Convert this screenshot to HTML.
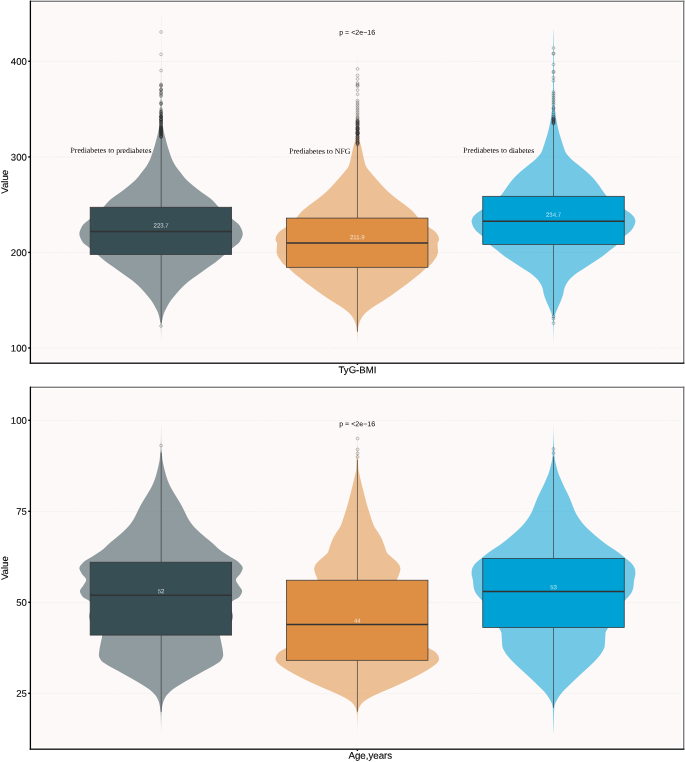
<!DOCTYPE html>
<html lang="en">
<head>
<meta charset="utf-8">
<title>Violin plots: TyG-BMI and Age by group</title>
<style>
html,body{margin:0;padding:0;background:#ffffff;}
body{width:685px;height:762px;overflow:hidden;}
svg{display:block;}
</style>
</head>
<body>
<svg width="685" height="762" viewBox="0 0 685 762">
<rect x="0" y="0" width="685" height="762" fill="#ffffff"/>
<g id="panel1">
<rect x="30.4" y="0.60" width="654.00" height="1.4" fill="#7f7f7f"/>
<rect x="683.00" y="0.60" width="1.4" height="362.60" fill="#7f7f7f"/>
<rect x="31.7" y="3.0" width="650.00" height="358.30" fill="#FDF9F8"/>
<line x1="31.7" x2="681.7" y1="61.3" y2="61.3" stroke="#d9d9d9" stroke-width="0.6" stroke-dasharray="0.9 1.15" opacity="0.85"/>
<line x1="31.7" x2="681.7" y1="156.9" y2="156.9" stroke="#d9d9d9" stroke-width="0.6" stroke-dasharray="0.9 1.15" opacity="0.85"/>
<line x1="31.7" x2="681.7" y1="252.4" y2="252.4" stroke="#d9d9d9" stroke-width="0.6" stroke-dasharray="0.9 1.15" opacity="0.85"/>
<line x1="31.7" x2="681.7" y1="348.0" y2="348.0" stroke="#d9d9d9" stroke-width="0.6" stroke-dasharray="0.9 1.15" opacity="0.85"/>
<path d="M161.03 16.00 L161.03 16.50 L161.03 17.00 L161.03 17.50 L161.03 18.00 L161.03 18.50 L161.03 19.00 L161.03 19.50 L161.03 20.00 L161.03 20.50 L161.03 21.00 L161.03 21.50 L161.03 22.00 L161.03 22.50 L161.03 23.00 L161.03 23.50 L161.03 24.00 L161.03 24.50 L161.03 25.00 L161.03 25.50 L161.03 26.00 L161.03 26.50 L161.03 27.00 L161.03 27.50 L161.03 28.00 L161.03 28.50 L161.03 29.00 L161.03 29.50 L161.03 30.00 L161.03 30.50 L161.03 31.00 L161.03 31.50 L161.03 32.00 L161.03 32.50 L161.03 33.00 L161.02 33.50 L161.02 34.00 L161.02 34.50 L161.02 35.00 L161.02 35.50 L161.02 36.00 L161.02 36.50 L161.02 37.00 L161.02 37.50 L161.02 38.00 L161.02 38.50 L161.02 39.00 L161.02 39.50 L161.02 40.00 L161.02 40.50 L161.02 41.00 L161.02 41.50 L161.02 42.00 L161.02 42.50 L161.02 43.00 L161.02 43.50 L161.02 44.00 L161.02 44.50 L161.02 45.00 L161.02 45.50 L161.02 46.00 L161.01 46.50 L161.01 47.00 L161.01 47.50 L161.01 48.00 L161.01 48.50 L161.01 49.00 L161.01 49.50 L161.01 50.00 L161.01 50.50 L161.01 51.00 L161.01 51.50 L161.01 52.00 L161.01 52.50 L161.01 53.00 L161.01 53.50 L161.01 54.00 L161.01 54.50 L161.01 55.00 L161.01 55.50 L161.00 56.00 L161.00 56.50 L161.00 57.00 L161.00 57.50 L161.00 58.00 L161.00 58.50 L161.00 59.00 L161.00 59.50 L161.00 60.00 L161.00 60.50 L161.00 61.00 L161.00 61.50 L161.00 62.00 L161.00 62.50 L161.00 63.00 L160.99 63.50 L160.99 64.00 L160.99 64.50 L160.99 65.00 L160.99 65.50 L160.99 66.00 L160.99 66.50 L160.99 67.00 L160.99 67.50 L160.98 68.00 L160.98 68.50 L160.98 69.00 L160.98 69.50 L160.98 70.00 L160.98 70.50 L160.98 71.00 L160.97 71.50 L160.97 72.00 L160.97 72.50 L160.97 73.00 L160.97 73.50 L160.97 74.00 L160.96 74.50 L160.96 75.00 L160.96 75.50 L160.96 76.00 L160.96 76.50 L160.95 77.00 L160.95 77.50 L160.95 78.00 L160.95 78.50 L160.95 79.00 L160.94 79.50 L160.94 80.00 L160.94 80.50 L160.94 81.00 L160.93 81.50 L160.93 82.00 L160.93 82.50 L160.92 83.00 L160.92 83.50 L160.92 84.00 L160.91 84.50 L160.91 85.00 L160.91 85.50 L160.90 86.00 L160.90 86.50 L160.89 87.00 L160.89 87.50 L160.88 88.00 L160.88 88.50 L160.87 89.00 L160.87 89.50 L160.86 90.00 L160.86 90.50 L160.85 91.00 L160.84 91.50 L160.84 92.00 L160.83 92.50 L160.82 93.00 L160.82 93.50 L160.81 94.00 L160.80 94.50 L160.79 95.00 L160.78 95.50 L160.78 96.00 L160.77 96.50 L160.76 97.00 L160.75 97.50 L160.74 98.00 L160.73 98.50 L160.72 99.00 L160.71 99.50 L160.70 100.00 L160.69 100.50 L160.68 101.00 L160.67 101.50 L160.65 102.00 L160.64 102.50 L160.62 103.00 L160.60 103.50 L160.59 104.00 L160.57 104.50 L160.55 105.00 L160.53 105.50 L160.50 106.00 L160.48 106.50 L160.46 107.00 L160.44 107.50 L160.41 108.00 L160.39 108.50 L160.36 109.00 L160.34 109.50 L160.31 110.00 L160.29 110.50 L160.26 111.00 L160.23 111.50 L160.21 112.00 L160.18 112.50 L160.15 113.00 L160.13 113.50 L160.10 114.00 L160.07 114.50 L160.04 115.00 L160.01 115.50 L159.98 116.00 L159.95 116.50 L159.92 117.00 L159.89 117.50 L159.86 118.00 L159.83 118.50 L159.79 119.00 L159.76 119.50 L159.72 120.00 L159.68 120.50 L159.65 121.00 L159.61 121.50 L159.57 122.00 L159.52 122.50 L159.48 123.00 L159.44 123.50 L159.39 124.00 L159.34 124.50 L159.29 125.00 L159.24 125.50 L159.19 126.00 L159.14 126.50 L159.08 127.00 L159.01 127.50 L158.94 128.00 L158.86 128.50 L158.78 129.00 L158.70 129.50 L158.61 130.00 L158.52 130.50 L158.42 131.00 L158.32 131.50 L158.22 132.00 L158.12 132.50 L158.02 133.00 L157.91 133.50 L157.80 134.00 L157.68 134.50 L157.55 135.00 L157.43 135.50 L157.29 136.00 L157.16 136.50 L157.02 137.00 L156.89 137.50 L156.75 138.00 L156.61 138.50 L156.48 139.00 L156.34 139.50 L156.21 140.00 L156.08 140.50 L155.95 141.00 L155.82 141.50 L155.68 142.00 L155.55 142.50 L155.42 143.00 L155.28 143.50 L155.14 144.00 L155.01 144.50 L154.87 145.00 L154.72 145.50 L154.58 146.00 L154.43 146.50 L154.28 147.00 L154.13 147.50 L153.98 148.00 L153.82 148.50 L153.66 149.00 L153.50 149.50 L153.34 150.00 L153.18 150.50 L153.02 151.00 L152.85 151.50 L152.69 152.00 L152.52 152.50 L152.35 153.00 L152.19 153.50 L152.03 154.00 L151.86 154.50 L151.70 155.00 L151.53 155.50 L151.36 156.00 L151.19 156.50 L151.01 157.00 L150.83 157.50 L150.64 158.00 L150.44 158.50 L150.24 159.00 L150.03 159.50 L149.80 160.00 L149.57 160.50 L149.33 161.00 L149.08 161.50 L148.83 162.00 L148.57 162.50 L148.29 163.00 L148.02 163.50 L147.73 164.00 L147.44 164.50 L147.14 165.00 L146.84 165.50 L146.52 166.00 L146.19 166.50 L145.85 167.00 L145.49 167.50 L145.12 168.00 L144.74 168.50 L144.35 169.00 L143.96 169.50 L143.56 170.00 L143.16 170.50 L142.76 171.00 L142.36 171.50 L141.97 172.00 L141.58 172.50 L141.20 173.00 L140.82 173.50 L140.44 174.00 L140.06 174.50 L139.69 175.00 L139.30 175.50 L138.92 176.00 L138.52 176.50 L138.12 177.00 L137.70 177.50 L137.27 178.00 L136.83 178.50 L136.37 179.00 L135.89 179.50 L135.39 180.00 L134.88 180.50 L134.35 181.00 L133.80 181.50 L133.25 182.00 L132.68 182.50 L132.11 183.00 L131.53 183.50 L130.94 184.00 L130.35 184.50 L129.76 185.00 L129.17 185.50 L128.57 186.00 L127.96 186.50 L127.34 187.00 L126.71 187.50 L126.07 188.00 L125.43 188.50 L124.78 189.00 L124.13 189.50 L123.47 190.00 L122.81 190.50 L122.15 191.00 L121.49 191.50 L120.82 192.00 L120.15 192.50 L119.46 193.00 L118.75 193.50 L118.03 194.00 L117.31 194.50 L116.58 195.00 L115.85 195.50 L115.13 196.00 L114.41 196.50 L113.71 197.00 L113.02 197.50 L112.35 198.00 L111.70 198.50 L111.08 199.00 L110.49 199.50 L109.94 200.00 L109.41 200.50 L108.91 201.00 L108.43 201.50 L107.96 202.00 L107.51 202.50 L107.06 203.00 L106.62 203.50 L106.19 204.00 L105.75 204.50 L105.30 205.00 L104.85 205.50 L104.38 206.00 L103.90 206.50 L103.40 207.00 L102.88 207.50 L102.35 208.00 L101.82 208.50 L101.28 209.00 L100.73 209.50 L100.17 210.00 L99.61 210.50 L99.04 211.00 L98.47 211.50 L97.90 212.00 L97.32 212.50 L96.74 213.00 L96.16 213.50 L95.57 214.00 L94.99 214.50 L94.40 215.00 L93.82 215.50 L93.24 216.00 L92.66 216.50 L92.09 217.00 L91.52 217.50 L90.95 218.00 L90.39 218.50 L89.83 219.00 L89.25 219.50 L88.64 220.00 L88.01 220.50 L87.38 221.00 L86.74 221.50 L86.11 222.00 L85.49 222.50 L84.89 223.00 L84.32 223.50 L83.79 224.00 L83.30 224.50 L82.87 225.00 L82.50 225.50 L82.19 226.00 L81.92 226.50 L81.66 227.00 L81.40 227.50 L81.15 228.00 L80.90 228.50 L80.67 229.00 L80.45 229.50 L80.25 230.00 L80.06 230.50 L79.89 231.00 L79.75 231.50 L79.62 232.00 L79.52 232.50 L79.45 233.00 L79.41 233.50 L79.40 234.00 L79.43 234.50 L79.49 235.00 L79.58 235.50 L79.69 236.00 L79.84 236.50 L80.01 237.00 L80.20 237.50 L80.41 238.00 L80.64 238.50 L80.89 239.00 L81.15 239.50 L81.42 240.00 L81.70 240.50 L81.98 241.00 L82.27 241.50 L82.58 242.00 L82.96 242.50 L83.41 243.00 L83.93 243.50 L84.49 244.00 L85.10 244.50 L85.74 245.00 L86.40 245.50 L87.08 246.00 L87.75 246.50 L88.42 247.00 L89.07 247.50 L89.70 248.00 L90.29 248.50 L90.87 249.00 L91.46 249.50 L92.04 250.00 L92.63 250.50 L93.21 251.00 L93.80 251.50 L94.38 252.00 L94.97 252.50 L95.56 253.00 L96.15 253.50 L96.73 254.00 L97.33 254.50 L97.91 255.00 L98.50 255.50 L99.08 256.00 L99.66 256.50 L100.24 257.00 L100.82 257.50 L101.40 258.00 L101.99 258.50 L102.58 259.00 L103.18 259.50 L103.78 260.00 L104.40 260.50 L105.02 261.00 L105.66 261.50 L106.31 262.00 L106.98 262.50 L107.66 263.00 L108.36 263.50 L109.07 264.00 L109.78 264.50 L110.50 265.00 L111.22 265.50 L111.95 266.00 L112.67 266.50 L113.39 267.00 L114.10 267.50 L114.81 268.00 L115.51 268.50 L116.21 269.00 L116.90 269.50 L117.60 270.00 L118.29 270.50 L118.98 271.00 L119.68 271.50 L120.37 272.00 L121.06 272.50 L121.75 273.00 L122.45 273.50 L123.14 274.00 L123.83 274.50 L124.53 275.00 L125.23 275.50 L125.95 276.00 L126.66 276.50 L127.38 277.00 L128.10 277.50 L128.82 278.00 L129.53 278.50 L130.23 279.00 L130.92 279.50 L131.60 280.00 L132.26 280.50 L132.90 281.00 L133.51 281.50 L134.12 282.00 L134.72 282.50 L135.30 283.00 L135.88 283.50 L136.44 284.00 L137.00 284.50 L137.54 285.00 L138.08 285.50 L138.61 286.00 L139.13 286.50 L139.64 287.00 L140.14 287.50 L140.64 288.00 L141.12 288.50 L141.59 289.00 L142.06 289.50 L142.51 290.00 L142.96 290.50 L143.41 291.00 L143.84 291.50 L144.28 292.00 L144.71 292.50 L145.13 293.00 L145.55 293.50 L145.98 294.00 L146.40 294.50 L146.82 295.00 L147.24 295.50 L147.67 296.00 L148.09 296.50 L148.51 297.00 L148.92 297.50 L149.33 298.00 L149.73 298.50 L150.13 299.00 L150.51 299.50 L150.88 300.00 L151.24 300.50 L151.59 301.00 L151.93 301.50 L152.25 302.00 L152.57 302.50 L152.89 303.00 L153.19 303.50 L153.49 304.00 L153.78 304.50 L154.07 305.00 L154.35 305.50 L154.63 306.00 L154.90 306.50 L155.16 307.00 L155.42 307.50 L155.68 308.00 L155.94 308.50 L156.20 309.00 L156.46 309.50 L156.71 310.00 L156.96 310.50 L157.20 311.00 L157.44 311.50 L157.66 312.00 L157.87 312.50 L158.07 313.00 L158.26 313.50 L158.43 314.00 L158.58 314.50 L158.73 315.00 L158.87 315.50 L159.00 316.00 L159.12 316.50 L159.24 317.00 L159.36 317.50 L159.47 318.00 L159.58 318.50 L159.68 319.00 L159.79 319.50 L159.90 320.00 L160.01 320.50 L160.12 321.00 L160.25 321.50 L160.38 322.00 L160.50 322.50 L160.59 323.00 L160.65 323.50 L160.69 324.00 L160.72 324.50 L160.75 325.00 L160.78 325.50 L160.81 326.00 L160.83 326.50 L160.85 327.00 L160.87 327.50 L160.89 328.00 L160.90 328.50 L160.91 329.00 L160.92 329.50 L160.93 330.00 L160.94 330.50 L160.95 331.00 L160.95 331.50 L160.96 332.00 L160.97 332.50 L160.97 333.00 L160.98 333.50 L160.98 334.00 L160.99 334.50 L160.99 335.00 L161.00 335.50 L161.00 336.00 L161.01 336.50 L161.01 337.00 L161.01 337.50 L161.02 338.00 L161.02 338.50 L161.02 339.00 L161.02 339.50 L161.02 340.00 L161.08 340.00 L161.08 339.50 L161.08 339.00 L161.08 338.50 L161.08 338.00 L161.09 337.50 L161.09 337.00 L161.09 336.50 L161.10 336.00 L161.10 335.50 L161.11 335.00 L161.11 334.50 L161.12 334.00 L161.12 333.50 L161.13 333.00 L161.13 332.50 L161.14 332.00 L161.15 331.50 L161.15 331.00 L161.16 330.50 L161.17 330.00 L161.18 329.50 L161.19 329.00 L161.20 328.50 L161.21 328.00 L161.23 327.50 L161.25 327.00 L161.27 326.50 L161.29 326.00 L161.32 325.50 L161.35 325.00 L161.38 324.50 L161.41 324.00 L161.45 323.50 L161.51 323.00 L161.60 322.50 L161.72 322.00 L161.85 321.50 L161.98 321.00 L162.09 320.50 L162.20 320.00 L162.31 319.50 L162.42 319.00 L162.52 318.50 L162.63 318.00 L162.74 317.50 L162.86 317.00 L162.98 316.50 L163.10 316.00 L163.23 315.50 L163.37 315.00 L163.52 314.50 L163.67 314.00 L163.84 313.50 L164.03 313.00 L164.23 312.50 L164.44 312.00 L164.66 311.50 L164.90 311.00 L165.14 310.50 L165.39 310.00 L165.64 309.50 L165.90 309.00 L166.16 308.50 L166.42 308.00 L166.68 307.50 L166.94 307.00 L167.20 306.50 L167.47 306.00 L167.75 305.50 L168.03 305.00 L168.32 304.50 L168.61 304.00 L168.91 303.50 L169.21 303.00 L169.53 302.50 L169.85 302.00 L170.17 301.50 L170.51 301.00 L170.86 300.50 L171.22 300.00 L171.59 299.50 L171.97 299.00 L172.37 298.50 L172.77 298.00 L173.18 297.50 L173.59 297.00 L174.01 296.50 L174.43 296.00 L174.86 295.50 L175.28 295.00 L175.70 294.50 L176.12 294.00 L176.55 293.50 L176.97 293.00 L177.39 292.50 L177.82 292.00 L178.26 291.50 L178.69 291.00 L179.14 290.50 L179.59 290.00 L180.04 289.50 L180.51 289.00 L180.98 288.50 L181.46 288.00 L181.96 287.50 L182.46 287.00 L182.97 286.50 L183.49 286.00 L184.02 285.50 L184.56 285.00 L185.10 284.50 L185.66 284.00 L186.22 283.50 L186.80 283.00 L187.38 282.50 L187.98 282.00 L188.59 281.50 L189.20 281.00 L189.84 280.50 L190.50 280.00 L191.18 279.50 L191.87 279.00 L192.57 278.50 L193.28 278.00 L194.00 277.50 L194.72 277.00 L195.44 276.50 L196.15 276.00 L196.87 275.50 L197.57 275.00 L198.27 274.50 L198.96 274.00 L199.65 273.50 L200.35 273.00 L201.04 272.50 L201.73 272.00 L202.42 271.50 L203.12 271.00 L203.81 270.50 L204.50 270.00 L205.20 269.50 L205.89 269.00 L206.59 268.50 L207.29 268.00 L208.00 267.50 L208.71 267.00 L209.43 266.50 L210.15 266.00 L210.88 265.50 L211.60 265.00 L212.32 264.50 L213.03 264.00 L213.74 263.50 L214.44 263.00 L215.12 262.50 L215.79 262.00 L216.44 261.50 L217.08 261.00 L217.70 260.50 L218.32 260.00 L218.92 259.50 L219.52 259.00 L220.11 258.50 L220.70 258.00 L221.28 257.50 L221.86 257.00 L222.44 256.50 L223.02 256.00 L223.60 255.50 L224.19 255.00 L224.77 254.50 L225.37 254.00 L225.95 253.50 L226.54 253.00 L227.13 252.50 L227.72 252.00 L228.30 251.50 L228.89 251.00 L229.47 250.50 L230.06 250.00 L230.64 249.50 L231.23 249.00 L231.81 248.50 L232.40 248.00 L233.03 247.50 L233.68 247.00 L234.35 246.50 L235.02 246.00 L235.70 245.50 L236.36 245.00 L237.00 244.50 L237.61 244.00 L238.17 243.50 L238.69 243.00 L239.14 242.50 L239.52 242.00 L239.83 241.50 L240.12 241.00 L240.40 240.50 L240.68 240.00 L240.95 239.50 L241.21 239.00 L241.46 238.50 L241.69 238.00 L241.90 237.50 L242.09 237.00 L242.26 236.50 L242.41 236.00 L242.52 235.50 L242.61 235.00 L242.67 234.50 L242.70 234.00 L242.69 233.50 L242.65 233.00 L242.58 232.50 L242.48 232.00 L242.35 231.50 L242.21 231.00 L242.04 230.50 L241.85 230.00 L241.65 229.50 L241.43 229.00 L241.20 228.50 L240.95 228.00 L240.70 227.50 L240.44 227.00 L240.18 226.50 L239.91 226.00 L239.60 225.50 L239.23 225.00 L238.80 224.50 L238.31 224.00 L237.78 223.50 L237.21 223.00 L236.61 222.50 L235.99 222.00 L235.36 221.50 L234.72 221.00 L234.09 220.50 L233.46 220.00 L232.85 219.50 L232.27 219.00 L231.71 218.50 L231.15 218.00 L230.58 217.50 L230.01 217.00 L229.44 216.50 L228.86 216.00 L228.28 215.50 L227.70 215.00 L227.11 214.50 L226.53 214.00 L225.94 213.50 L225.36 213.00 L224.78 212.50 L224.20 212.00 L223.63 211.50 L223.06 211.00 L222.49 210.50 L221.93 210.00 L221.37 209.50 L220.82 209.00 L220.28 208.50 L219.75 208.00 L219.22 207.50 L218.70 207.00 L218.20 206.50 L217.72 206.00 L217.25 205.50 L216.80 205.00 L216.35 204.50 L215.91 204.00 L215.48 203.50 L215.04 203.00 L214.59 202.50 L214.14 202.00 L213.67 201.50 L213.19 201.00 L212.69 200.50 L212.16 200.00 L211.61 199.50 L211.02 199.00 L210.40 198.50 L209.75 198.00 L209.08 197.50 L208.39 197.00 L207.69 196.50 L206.97 196.00 L206.25 195.50 L205.52 195.00 L204.79 194.50 L204.07 194.00 L203.35 193.50 L202.64 193.00 L201.95 192.50 L201.28 192.00 L200.61 191.50 L199.95 191.00 L199.29 190.50 L198.63 190.00 L197.97 189.50 L197.32 189.00 L196.67 188.50 L196.03 188.00 L195.39 187.50 L194.76 187.00 L194.14 186.50 L193.53 186.00 L192.93 185.50 L192.34 185.00 L191.75 184.50 L191.16 184.00 L190.57 183.50 L189.99 183.00 L189.42 182.50 L188.85 182.00 L188.30 181.50 L187.75 181.00 L187.22 180.50 L186.71 180.00 L186.21 179.50 L185.73 179.00 L185.27 178.50 L184.83 178.00 L184.40 177.50 L183.98 177.00 L183.58 176.50 L183.18 176.00 L182.80 175.50 L182.41 175.00 L182.04 174.50 L181.66 174.00 L181.28 173.50 L180.90 173.00 L180.52 172.50 L180.13 172.00 L179.74 171.50 L179.34 171.00 L178.94 170.50 L178.54 170.00 L178.14 169.50 L177.75 169.00 L177.36 168.50 L176.98 168.00 L176.61 167.50 L176.25 167.00 L175.91 166.50 L175.58 166.00 L175.26 165.50 L174.96 165.00 L174.66 164.50 L174.37 164.00 L174.08 163.50 L173.81 163.00 L173.53 162.50 L173.27 162.00 L173.02 161.50 L172.77 161.00 L172.53 160.50 L172.30 160.00 L172.07 159.50 L171.86 159.00 L171.66 158.50 L171.46 158.00 L171.27 157.50 L171.09 157.00 L170.91 156.50 L170.74 156.00 L170.57 155.50 L170.40 155.00 L170.24 154.50 L170.07 154.00 L169.91 153.50 L169.75 153.00 L169.58 152.50 L169.41 152.00 L169.25 151.50 L169.08 151.00 L168.92 150.50 L168.76 150.00 L168.60 149.50 L168.44 149.00 L168.28 148.50 L168.12 148.00 L167.97 147.50 L167.82 147.00 L167.67 146.50 L167.52 146.00 L167.38 145.50 L167.23 145.00 L167.09 144.50 L166.96 144.00 L166.82 143.50 L166.68 143.00 L166.55 142.50 L166.42 142.00 L166.28 141.50 L166.15 141.00 L166.02 140.50 L165.89 140.00 L165.76 139.50 L165.62 139.00 L165.49 138.50 L165.35 138.00 L165.21 137.50 L165.08 137.00 L164.94 136.50 L164.81 136.00 L164.67 135.50 L164.55 135.00 L164.42 134.50 L164.30 134.00 L164.19 133.50 L164.08 133.00 L163.98 132.50 L163.88 132.00 L163.78 131.50 L163.68 131.00 L163.58 130.50 L163.49 130.00 L163.40 129.50 L163.32 129.00 L163.24 128.50 L163.16 128.00 L163.09 127.50 L163.02 127.00 L162.96 126.50 L162.91 126.00 L162.86 125.50 L162.81 125.00 L162.76 124.50 L162.71 124.00 L162.66 123.50 L162.62 123.00 L162.58 122.50 L162.53 122.00 L162.49 121.50 L162.45 121.00 L162.42 120.50 L162.38 120.00 L162.34 119.50 L162.31 119.00 L162.27 118.50 L162.24 118.00 L162.21 117.50 L162.18 117.00 L162.15 116.50 L162.12 116.00 L162.09 115.50 L162.06 115.00 L162.03 114.50 L162.00 114.00 L161.97 113.50 L161.95 113.00 L161.92 112.50 L161.89 112.00 L161.87 111.50 L161.84 111.00 L161.81 110.50 L161.79 110.00 L161.76 109.50 L161.74 109.00 L161.71 108.50 L161.69 108.00 L161.66 107.50 L161.64 107.00 L161.62 106.50 L161.60 106.00 L161.57 105.50 L161.55 105.00 L161.53 104.50 L161.51 104.00 L161.50 103.50 L161.48 103.00 L161.46 102.50 L161.45 102.00 L161.43 101.50 L161.42 101.00 L161.41 100.50 L161.40 100.00 L161.39 99.50 L161.38 99.00 L161.37 98.50 L161.36 98.00 L161.35 97.50 L161.34 97.00 L161.33 96.50 L161.32 96.00 L161.32 95.50 L161.31 95.00 L161.30 94.50 L161.29 94.00 L161.28 93.50 L161.28 93.00 L161.27 92.50 L161.26 92.00 L161.26 91.50 L161.25 91.00 L161.24 90.50 L161.24 90.00 L161.23 89.50 L161.23 89.00 L161.22 88.50 L161.22 88.00 L161.21 87.50 L161.21 87.00 L161.20 86.50 L161.20 86.00 L161.19 85.50 L161.19 85.00 L161.19 84.50 L161.18 84.00 L161.18 83.50 L161.18 83.00 L161.17 82.50 L161.17 82.00 L161.17 81.50 L161.16 81.00 L161.16 80.50 L161.16 80.00 L161.16 79.50 L161.15 79.00 L161.15 78.50 L161.15 78.00 L161.15 77.50 L161.15 77.00 L161.14 76.50 L161.14 76.00 L161.14 75.50 L161.14 75.00 L161.14 74.50 L161.13 74.00 L161.13 73.50 L161.13 73.00 L161.13 72.50 L161.13 72.00 L161.13 71.50 L161.12 71.00 L161.12 70.50 L161.12 70.00 L161.12 69.50 L161.12 69.00 L161.12 68.50 L161.12 68.00 L161.11 67.50 L161.11 67.00 L161.11 66.50 L161.11 66.00 L161.11 65.50 L161.11 65.00 L161.11 64.50 L161.11 64.00 L161.11 63.50 L161.10 63.00 L161.10 62.50 L161.10 62.00 L161.10 61.50 L161.10 61.00 L161.10 60.50 L161.10 60.00 L161.10 59.50 L161.10 59.00 L161.10 58.50 L161.10 58.00 L161.10 57.50 L161.10 57.00 L161.10 56.50 L161.10 56.00 L161.09 55.50 L161.09 55.00 L161.09 54.50 L161.09 54.00 L161.09 53.50 L161.09 53.00 L161.09 52.50 L161.09 52.00 L161.09 51.50 L161.09 51.00 L161.09 50.50 L161.09 50.00 L161.09 49.50 L161.09 49.00 L161.09 48.50 L161.09 48.00 L161.09 47.50 L161.09 47.00 L161.09 46.50 L161.08 46.00 L161.08 45.50 L161.08 45.00 L161.08 44.50 L161.08 44.00 L161.08 43.50 L161.08 43.00 L161.08 42.50 L161.08 42.00 L161.08 41.50 L161.08 41.00 L161.08 40.50 L161.08 40.00 L161.08 39.50 L161.08 39.00 L161.08 38.50 L161.08 38.00 L161.08 37.50 L161.08 37.00 L161.08 36.50 L161.08 36.00 L161.08 35.50 L161.08 35.00 L161.08 34.50 L161.08 34.00 L161.08 33.50 L161.07 33.00 L161.07 32.50 L161.07 32.00 L161.07 31.50 L161.07 31.00 L161.07 30.50 L161.07 30.00 L161.07 29.50 L161.07 29.00 L161.07 28.50 L161.07 28.00 L161.07 27.50 L161.07 27.00 L161.07 26.50 L161.07 26.00 L161.07 25.50 L161.07 25.00 L161.07 24.50 L161.07 24.00 L161.07 23.50 L161.07 23.00 L161.07 22.50 L161.07 22.00 L161.07 21.50 L161.07 21.00 L161.07 20.50 L161.07 20.00 L161.07 19.50 L161.07 19.00 L161.07 18.50 L161.07 18.00 L161.07 17.50 L161.07 17.00 L161.07 16.50 L161.07 16.00Z" fill="#374E55" fill-opacity="0.55"/>
<path d="M357.28 54.00 L357.28 54.50 L357.28 55.00 L357.28 55.50 L357.28 56.00 L357.28 56.50 L357.28 57.00 L357.28 57.50 L357.28 58.00 L357.28 58.50 L357.28 59.00 L357.28 59.50 L357.28 60.00 L357.28 60.50 L357.28 61.00 L357.28 61.50 L357.28 62.00 L357.28 62.50 L357.28 63.00 L357.28 63.50 L357.28 64.00 L357.28 64.50 L357.28 65.00 L357.27 65.50 L357.27 66.00 L357.27 66.50 L357.27 67.00 L357.27 67.50 L357.27 68.00 L357.27 68.50 L357.27 69.00 L357.27 69.50 L357.27 70.00 L357.27 70.50 L357.27 71.00 L357.27 71.50 L357.27 72.00 L357.27 72.50 L357.27 73.00 L357.27 73.50 L357.26 74.00 L357.26 74.50 L357.26 75.00 L357.26 75.50 L357.26 76.00 L357.26 76.50 L357.26 77.00 L357.26 77.50 L357.26 78.00 L357.26 78.50 L357.26 79.00 L357.26 79.50 L357.25 80.00 L357.25 80.50 L357.25 81.00 L357.25 81.50 L357.25 82.00 L357.25 82.50 L357.25 83.00 L357.25 83.50 L357.25 84.00 L357.24 84.50 L357.24 85.00 L357.24 85.50 L357.24 86.00 L357.24 86.50 L357.24 87.00 L357.24 87.50 L357.24 88.00 L357.23 88.50 L357.23 89.00 L357.23 89.50 L357.23 90.00 L357.23 90.50 L357.23 91.00 L357.23 91.50 L357.23 92.00 L357.22 92.50 L357.22 93.00 L357.22 93.50 L357.22 94.00 L357.22 94.50 L357.22 95.00 L357.21 95.50 L357.21 96.00 L357.21 96.50 L357.21 97.00 L357.21 97.50 L357.21 98.00 L357.21 98.50 L357.20 99.00 L357.20 99.50 L357.20 100.00 L357.20 100.50 L357.20 101.00 L357.19 101.50 L357.19 102.00 L357.19 102.50 L357.19 103.00 L357.18 103.50 L357.18 104.00 L357.17 104.50 L357.17 105.00 L357.17 105.50 L357.16 106.00 L357.16 106.50 L357.15 107.00 L357.15 107.50 L357.14 108.00 L357.13 108.50 L357.13 109.00 L357.12 109.50 L357.12 110.00 L357.11 110.50 L357.10 111.00 L357.09 111.50 L357.09 112.00 L357.08 112.50 L357.07 113.00 L357.06 113.50 L357.05 114.00 L357.04 114.50 L357.04 115.00 L357.03 115.50 L357.02 116.00 L357.01 116.50 L357.00 117.00 L356.99 117.50 L356.98 118.00 L356.96 118.50 L356.95 119.00 L356.94 119.50 L356.93 120.00 L356.92 120.50 L356.91 121.00 L356.89 121.50 L356.88 122.00 L356.87 122.50 L356.86 123.00 L356.84 123.50 L356.83 124.00 L356.82 124.50 L356.80 125.00 L356.79 125.50 L356.77 126.00 L356.75 126.50 L356.72 127.00 L356.70 127.50 L356.67 128.00 L356.64 128.50 L356.61 129.00 L356.58 129.50 L356.54 130.00 L356.51 130.50 L356.47 131.00 L356.43 131.50 L356.39 132.00 L356.35 132.50 L356.30 133.00 L356.26 133.50 L356.20 134.00 L356.14 134.50 L356.08 135.00 L356.01 135.50 L355.94 136.00 L355.87 136.50 L355.79 137.00 L355.70 137.50 L355.62 138.00 L355.53 138.50 L355.44 139.00 L355.34 139.50 L355.24 140.00 L355.13 140.50 L355.01 141.00 L354.88 141.50 L354.74 142.00 L354.60 142.50 L354.45 143.00 L354.30 143.50 L354.15 144.00 L354.01 144.50 L353.86 145.00 L353.72 145.50 L353.59 146.00 L353.46 146.50 L353.34 147.00 L353.22 147.50 L353.10 148.00 L352.98 148.50 L352.86 149.00 L352.75 149.50 L352.64 150.00 L352.52 150.50 L352.41 151.00 L352.30 151.50 L352.19 152.00 L352.08 152.50 L351.97 153.00 L351.86 153.50 L351.76 154.00 L351.66 154.50 L351.55 155.00 L351.45 155.50 L351.35 156.00 L351.25 156.50 L351.15 157.00 L351.05 157.50 L350.94 158.00 L350.83 158.50 L350.71 159.00 L350.59 159.50 L350.47 160.00 L350.35 160.50 L350.23 161.00 L350.11 161.50 L349.99 162.00 L349.86 162.50 L349.73 163.00 L349.59 163.50 L349.44 164.00 L349.28 164.50 L349.10 165.00 L348.92 165.50 L348.72 166.00 L348.49 166.50 L348.22 167.00 L347.92 167.50 L347.58 168.00 L347.22 168.50 L346.83 169.00 L346.43 169.50 L346.01 170.00 L345.59 170.50 L345.16 171.00 L344.74 171.50 L344.32 172.00 L343.91 172.50 L343.51 173.00 L343.10 173.50 L342.69 174.00 L342.27 174.50 L341.84 175.00 L341.41 175.50 L340.97 176.00 L340.54 176.50 L340.10 177.00 L339.65 177.50 L339.21 178.00 L338.77 178.50 L338.33 179.00 L337.90 179.50 L337.46 180.00 L337.02 180.50 L336.59 181.00 L336.15 181.50 L335.71 182.00 L335.27 182.50 L334.83 183.00 L334.38 183.50 L333.93 184.00 L333.47 184.50 L333.01 185.00 L332.55 185.50 L332.08 186.00 L331.60 186.50 L331.13 187.00 L330.65 187.50 L330.17 188.00 L329.69 188.50 L329.19 189.00 L328.70 189.50 L328.19 190.00 L327.68 190.50 L327.17 191.00 L326.64 191.50 L326.10 192.00 L325.56 192.50 L325.00 193.00 L324.43 193.50 L323.84 194.00 L323.25 194.50 L322.65 195.00 L322.04 195.50 L321.43 196.00 L320.81 196.50 L320.18 197.00 L319.55 197.50 L318.91 198.00 L318.28 198.50 L317.64 199.00 L316.99 199.50 L316.32 200.00 L315.65 200.50 L314.96 201.00 L314.27 201.50 L313.58 202.00 L312.89 202.50 L312.20 203.00 L311.52 203.50 L310.84 204.00 L310.18 204.50 L309.53 205.00 L308.89 205.50 L308.26 206.00 L307.63 206.50 L306.99 207.00 L306.37 207.50 L305.74 208.00 L305.13 208.50 L304.53 209.00 L303.93 209.50 L303.36 210.00 L302.80 210.50 L302.26 211.00 L301.74 211.50 L301.24 212.00 L300.77 212.50 L300.33 213.00 L299.90 213.50 L299.49 214.00 L299.09 214.50 L298.70 215.00 L298.30 215.50 L297.90 216.00 L297.49 216.50 L297.07 217.00 L296.62 217.50 L296.15 218.00 L295.67 218.50 L295.17 219.00 L294.67 219.50 L294.16 220.00 L293.64 220.50 L293.12 221.00 L292.58 221.50 L292.03 222.00 L291.48 222.50 L290.92 223.00 L290.34 223.50 L289.76 224.00 L289.17 224.50 L288.57 225.00 L287.97 225.50 L287.35 226.00 L286.72 226.50 L286.08 227.00 L285.36 227.50 L284.59 228.00 L283.80 228.50 L283.00 229.00 L282.22 229.50 L281.47 230.00 L280.79 230.50 L280.19 231.00 L279.70 231.50 L279.23 232.00 L278.78 232.50 L278.34 233.00 L277.93 233.50 L277.55 234.00 L277.20 234.50 L276.88 235.00 L276.61 235.50 L276.38 236.00 L276.20 236.50 L276.04 237.00 L275.89 237.50 L275.75 238.00 L275.64 238.50 L275.55 239.00 L275.51 239.50 L275.51 240.00 L275.67 240.50 L275.95 241.00 L276.28 241.50 L276.61 242.00 L276.86 242.50 L276.99 243.00 L276.99 243.50 L276.99 244.00 L276.98 244.50 L276.96 245.00 L276.95 245.50 L276.93 246.00 L276.91 246.50 L276.89 247.00 L276.87 247.50 L276.83 248.00 L276.78 248.50 L276.72 249.00 L276.68 249.50 L276.63 250.00 L276.60 250.50 L276.59 251.00 L276.61 251.50 L276.66 252.00 L276.73 252.50 L276.82 253.00 L276.93 253.50 L277.06 254.00 L277.19 254.50 L277.32 255.00 L277.49 255.50 L277.71 256.00 L277.97 256.50 L278.26 257.00 L278.58 257.50 L278.92 258.00 L279.28 258.50 L279.64 259.00 L280.00 259.50 L280.35 260.00 L280.69 260.50 L281.03 261.00 L281.37 261.50 L281.73 262.00 L282.10 262.50 L282.50 263.00 L282.92 263.50 L283.38 264.00 L283.90 264.50 L284.51 265.00 L285.18 265.50 L285.88 266.00 L286.57 266.50 L287.22 267.00 L287.82 267.50 L288.40 268.00 L288.96 268.50 L289.50 269.00 L290.04 269.50 L290.57 270.00 L291.09 270.50 L291.62 271.00 L292.15 271.50 L292.69 272.00 L293.24 272.50 L293.80 273.00 L294.39 273.50 L294.98 274.00 L295.59 274.50 L296.21 275.00 L296.84 275.50 L297.47 276.00 L298.11 276.50 L298.75 277.00 L299.39 277.50 L300.04 278.00 L300.67 278.50 L301.31 279.00 L301.94 279.50 L302.55 280.00 L303.16 280.50 L303.76 281.00 L304.38 281.50 L305.01 282.00 L305.65 282.50 L306.31 283.00 L306.97 283.50 L307.64 284.00 L308.31 284.50 L308.99 285.00 L309.67 285.50 L310.35 286.00 L311.04 286.50 L311.73 287.00 L312.41 287.50 L313.10 288.00 L313.78 288.50 L314.46 289.00 L315.14 289.50 L315.82 290.00 L316.50 290.50 L317.18 291.00 L317.87 291.50 L318.55 292.00 L319.24 292.50 L319.94 293.00 L320.64 293.50 L321.34 294.00 L322.05 294.50 L322.77 295.00 L323.49 295.50 L324.22 296.00 L324.96 296.50 L325.70 297.00 L326.44 297.50 L327.19 298.00 L327.94 298.50 L328.69 299.00 L329.45 299.50 L330.21 300.00 L330.98 300.50 L331.74 301.00 L332.51 301.50 L333.30 302.00 L334.11 302.50 L334.93 303.00 L335.75 303.50 L336.59 304.00 L337.42 304.50 L338.25 305.00 L339.07 305.50 L339.87 306.00 L340.65 306.50 L341.41 307.00 L342.14 307.50 L342.83 308.00 L343.51 308.50 L344.19 309.00 L344.86 309.50 L345.52 310.00 L346.17 310.50 L346.80 311.00 L347.42 311.50 L348.01 312.00 L348.58 312.50 L349.12 313.00 L349.63 313.50 L350.10 314.00 L350.53 314.50 L350.93 315.00 L351.32 315.50 L351.69 316.00 L352.05 316.50 L352.40 317.00 L352.73 317.50 L353.04 318.00 L353.34 318.50 L353.62 319.00 L353.88 319.50 L354.13 320.00 L354.36 320.50 L354.57 321.00 L354.76 321.50 L354.95 322.00 L355.13 322.50 L355.30 323.00 L355.47 323.50 L355.63 324.00 L355.78 324.50 L355.92 325.00 L356.05 325.50 L356.17 326.00 L356.28 326.50 L356.38 327.00 L356.47 327.50 L356.55 328.00 L356.62 328.50 L356.69 329.00 L356.75 329.50 L356.81 330.00 L356.86 330.50 L356.91 331.00 L356.94 331.50 L356.98 332.00 L357.01 332.50 L357.03 333.00 L357.06 333.50 L357.08 334.00 L357.10 334.50 L357.12 335.00 L357.14 335.50 L357.16 336.00 L357.17 336.50 L357.18 337.00 L357.19 337.50 L357.20 338.00 L357.21 338.50 L357.22 339.00 L357.22 339.50 L357.23 340.00 L357.24 340.50 L357.24 341.00 L357.25 341.50 L357.25 342.00 L357.26 342.50 L357.26 343.00 L357.27 343.50 L357.27 344.00 L357.27 344.50 L357.27 345.00 L357.33 345.00 L357.33 344.50 L357.33 344.00 L357.33 343.50 L357.34 343.00 L357.34 342.50 L357.35 342.00 L357.35 341.50 L357.36 341.00 L357.36 340.50 L357.37 340.00 L357.38 339.50 L357.38 339.00 L357.39 338.50 L357.40 338.00 L357.41 337.50 L357.42 337.00 L357.43 336.50 L357.44 336.00 L357.46 335.50 L357.48 335.00 L357.50 334.50 L357.52 334.00 L357.54 333.50 L357.57 333.00 L357.59 332.50 L357.62 332.00 L357.66 331.50 L357.69 331.00 L357.74 330.50 L357.79 330.00 L357.85 329.50 L357.91 329.00 L357.98 328.50 L358.05 328.00 L358.13 327.50 L358.22 327.00 L358.32 326.50 L358.43 326.00 L358.55 325.50 L358.68 325.00 L358.82 324.50 L358.97 324.00 L359.13 323.50 L359.30 323.00 L359.47 322.50 L359.65 322.00 L359.84 321.50 L360.03 321.00 L360.24 320.50 L360.47 320.00 L360.72 319.50 L360.98 319.00 L361.26 318.50 L361.56 318.00 L361.87 317.50 L362.20 317.00 L362.55 316.50 L362.91 316.00 L363.28 315.50 L363.67 315.00 L364.07 314.50 L364.50 314.00 L364.97 313.50 L365.48 313.00 L366.02 312.50 L366.59 312.00 L367.18 311.50 L367.80 311.00 L368.43 310.50 L369.08 310.00 L369.74 309.50 L370.41 309.00 L371.09 308.50 L371.77 308.00 L372.46 307.50 L373.19 307.00 L373.95 306.50 L374.73 306.00 L375.53 305.50 L376.35 305.00 L377.18 304.50 L378.01 304.00 L378.85 303.50 L379.67 303.00 L380.49 302.50 L381.30 302.00 L382.09 301.50 L382.86 301.00 L383.62 300.50 L384.39 300.00 L385.15 299.50 L385.91 299.00 L386.66 298.50 L387.41 298.00 L388.16 297.50 L388.90 297.00 L389.64 296.50 L390.38 296.00 L391.11 295.50 L391.83 295.00 L392.55 294.50 L393.26 294.00 L393.96 293.50 L394.66 293.00 L395.36 292.50 L396.05 292.00 L396.73 291.50 L397.42 291.00 L398.10 290.50 L398.78 290.00 L399.46 289.50 L400.14 289.00 L400.82 288.50 L401.50 288.00 L402.19 287.50 L402.87 287.00 L403.56 286.50 L404.25 286.00 L404.93 285.50 L405.61 285.00 L406.29 284.50 L406.96 284.00 L407.63 283.50 L408.29 283.00 L408.95 282.50 L409.59 282.00 L410.22 281.50 L410.84 281.00 L411.44 280.50 L412.05 280.00 L412.66 279.50 L413.29 279.00 L413.93 278.50 L414.56 278.00 L415.21 277.50 L415.85 277.00 L416.49 276.50 L417.13 276.00 L417.76 275.50 L418.39 275.00 L419.01 274.50 L419.62 274.00 L420.21 273.50 L420.80 273.00 L421.36 272.50 L421.91 272.00 L422.45 271.50 L422.98 271.00 L423.51 270.50 L424.03 270.00 L424.56 269.50 L425.10 269.00 L425.64 268.50 L426.20 268.00 L426.78 267.50 L427.38 267.00 L428.03 266.50 L428.72 266.00 L429.42 265.50 L430.09 265.00 L430.70 264.50 L431.22 264.00 L431.68 263.50 L432.10 263.00 L432.50 262.50 L432.87 262.00 L433.23 261.50 L433.57 261.00 L433.91 260.50 L434.25 260.00 L434.60 259.50 L434.96 259.00 L435.32 258.50 L435.68 258.00 L436.02 257.50 L436.34 257.00 L436.63 256.50 L436.89 256.00 L437.11 255.50 L437.28 255.00 L437.41 254.50 L437.54 254.00 L437.67 253.50 L437.78 253.00 L437.87 252.50 L437.94 252.00 L437.99 251.50 L438.01 251.00 L438.00 250.50 L437.97 250.00 L437.92 249.50 L437.88 249.00 L437.82 248.50 L437.77 248.00 L437.73 247.50 L437.71 247.00 L437.69 246.50 L437.67 246.00 L437.65 245.50 L437.64 245.00 L437.62 244.50 L437.61 244.00 L437.61 243.50 L437.61 243.00 L437.74 242.50 L437.99 242.00 L438.32 241.50 L438.65 241.00 L438.93 240.50 L439.09 240.00 L439.09 239.50 L439.05 239.00 L438.96 238.50 L438.85 238.00 L438.71 237.50 L438.56 237.00 L438.40 236.50 L438.22 236.00 L437.99 235.50 L437.72 235.00 L437.40 234.50 L437.05 234.00 L436.67 233.50 L436.26 233.00 L435.82 232.50 L435.37 232.00 L434.90 231.50 L434.41 231.00 L433.81 230.50 L433.13 230.00 L432.38 229.50 L431.60 229.00 L430.80 228.50 L430.01 228.00 L429.24 227.50 L428.52 227.00 L427.88 226.50 L427.25 226.00 L426.63 225.50 L426.03 225.00 L425.43 224.50 L424.84 224.00 L424.26 223.50 L423.68 223.00 L423.12 222.50 L422.57 222.00 L422.02 221.50 L421.48 221.00 L420.96 220.50 L420.44 220.00 L419.93 219.50 L419.43 219.00 L418.93 218.50 L418.45 218.00 L417.98 217.50 L417.53 217.00 L417.11 216.50 L416.70 216.00 L416.30 215.50 L415.90 215.00 L415.51 214.50 L415.11 214.00 L414.70 213.50 L414.27 213.00 L413.83 212.50 L413.36 212.00 L412.86 211.50 L412.34 211.00 L411.80 210.50 L411.24 210.00 L410.67 209.50 L410.07 209.00 L409.47 208.50 L408.86 208.00 L408.23 207.50 L407.61 207.00 L406.97 206.50 L406.34 206.00 L405.71 205.50 L405.07 205.00 L404.42 204.50 L403.76 204.00 L403.08 203.50 L402.40 203.00 L401.71 202.50 L401.02 202.00 L400.33 201.50 L399.64 201.00 L398.95 200.50 L398.28 200.00 L397.61 199.50 L396.96 199.00 L396.32 198.50 L395.69 198.00 L395.05 197.50 L394.42 197.00 L393.79 196.50 L393.17 196.00 L392.56 195.50 L391.95 195.00 L391.35 194.50 L390.76 194.00 L390.17 193.50 L389.60 193.00 L389.04 192.50 L388.50 192.00 L387.96 191.50 L387.43 191.00 L386.92 190.50 L386.41 190.00 L385.90 189.50 L385.41 189.00 L384.91 188.50 L384.43 188.00 L383.95 187.50 L383.47 187.00 L383.00 186.50 L382.52 186.00 L382.05 185.50 L381.59 185.00 L381.13 184.50 L380.67 184.00 L380.22 183.50 L379.77 183.00 L379.33 182.50 L378.89 182.00 L378.45 181.50 L378.01 181.00 L377.58 180.50 L377.14 180.00 L376.70 179.50 L376.27 179.00 L375.83 178.50 L375.39 178.00 L374.95 177.50 L374.50 177.00 L374.06 176.50 L373.63 176.00 L373.19 175.50 L372.76 175.00 L372.33 174.50 L371.91 174.00 L371.50 173.50 L371.09 173.00 L370.69 172.50 L370.28 172.00 L369.86 171.50 L369.44 171.00 L369.01 170.50 L368.59 170.00 L368.17 169.50 L367.77 169.00 L367.38 168.50 L367.02 168.00 L366.68 167.50 L366.38 167.00 L366.11 166.50 L365.88 166.00 L365.68 165.50 L365.50 165.00 L365.32 164.50 L365.16 164.00 L365.01 163.50 L364.87 163.00 L364.74 162.50 L364.61 162.00 L364.49 161.50 L364.37 161.00 L364.25 160.50 L364.13 160.00 L364.01 159.50 L363.89 159.00 L363.77 158.50 L363.66 158.00 L363.55 157.50 L363.45 157.00 L363.35 156.50 L363.25 156.00 L363.15 155.50 L363.05 155.00 L362.94 154.50 L362.84 154.00 L362.74 153.50 L362.63 153.00 L362.52 152.50 L362.41 152.00 L362.30 151.50 L362.19 151.00 L362.08 150.50 L361.96 150.00 L361.85 149.50 L361.74 149.00 L361.62 148.50 L361.50 148.00 L361.38 147.50 L361.26 147.00 L361.14 146.50 L361.01 146.00 L360.88 145.50 L360.74 145.00 L360.59 144.50 L360.45 144.00 L360.30 143.50 L360.15 143.00 L360.00 142.50 L359.86 142.00 L359.72 141.50 L359.59 141.00 L359.47 140.50 L359.36 140.00 L359.26 139.50 L359.16 139.00 L359.07 138.50 L358.98 138.00 L358.90 137.50 L358.81 137.00 L358.73 136.50 L358.66 136.00 L358.59 135.50 L358.52 135.00 L358.46 134.50 L358.40 134.00 L358.34 133.50 L358.30 133.00 L358.25 132.50 L358.21 132.00 L358.17 131.50 L358.13 131.00 L358.09 130.50 L358.06 130.00 L358.02 129.50 L357.99 129.00 L357.96 128.50 L357.93 128.00 L357.90 127.50 L357.88 127.00 L357.85 126.50 L357.83 126.00 L357.81 125.50 L357.80 125.00 L357.78 124.50 L357.77 124.00 L357.76 123.50 L357.74 123.00 L357.73 122.50 L357.72 122.00 L357.71 121.50 L357.69 121.00 L357.68 120.50 L357.67 120.00 L357.66 119.50 L357.65 119.00 L357.64 118.50 L357.62 118.00 L357.61 117.50 L357.60 117.00 L357.59 116.50 L357.58 116.00 L357.57 115.50 L357.56 115.00 L357.56 114.50 L357.55 114.00 L357.54 113.50 L357.53 113.00 L357.52 112.50 L357.51 112.00 L357.51 111.50 L357.50 111.00 L357.49 110.50 L357.48 110.00 L357.48 109.50 L357.47 109.00 L357.47 108.50 L357.46 108.00 L357.45 107.50 L357.45 107.00 L357.44 106.50 L357.44 106.00 L357.43 105.50 L357.43 105.00 L357.43 104.50 L357.42 104.00 L357.42 103.50 L357.41 103.00 L357.41 102.50 L357.41 102.00 L357.41 101.50 L357.40 101.00 L357.40 100.50 L357.40 100.00 L357.40 99.50 L357.40 99.00 L357.39 98.50 L357.39 98.00 L357.39 97.50 L357.39 97.00 L357.39 96.50 L357.39 96.00 L357.39 95.50 L357.38 95.00 L357.38 94.50 L357.38 94.00 L357.38 93.50 L357.38 93.00 L357.38 92.50 L357.37 92.00 L357.37 91.50 L357.37 91.00 L357.37 90.50 L357.37 90.00 L357.37 89.50 L357.37 89.00 L357.37 88.50 L357.36 88.00 L357.36 87.50 L357.36 87.00 L357.36 86.50 L357.36 86.00 L357.36 85.50 L357.36 85.00 L357.36 84.50 L357.35 84.00 L357.35 83.50 L357.35 83.00 L357.35 82.50 L357.35 82.00 L357.35 81.50 L357.35 81.00 L357.35 80.50 L357.35 80.00 L357.34 79.50 L357.34 79.00 L357.34 78.50 L357.34 78.00 L357.34 77.50 L357.34 77.00 L357.34 76.50 L357.34 76.00 L357.34 75.50 L357.34 75.00 L357.34 74.50 L357.34 74.00 L357.33 73.50 L357.33 73.00 L357.33 72.50 L357.33 72.00 L357.33 71.50 L357.33 71.00 L357.33 70.50 L357.33 70.00 L357.33 69.50 L357.33 69.00 L357.33 68.50 L357.33 68.00 L357.33 67.50 L357.33 67.00 L357.33 66.50 L357.33 66.00 L357.33 65.50 L357.32 65.00 L357.32 64.50 L357.32 64.00 L357.32 63.50 L357.32 63.00 L357.32 62.50 L357.32 62.00 L357.32 61.50 L357.32 61.00 L357.32 60.50 L357.32 60.00 L357.32 59.50 L357.32 59.00 L357.32 58.50 L357.32 58.00 L357.32 57.50 L357.32 57.00 L357.32 56.50 L357.32 56.00 L357.32 55.50 L357.32 55.00 L357.32 54.50 L357.32 54.00Z" fill="#DF8F44" fill-opacity="0.55"/>
<path d="M553.40 30.00 L553.39 30.50 L553.38 31.00 L553.37 31.50 L553.36 32.00 L553.36 32.50 L553.35 33.00 L553.34 33.50 L553.33 34.00 L553.32 34.50 L553.32 35.00 L553.31 35.50 L553.30 36.00 L553.29 36.50 L553.29 37.00 L553.28 37.50 L553.27 38.00 L553.26 38.50 L553.26 39.00 L553.25 39.50 L553.25 40.00 L553.24 40.50 L553.23 41.00 L553.23 41.50 L553.22 42.00 L553.22 42.50 L553.22 43.00 L553.21 43.50 L553.21 44.00 L553.20 44.50 L553.20 45.00 L553.20 45.50 L553.19 46.00 L553.19 46.50 L553.19 47.00 L553.19 47.50 L553.18 48.00 L553.18 48.50 L553.18 49.00 L553.18 49.50 L553.18 50.00 L553.17 50.50 L553.17 51.00 L553.17 51.50 L553.17 52.00 L553.17 52.50 L553.17 53.00 L553.16 53.50 L553.16 54.00 L553.16 54.50 L553.16 55.00 L553.16 55.50 L553.16 56.00 L553.15 56.50 L553.15 57.00 L553.15 57.50 L553.15 58.00 L553.15 58.50 L553.14 59.00 L553.14 59.50 L553.14 60.00 L553.14 60.50 L553.14 61.00 L553.13 61.50 L553.13 62.00 L553.13 62.50 L553.13 63.00 L553.12 63.50 L553.12 64.00 L553.12 64.50 L553.12 65.00 L553.12 65.50 L553.11 66.00 L553.11 66.50 L553.11 67.00 L553.11 67.50 L553.10 68.00 L553.10 68.50 L553.10 69.00 L553.10 69.50 L553.10 70.00 L553.09 70.50 L553.09 71.00 L553.09 71.50 L553.09 72.00 L553.08 72.50 L553.08 73.00 L553.08 73.50 L553.08 74.00 L553.07 74.50 L553.07 75.00 L553.07 75.50 L553.06 76.00 L553.06 76.50 L553.06 77.00 L553.06 77.50 L553.05 78.00 L553.05 78.50 L553.05 79.00 L553.04 79.50 L553.04 80.00 L553.04 80.50 L553.03 81.00 L553.03 81.50 L553.03 82.00 L553.02 82.50 L553.02 83.00 L553.01 83.50 L553.01 84.00 L553.01 84.50 L553.00 85.00 L553.00 85.50 L552.99 86.00 L552.99 86.50 L552.98 87.00 L552.98 87.50 L552.97 88.00 L552.97 88.50 L552.96 89.00 L552.96 89.50 L552.95 90.00 L552.94 90.50 L552.94 91.00 L552.93 91.50 L552.92 92.00 L552.91 92.50 L552.90 93.00 L552.89 93.50 L552.88 94.00 L552.87 94.50 L552.86 95.00 L552.85 95.50 L552.84 96.00 L552.82 96.50 L552.81 97.00 L552.79 97.50 L552.78 98.00 L552.76 98.50 L552.74 99.00 L552.72 99.50 L552.71 100.00 L552.69 100.50 L552.67 101.00 L552.65 101.50 L552.63 102.00 L552.60 102.50 L552.58 103.00 L552.56 103.50 L552.54 104.00 L552.51 104.50 L552.49 105.00 L552.46 105.50 L552.43 106.00 L552.41 106.50 L552.38 107.00 L552.34 107.50 L552.30 108.00 L552.25 108.50 L552.20 109.00 L552.15 109.50 L552.09 110.00 L552.03 110.50 L551.97 111.00 L551.91 111.50 L551.84 112.00 L551.78 112.50 L551.71 113.00 L551.65 113.50 L551.59 114.00 L551.52 114.50 L551.45 115.00 L551.37 115.50 L551.30 116.00 L551.22 116.50 L551.15 117.00 L551.07 117.50 L550.99 118.00 L550.91 118.50 L550.82 119.00 L550.74 119.50 L550.65 120.00 L550.56 120.50 L550.47 121.00 L550.38 121.50 L550.29 122.00 L550.19 122.50 L550.09 123.00 L549.99 123.50 L549.89 124.00 L549.79 124.50 L549.68 125.00 L549.58 125.50 L549.47 126.00 L549.36 126.50 L549.25 127.00 L549.14 127.50 L549.02 128.00 L548.90 128.50 L548.78 129.00 L548.66 129.50 L548.54 130.00 L548.41 130.50 L548.28 131.00 L548.15 131.50 L548.02 132.00 L547.89 132.50 L547.75 133.00 L547.61 133.50 L547.47 134.00 L547.32 134.50 L547.18 135.00 L547.02 135.50 L546.87 136.00 L546.72 136.50 L546.56 137.00 L546.40 137.50 L546.25 138.00 L546.09 138.50 L545.93 139.00 L545.78 139.50 L545.62 140.00 L545.47 140.50 L545.32 141.00 L545.16 141.50 L545.01 142.00 L544.85 142.50 L544.70 143.00 L544.54 143.50 L544.38 144.00 L544.22 144.50 L544.05 145.00 L543.88 145.50 L543.71 146.00 L543.54 146.50 L543.38 147.00 L543.21 147.50 L543.05 148.00 L542.88 148.50 L542.71 149.00 L542.54 149.50 L542.36 150.00 L542.16 150.50 L541.96 151.00 L541.75 151.50 L541.51 152.00 L541.27 152.50 L540.99 153.00 L540.67 153.50 L540.31 154.00 L539.93 154.50 L539.52 155.00 L539.09 155.50 L538.65 156.00 L538.22 156.50 L537.77 157.00 L537.31 157.50 L536.83 158.00 L536.33 158.50 L535.82 159.00 L535.30 159.50 L534.76 160.00 L534.21 160.50 L533.64 161.00 L533.05 161.50 L532.44 162.00 L531.81 162.50 L531.17 163.00 L530.53 163.50 L529.88 164.00 L529.24 164.50 L528.60 165.00 L527.98 165.50 L527.36 166.00 L526.75 166.50 L526.14 167.00 L525.52 167.50 L524.91 168.00 L524.29 168.50 L523.68 169.00 L523.08 169.50 L522.48 170.00 L521.89 170.50 L521.31 171.00 L520.73 171.50 L520.17 172.00 L519.62 172.50 L519.08 173.00 L518.53 173.50 L518.00 174.00 L517.47 174.50 L516.94 175.00 L516.42 175.50 L515.92 176.00 L515.41 176.50 L514.92 177.00 L514.44 177.50 L513.97 178.00 L513.52 178.50 L513.07 179.00 L512.64 179.50 L512.22 180.00 L511.80 180.50 L511.40 181.00 L511.00 181.50 L510.61 182.00 L510.22 182.50 L509.84 183.00 L509.46 183.50 L509.09 184.00 L508.72 184.50 L508.35 185.00 L507.98 185.50 L507.62 186.00 L507.26 186.50 L506.92 187.00 L506.57 187.50 L506.23 188.00 L505.90 188.50 L505.56 189.00 L505.22 189.50 L504.88 190.00 L504.54 190.50 L504.18 191.00 L503.83 191.50 L503.46 192.00 L503.09 192.50 L502.73 193.00 L502.36 193.50 L501.99 194.00 L501.61 194.50 L501.21 195.00 L500.79 195.50 L500.34 196.00 L499.87 196.50 L499.37 197.00 L498.84 197.50 L498.28 198.00 L497.71 198.50 L497.11 199.00 L496.49 199.50 L495.85 200.00 L495.19 200.50 L494.52 201.00 L493.83 201.50 L493.13 202.00 L492.42 202.50 L491.71 203.00 L490.98 203.50 L490.25 204.00 L489.51 204.50 L488.77 205.00 L488.02 205.50 L487.28 206.00 L486.54 206.50 L485.80 207.00 L485.07 207.50 L484.34 208.00 L483.62 208.50 L482.91 209.00 L482.20 209.50 L481.47 210.00 L480.70 210.50 L479.92 211.00 L479.15 211.50 L478.39 212.00 L477.65 212.50 L476.97 213.00 L476.34 213.50 L475.79 214.00 L475.26 214.50 L474.75 215.00 L474.27 215.50 L473.81 216.00 L473.40 216.50 L473.04 217.00 L472.74 217.50 L472.51 218.00 L472.29 218.50 L472.08 219.00 L471.90 219.50 L471.75 220.00 L471.65 220.50 L471.60 221.00 L471.61 221.50 L471.67 222.00 L471.77 222.50 L471.89 223.00 L472.03 223.50 L472.18 224.00 L472.33 224.50 L472.50 225.00 L472.69 225.50 L472.92 226.00 L473.16 226.50 L473.43 227.00 L473.72 227.50 L474.03 228.00 L474.36 228.50 L474.70 229.00 L475.05 229.50 L475.42 230.00 L475.85 230.50 L476.32 231.00 L476.83 231.50 L477.37 232.00 L477.93 232.50 L478.50 233.00 L479.07 233.50 L479.67 234.00 L480.32 234.50 L480.99 235.00 L481.65 235.50 L482.26 236.00 L482.80 236.50 L483.30 237.00 L483.78 237.50 L484.23 238.00 L484.66 238.50 L485.07 239.00 L485.48 239.50 L485.88 240.00 L486.27 240.50 L486.67 241.00 L487.06 241.50 L487.47 242.00 L487.89 242.50 L488.33 243.00 L488.79 243.50 L489.27 244.00 L489.78 244.50 L490.32 245.00 L490.90 245.50 L491.49 246.00 L492.11 246.50 L492.74 247.00 L493.39 247.50 L494.05 248.00 L494.71 248.50 L495.37 249.00 L496.03 249.50 L496.68 250.00 L497.32 250.50 L497.94 251.00 L498.56 251.50 L499.16 252.00 L499.77 252.50 L500.37 253.00 L500.98 253.50 L501.59 254.00 L502.21 254.50 L502.85 255.00 L503.49 255.50 L504.15 256.00 L504.83 256.50 L505.54 257.00 L506.27 257.50 L507.01 258.00 L507.77 258.50 L508.53 259.00 L509.31 259.50 L510.08 260.00 L510.86 260.50 L511.63 261.00 L512.40 261.50 L513.16 262.00 L513.91 262.50 L514.68 263.00 L515.44 263.50 L516.20 264.00 L516.96 264.50 L517.73 265.00 L518.49 265.50 L519.25 266.00 L520.01 266.50 L520.77 267.00 L521.53 267.50 L522.29 268.00 L523.05 268.50 L523.83 269.00 L524.61 269.50 L525.41 270.00 L526.21 270.50 L527.01 271.00 L527.79 271.50 L528.57 272.00 L529.33 272.50 L530.06 273.00 L530.77 273.50 L531.45 274.00 L532.08 274.50 L532.68 275.00 L533.27 275.50 L533.85 276.00 L534.42 276.50 L534.97 277.00 L535.51 277.50 L536.03 278.00 L536.54 278.50 L537.02 279.00 L537.48 279.50 L537.91 280.00 L538.32 280.50 L538.70 281.00 L539.06 281.50 L539.40 282.00 L539.73 282.50 L540.05 283.00 L540.36 283.50 L540.66 284.00 L540.95 284.50 L541.22 285.00 L541.47 285.50 L541.71 286.00 L541.93 286.50 L542.13 287.00 L542.31 287.50 L542.48 288.00 L542.62 288.50 L542.75 289.00 L542.87 289.50 L542.98 290.00 L543.08 290.50 L543.18 291.00 L543.28 291.50 L543.37 292.00 L543.47 292.50 L543.57 293.00 L543.68 293.50 L543.81 294.00 L543.94 294.50 L544.08 295.00 L544.23 295.50 L544.39 296.00 L544.55 296.50 L544.72 297.00 L544.90 297.50 L545.07 298.00 L545.26 298.50 L545.44 299.00 L545.63 299.50 L545.82 300.00 L546.02 300.50 L546.21 301.00 L546.41 301.50 L546.61 302.00 L546.83 302.50 L547.05 303.00 L547.27 303.50 L547.50 304.00 L547.72 304.50 L547.95 305.00 L548.18 305.50 L548.41 306.00 L548.63 306.50 L548.85 307.00 L549.06 307.50 L549.27 308.00 L549.49 308.50 L549.70 309.00 L549.92 309.50 L550.13 310.00 L550.35 310.50 L550.56 311.00 L550.76 311.50 L550.96 312.00 L551.15 312.50 L551.34 313.00 L551.51 313.50 L551.67 314.00 L551.83 314.50 L551.98 315.00 L552.13 315.50 L552.28 316.00 L552.41 316.50 L552.53 317.00 L552.63 317.50 L552.70 318.00 L552.76 318.50 L552.81 319.00 L552.86 319.50 L552.91 320.00 L552.95 320.50 L552.99 321.00 L553.03 321.50 L553.06 322.00 L553.09 322.50 L553.12 323.00 L553.14 323.50 L553.16 324.00 L553.18 324.50 L553.20 325.00 L553.22 325.50 L553.23 326.00 L553.24 326.50 L553.26 327.00 L553.27 327.50 L553.28 328.00 L553.29 328.50 L553.30 329.00 L553.31 329.50 L553.32 330.00 L553.33 330.50 L553.34 331.00 L553.34 331.50 L553.35 332.00 L553.36 332.50 L553.37 333.00 L553.37 333.50 L553.38 334.00 L553.39 334.50 L553.39 335.00 L553.40 335.50 L553.41 336.00 L553.41 336.50 L553.42 337.00 L553.43 337.50 L553.43 338.00 L553.44 338.50 L553.44 339.00 L553.45 339.50 L553.45 340.00 L553.46 340.50 L553.46 341.00 L553.47 341.50 L553.47 342.00 L553.53 342.00 L553.53 341.50 L553.54 341.00 L553.54 340.50 L553.55 340.00 L553.55 339.50 L553.56 339.00 L553.56 338.50 L553.57 338.00 L553.57 337.50 L553.58 337.00 L553.59 336.50 L553.59 336.00 L553.60 335.50 L553.61 335.00 L553.61 334.50 L553.62 334.00 L553.63 333.50 L553.63 333.00 L553.64 332.50 L553.65 332.00 L553.66 331.50 L553.66 331.00 L553.67 330.50 L553.68 330.00 L553.69 329.50 L553.70 329.00 L553.71 328.50 L553.72 328.00 L553.73 327.50 L553.74 327.00 L553.76 326.50 L553.77 326.00 L553.78 325.50 L553.80 325.00 L553.82 324.50 L553.84 324.00 L553.86 323.50 L553.88 323.00 L553.91 322.50 L553.94 322.00 L553.97 321.50 L554.01 321.00 L554.05 320.50 L554.09 320.00 L554.14 319.50 L554.19 319.00 L554.24 318.50 L554.30 318.00 L554.37 317.50 L554.47 317.00 L554.59 316.50 L554.72 316.00 L554.87 315.50 L555.02 315.00 L555.17 314.50 L555.33 314.00 L555.49 313.50 L555.66 313.00 L555.85 312.50 L556.04 312.00 L556.24 311.50 L556.44 311.00 L556.65 310.50 L556.87 310.00 L557.08 309.50 L557.30 309.00 L557.51 308.50 L557.73 308.00 L557.94 307.50 L558.15 307.00 L558.37 306.50 L558.59 306.00 L558.82 305.50 L559.05 305.00 L559.28 304.50 L559.50 304.00 L559.73 303.50 L559.95 303.00 L560.17 302.50 L560.39 302.00 L560.59 301.50 L560.79 301.00 L560.98 300.50 L561.18 300.00 L561.37 299.50 L561.56 299.00 L561.74 298.50 L561.93 298.00 L562.10 297.50 L562.28 297.00 L562.45 296.50 L562.61 296.00 L562.77 295.50 L562.92 295.00 L563.06 294.50 L563.19 294.00 L563.32 293.50 L563.43 293.00 L563.53 292.50 L563.63 292.00 L563.72 291.50 L563.82 291.00 L563.92 290.50 L564.02 290.00 L564.13 289.50 L564.25 289.00 L564.38 288.50 L564.52 288.00 L564.69 287.50 L564.87 287.00 L565.07 286.50 L565.29 286.00 L565.53 285.50 L565.78 285.00 L566.05 284.50 L566.34 284.00 L566.64 283.50 L566.95 283.00 L567.27 282.50 L567.60 282.00 L567.94 281.50 L568.30 281.00 L568.68 280.50 L569.09 280.00 L569.52 279.50 L569.98 279.00 L570.46 278.50 L570.97 278.00 L571.49 277.50 L572.03 277.00 L572.58 276.50 L573.15 276.00 L573.73 275.50 L574.32 275.00 L574.92 274.50 L575.55 274.00 L576.23 273.50 L576.94 273.00 L577.67 272.50 L578.43 272.00 L579.21 271.50 L579.99 271.00 L580.79 270.50 L581.59 270.00 L582.39 269.50 L583.17 269.00 L583.95 268.50 L584.71 268.00 L585.47 267.50 L586.23 267.00 L586.99 266.50 L587.75 266.00 L588.51 265.50 L589.27 265.00 L590.04 264.50 L590.80 264.00 L591.56 263.50 L592.32 263.00 L593.09 262.50 L593.84 262.00 L594.60 261.50 L595.37 261.00 L596.14 260.50 L596.92 260.00 L597.69 259.50 L598.47 259.00 L599.23 258.50 L599.99 258.00 L600.73 257.50 L601.46 257.00 L602.17 256.50 L602.85 256.00 L603.51 255.50 L604.15 255.00 L604.79 254.50 L605.41 254.00 L606.02 253.50 L606.63 253.00 L607.23 252.50 L607.84 252.00 L608.44 251.50 L609.06 251.00 L609.68 250.50 L610.32 250.00 L610.97 249.50 L611.63 249.00 L612.29 248.50 L612.95 248.00 L613.61 247.50 L614.26 247.00 L614.89 246.50 L615.51 246.00 L616.10 245.50 L616.68 245.00 L617.22 244.50 L617.73 244.00 L618.21 243.50 L618.67 243.00 L619.11 242.50 L619.53 242.00 L619.94 241.50 L620.33 241.00 L620.73 240.50 L621.12 240.00 L621.52 239.50 L621.93 239.00 L622.34 238.50 L622.77 238.00 L623.22 237.50 L623.70 237.00 L624.20 236.50 L624.74 236.00 L625.35 235.50 L626.01 235.00 L626.68 234.50 L627.33 234.00 L627.93 233.50 L628.50 233.00 L629.07 232.50 L629.63 232.00 L630.17 231.50 L630.68 231.00 L631.15 230.50 L631.58 230.00 L631.95 229.50 L632.30 229.00 L632.64 228.50 L632.97 228.00 L633.28 227.50 L633.57 227.00 L633.84 226.50 L634.08 226.00 L634.31 225.50 L634.50 225.00 L634.67 224.50 L634.82 224.00 L634.97 223.50 L635.11 223.00 L635.23 222.50 L635.33 222.00 L635.39 221.50 L635.40 221.00 L635.35 220.50 L635.25 220.00 L635.10 219.50 L634.92 219.00 L634.71 218.50 L634.49 218.00 L634.26 217.50 L633.96 217.00 L633.60 216.50 L633.19 216.00 L632.73 215.50 L632.25 215.00 L631.74 214.50 L631.21 214.00 L630.66 213.50 L630.03 213.00 L629.35 212.50 L628.61 212.00 L627.85 211.50 L627.08 211.00 L626.30 210.50 L625.53 210.00 L624.80 209.50 L624.09 209.00 L623.38 208.50 L622.66 208.00 L621.93 207.50 L621.20 207.00 L620.46 206.50 L619.72 206.00 L618.98 205.50 L618.23 205.00 L617.49 204.50 L616.75 204.00 L616.02 203.50 L615.29 203.00 L614.58 202.50 L613.87 202.00 L613.17 201.50 L612.48 201.00 L611.81 200.50 L611.15 200.00 L610.51 199.50 L609.89 199.00 L609.29 198.50 L608.72 198.00 L608.16 197.50 L607.63 197.00 L607.13 196.50 L606.66 196.00 L606.21 195.50 L605.79 195.00 L605.39 194.50 L605.01 194.00 L604.64 193.50 L604.27 193.00 L603.91 192.50 L603.54 192.00 L603.17 191.50 L602.82 191.00 L602.46 190.50 L602.12 190.00 L601.78 189.50 L601.44 189.00 L601.10 188.50 L600.77 188.00 L600.43 187.50 L600.08 187.00 L599.74 186.50 L599.38 186.00 L599.02 185.50 L598.65 185.00 L598.28 184.50 L597.91 184.00 L597.54 183.50 L597.16 183.00 L596.78 182.50 L596.39 182.00 L596.00 181.50 L595.60 181.00 L595.20 180.50 L594.78 180.00 L594.36 179.50 L593.93 179.00 L593.48 178.50 L593.03 178.00 L592.56 177.50 L592.08 177.00 L591.59 176.50 L591.08 176.00 L590.58 175.50 L590.06 175.00 L589.53 174.50 L589.00 174.00 L588.47 173.50 L587.92 173.00 L587.38 172.50 L586.83 172.00 L586.27 171.50 L585.69 171.00 L585.11 170.50 L584.52 170.00 L583.92 169.50 L583.32 169.00 L582.71 168.50 L582.09 168.00 L581.48 167.50 L580.86 167.00 L580.25 166.50 L579.64 166.00 L579.02 165.50 L578.40 165.00 L577.76 164.50 L577.12 164.00 L576.47 163.50 L575.83 163.00 L575.19 162.50 L574.56 162.00 L573.95 161.50 L573.36 161.00 L572.79 160.50 L572.24 160.00 L571.70 159.50 L571.18 159.00 L570.67 158.50 L570.17 158.00 L569.69 157.50 L569.23 157.00 L568.78 156.50 L568.35 156.00 L567.91 155.50 L567.48 155.00 L567.07 154.50 L566.69 154.00 L566.33 153.50 L566.01 153.00 L565.73 152.50 L565.49 152.00 L565.25 151.50 L565.04 151.00 L564.84 150.50 L564.64 150.00 L564.46 149.50 L564.29 149.00 L564.12 148.50 L563.95 148.00 L563.79 147.50 L563.62 147.00 L563.46 146.50 L563.29 146.00 L563.12 145.50 L562.95 145.00 L562.78 144.50 L562.62 144.00 L562.46 143.50 L562.30 143.00 L562.15 142.50 L561.99 142.00 L561.84 141.50 L561.68 141.00 L561.53 140.50 L561.38 140.00 L561.22 139.50 L561.07 139.00 L560.91 138.50 L560.75 138.00 L560.60 137.50 L560.44 137.00 L560.28 136.50 L560.13 136.00 L559.98 135.50 L559.82 135.00 L559.68 134.50 L559.53 134.00 L559.39 133.50 L559.25 133.00 L559.11 132.50 L558.98 132.00 L558.85 131.50 L558.72 131.00 L558.59 130.50 L558.46 130.00 L558.34 129.50 L558.22 129.00 L558.10 128.50 L557.98 128.00 L557.86 127.50 L557.75 127.00 L557.64 126.50 L557.53 126.00 L557.42 125.50 L557.32 125.00 L557.21 124.50 L557.11 124.00 L557.01 123.50 L556.91 123.00 L556.81 122.50 L556.71 122.00 L556.62 121.50 L556.53 121.00 L556.44 120.50 L556.35 120.00 L556.26 119.50 L556.18 119.00 L556.09 118.50 L556.01 118.00 L555.93 117.50 L555.85 117.00 L555.78 116.50 L555.70 116.00 L555.63 115.50 L555.55 115.00 L555.48 114.50 L555.41 114.00 L555.35 113.50 L555.29 113.00 L555.22 112.50 L555.16 112.00 L555.09 111.50 L555.03 111.00 L554.97 110.50 L554.91 110.00 L554.85 109.50 L554.80 109.00 L554.75 108.50 L554.70 108.00 L554.66 107.50 L554.62 107.00 L554.59 106.50 L554.57 106.00 L554.54 105.50 L554.51 105.00 L554.49 104.50 L554.46 104.00 L554.44 103.50 L554.42 103.00 L554.40 102.50 L554.37 102.00 L554.35 101.50 L554.33 101.00 L554.31 100.50 L554.29 100.00 L554.28 99.50 L554.26 99.00 L554.24 98.50 L554.22 98.00 L554.21 97.50 L554.19 97.00 L554.18 96.50 L554.16 96.00 L554.15 95.50 L554.14 95.00 L554.13 94.50 L554.12 94.00 L554.11 93.50 L554.10 93.00 L554.09 92.50 L554.08 92.00 L554.07 91.50 L554.06 91.00 L554.06 90.50 L554.05 90.00 L554.04 89.50 L554.04 89.00 L554.03 88.50 L554.03 88.00 L554.02 87.50 L554.02 87.00 L554.01 86.50 L554.01 86.00 L554.00 85.50 L554.00 85.00 L553.99 84.50 L553.99 84.00 L553.99 83.50 L553.98 83.00 L553.98 82.50 L553.97 82.00 L553.97 81.50 L553.97 81.00 L553.96 80.50 L553.96 80.00 L553.96 79.50 L553.95 79.00 L553.95 78.50 L553.95 78.00 L553.94 77.50 L553.94 77.00 L553.94 76.50 L553.94 76.00 L553.93 75.50 L553.93 75.00 L553.93 74.50 L553.92 74.00 L553.92 73.50 L553.92 73.00 L553.92 72.50 L553.91 72.00 L553.91 71.50 L553.91 71.00 L553.91 70.50 L553.90 70.00 L553.90 69.50 L553.90 69.00 L553.90 68.50 L553.90 68.00 L553.89 67.50 L553.89 67.00 L553.89 66.50 L553.89 66.00 L553.88 65.50 L553.88 65.00 L553.88 64.50 L553.88 64.00 L553.88 63.50 L553.87 63.00 L553.87 62.50 L553.87 62.00 L553.87 61.50 L553.86 61.00 L553.86 60.50 L553.86 60.00 L553.86 59.50 L553.86 59.00 L553.85 58.50 L553.85 58.00 L553.85 57.50 L553.85 57.00 L553.85 56.50 L553.84 56.00 L553.84 55.50 L553.84 55.00 L553.84 54.50 L553.84 54.00 L553.84 53.50 L553.83 53.00 L553.83 52.50 L553.83 52.00 L553.83 51.50 L553.83 51.00 L553.83 50.50 L553.82 50.00 L553.82 49.50 L553.82 49.00 L553.82 48.50 L553.82 48.00 L553.81 47.50 L553.81 47.00 L553.81 46.50 L553.81 46.00 L553.80 45.50 L553.80 45.00 L553.80 44.50 L553.79 44.00 L553.79 43.50 L553.78 43.00 L553.78 42.50 L553.78 42.00 L553.77 41.50 L553.77 41.00 L553.76 40.50 L553.75 40.00 L553.75 39.50 L553.74 39.00 L553.74 38.50 L553.73 38.00 L553.72 37.50 L553.71 37.00 L553.71 36.50 L553.70 36.00 L553.69 35.50 L553.68 35.00 L553.68 34.50 L553.67 34.00 L553.66 33.50 L553.65 33.00 L553.64 32.50 L553.64 32.00 L553.63 31.50 L553.62 31.00 L553.61 30.50 L553.60 30.00Z" fill="#00A1D5" fill-opacity="0.55"/>
<line x1="161.2" x2="161.2" y1="137.6" y2="207.25" stroke="#333333" stroke-width="0.65"/>
<line x1="161.2" x2="161.2" y1="254.5" y2="323.4" stroke="#333333" stroke-width="0.65"/>
<circle cx="161.05" cy="32.00" r="1.4" fill="none" stroke="#333333" stroke-opacity="0.72" stroke-width="0.42"/>
<circle cx="161.05" cy="54.40" r="1.4" fill="none" stroke="#333333" stroke-opacity="0.72" stroke-width="0.42"/>
<circle cx="161.05" cy="70.50" r="1.4" fill="none" stroke="#333333" stroke-opacity="0.72" stroke-width="0.42"/>
<circle cx="161.05" cy="84.30" r="1.4" fill="none" stroke="#333333" stroke-opacity="0.72" stroke-width="0.42"/>
<circle cx="161.05" cy="85.00" r="1.4" fill="none" stroke="#333333" stroke-opacity="0.72" stroke-width="0.42"/>
<circle cx="161.05" cy="85.50" r="1.4" fill="none" stroke="#333333" stroke-opacity="0.72" stroke-width="0.42"/>
<circle cx="161.05" cy="86.10" r="1.4" fill="none" stroke="#333333" stroke-opacity="0.72" stroke-width="0.42"/>
<circle cx="161.05" cy="89.31" r="1.4" fill="none" stroke="#333333" stroke-opacity="0.72" stroke-width="0.42"/>
<circle cx="161.05" cy="90.75" r="1.4" fill="none" stroke="#333333" stroke-opacity="0.72" stroke-width="0.42"/>
<circle cx="161.05" cy="96.11" r="1.4" fill="none" stroke="#333333" stroke-opacity="0.72" stroke-width="0.42"/>
<circle cx="161.05" cy="94.03" r="1.4" fill="none" stroke="#333333" stroke-opacity="0.72" stroke-width="0.42"/>
<circle cx="161.05" cy="89.39" r="1.4" fill="none" stroke="#333333" stroke-opacity="0.72" stroke-width="0.42"/>
<circle cx="161.05" cy="92.61" r="1.4" fill="none" stroke="#333333" stroke-opacity="0.72" stroke-width="0.42"/>
<circle cx="161.05" cy="93.05" r="1.4" fill="none" stroke="#333333" stroke-opacity="0.72" stroke-width="0.42"/>
<circle cx="161.05" cy="90.02" r="1.4" fill="none" stroke="#333333" stroke-opacity="0.72" stroke-width="0.42"/>
<circle cx="161.05" cy="95.48" r="1.4" fill="none" stroke="#333333" stroke-opacity="0.72" stroke-width="0.42"/>
<circle cx="161.05" cy="102.07" r="1.4" fill="none" stroke="#333333" stroke-opacity="0.72" stroke-width="0.42"/>
<circle cx="161.05" cy="103.46" r="1.4" fill="none" stroke="#333333" stroke-opacity="0.72" stroke-width="0.42"/>
<circle cx="161.05" cy="104.08" r="1.4" fill="none" stroke="#333333" stroke-opacity="0.72" stroke-width="0.42"/>
<circle cx="161.05" cy="103.65" r="1.4" fill="none" stroke="#333333" stroke-opacity="0.72" stroke-width="0.42"/>
<circle cx="161.05" cy="127.61" r="1.4" fill="none" stroke="#333333" stroke-opacity="0.72" stroke-width="0.42"/>
<circle cx="161.05" cy="131.35" r="1.4" fill="none" stroke="#333333" stroke-opacity="0.72" stroke-width="0.42"/>
<circle cx="161.05" cy="136.50" r="1.4" fill="none" stroke="#333333" stroke-opacity="0.72" stroke-width="0.42"/>
<circle cx="161.05" cy="119.42" r="1.4" fill="none" stroke="#333333" stroke-opacity="0.72" stroke-width="0.42"/>
<circle cx="161.05" cy="129.16" r="1.4" fill="none" stroke="#333333" stroke-opacity="0.72" stroke-width="0.42"/>
<circle cx="161.05" cy="130.33" r="1.4" fill="none" stroke="#333333" stroke-opacity="0.72" stroke-width="0.42"/>
<circle cx="161.05" cy="119.67" r="1.4" fill="none" stroke="#333333" stroke-opacity="0.72" stroke-width="0.42"/>
<circle cx="161.05" cy="109.16" r="1.4" fill="none" stroke="#333333" stroke-opacity="0.72" stroke-width="0.42"/>
<circle cx="161.05" cy="136.89" r="1.4" fill="none" stroke="#333333" stroke-opacity="0.72" stroke-width="0.42"/>
<circle cx="161.05" cy="119.83" r="1.4" fill="none" stroke="#333333" stroke-opacity="0.72" stroke-width="0.42"/>
<circle cx="161.05" cy="120.28" r="1.4" fill="none" stroke="#333333" stroke-opacity="0.72" stroke-width="0.42"/>
<circle cx="161.05" cy="135.00" r="1.4" fill="none" stroke="#333333" stroke-opacity="0.72" stroke-width="0.42"/>
<circle cx="161.05" cy="127.56" r="1.4" fill="none" stroke="#333333" stroke-opacity="0.72" stroke-width="0.42"/>
<circle cx="161.05" cy="124.61" r="1.4" fill="none" stroke="#333333" stroke-opacity="0.72" stroke-width="0.42"/>
<circle cx="161.05" cy="132.20" r="1.4" fill="none" stroke="#333333" stroke-opacity="0.72" stroke-width="0.42"/>
<circle cx="161.05" cy="110.74" r="1.4" fill="none" stroke="#333333" stroke-opacity="0.72" stroke-width="0.42"/>
<circle cx="161.05" cy="130.60" r="1.4" fill="none" stroke="#333333" stroke-opacity="0.72" stroke-width="0.42"/>
<circle cx="161.05" cy="121.98" r="1.4" fill="none" stroke="#333333" stroke-opacity="0.72" stroke-width="0.42"/>
<circle cx="161.05" cy="113.18" r="1.4" fill="none" stroke="#333333" stroke-opacity="0.72" stroke-width="0.42"/>
<circle cx="161.05" cy="129.45" r="1.4" fill="none" stroke="#333333" stroke-opacity="0.72" stroke-width="0.42"/>
<circle cx="161.05" cy="135.93" r="1.4" fill="none" stroke="#333333" stroke-opacity="0.72" stroke-width="0.42"/>
<circle cx="161.05" cy="117.09" r="1.4" fill="none" stroke="#333333" stroke-opacity="0.72" stroke-width="0.42"/>
<circle cx="161.05" cy="128.70" r="1.4" fill="none" stroke="#333333" stroke-opacity="0.72" stroke-width="0.42"/>
<circle cx="161.05" cy="119.82" r="1.4" fill="none" stroke="#333333" stroke-opacity="0.72" stroke-width="0.42"/>
<circle cx="161.05" cy="131.44" r="1.4" fill="none" stroke="#333333" stroke-opacity="0.72" stroke-width="0.42"/>
<circle cx="161.05" cy="130.97" r="1.4" fill="none" stroke="#333333" stroke-opacity="0.72" stroke-width="0.42"/>
<circle cx="161.05" cy="117.45" r="1.4" fill="none" stroke="#333333" stroke-opacity="0.72" stroke-width="0.42"/>
<circle cx="161.05" cy="133.55" r="1.4" fill="none" stroke="#333333" stroke-opacity="0.72" stroke-width="0.42"/>
<circle cx="161.05" cy="129.38" r="1.4" fill="none" stroke="#333333" stroke-opacity="0.72" stroke-width="0.42"/>
<circle cx="161.05" cy="130.00" r="1.4" fill="none" stroke="#333333" stroke-opacity="0.72" stroke-width="0.42"/>
<circle cx="161.05" cy="133.32" r="1.4" fill="none" stroke="#333333" stroke-opacity="0.72" stroke-width="0.42"/>
<circle cx="161.05" cy="123.47" r="1.4" fill="none" stroke="#333333" stroke-opacity="0.72" stroke-width="0.42"/>
<circle cx="161.05" cy="131.85" r="1.4" fill="none" stroke="#333333" stroke-opacity="0.72" stroke-width="0.42"/>
<circle cx="161.05" cy="134.69" r="1.4" fill="none" stroke="#333333" stroke-opacity="0.72" stroke-width="0.42"/>
<circle cx="161.05" cy="113.60" r="1.4" fill="none" stroke="#333333" stroke-opacity="0.72" stroke-width="0.42"/>
<circle cx="161.05" cy="134.02" r="1.4" fill="none" stroke="#333333" stroke-opacity="0.72" stroke-width="0.42"/>
<circle cx="161.05" cy="122.53" r="1.4" fill="none" stroke="#333333" stroke-opacity="0.72" stroke-width="0.42"/>
<circle cx="161.05" cy="124.83" r="1.4" fill="none" stroke="#333333" stroke-opacity="0.72" stroke-width="0.42"/>
<circle cx="161.05" cy="115.13" r="1.4" fill="none" stroke="#333333" stroke-opacity="0.72" stroke-width="0.42"/>
<circle cx="161.05" cy="130.39" r="1.4" fill="none" stroke="#333333" stroke-opacity="0.72" stroke-width="0.42"/>
<circle cx="161.05" cy="119.64" r="1.4" fill="none" stroke="#333333" stroke-opacity="0.72" stroke-width="0.42"/>
<circle cx="161.05" cy="134.52" r="1.4" fill="none" stroke="#333333" stroke-opacity="0.72" stroke-width="0.42"/>
<circle cx="161.05" cy="119.16" r="1.4" fill="none" stroke="#333333" stroke-opacity="0.72" stroke-width="0.42"/>
<circle cx="161.05" cy="126.97" r="1.4" fill="none" stroke="#333333" stroke-opacity="0.72" stroke-width="0.42"/>
<circle cx="161.05" cy="122.68" r="1.4" fill="none" stroke="#333333" stroke-opacity="0.72" stroke-width="0.42"/>
<circle cx="161.05" cy="128.26" r="1.4" fill="none" stroke="#333333" stroke-opacity="0.72" stroke-width="0.42"/>
<circle cx="161.05" cy="116.76" r="1.4" fill="none" stroke="#333333" stroke-opacity="0.72" stroke-width="0.42"/>
<circle cx="161.05" cy="116.24" r="1.4" fill="none" stroke="#333333" stroke-opacity="0.72" stroke-width="0.42"/>
<circle cx="161.05" cy="131.57" r="1.4" fill="none" stroke="#333333" stroke-opacity="0.72" stroke-width="0.42"/>
<circle cx="161.05" cy="131.69" r="1.4" fill="none" stroke="#333333" stroke-opacity="0.72" stroke-width="0.42"/>
<circle cx="161.05" cy="127.10" r="1.4" fill="none" stroke="#333333" stroke-opacity="0.72" stroke-width="0.42"/>
<circle cx="161.05" cy="135.69" r="1.4" fill="none" stroke="#333333" stroke-opacity="0.72" stroke-width="0.42"/>
<circle cx="161.05" cy="117.05" r="1.4" fill="none" stroke="#333333" stroke-opacity="0.72" stroke-width="0.42"/>
<circle cx="161.05" cy="134.05" r="1.4" fill="none" stroke="#333333" stroke-opacity="0.72" stroke-width="0.42"/>
<circle cx="161.05" cy="115.87" r="1.4" fill="none" stroke="#333333" stroke-opacity="0.72" stroke-width="0.42"/>
<circle cx="161.05" cy="136.68" r="1.4" fill="none" stroke="#333333" stroke-opacity="0.72" stroke-width="0.42"/>
<circle cx="161.05" cy="128.54" r="1.4" fill="none" stroke="#333333" stroke-opacity="0.72" stroke-width="0.42"/>
<circle cx="161.05" cy="128.11" r="1.4" fill="none" stroke="#333333" stroke-opacity="0.72" stroke-width="0.42"/>
<circle cx="161.05" cy="136.83" r="1.4" fill="none" stroke="#333333" stroke-opacity="0.72" stroke-width="0.42"/>
<circle cx="161.05" cy="132.53" r="1.4" fill="none" stroke="#333333" stroke-opacity="0.72" stroke-width="0.42"/>
<circle cx="161.05" cy="132.60" r="1.4" fill="none" stroke="#333333" stroke-opacity="0.72" stroke-width="0.42"/>
<circle cx="161.05" cy="111.76" r="1.4" fill="none" stroke="#333333" stroke-opacity="0.72" stroke-width="0.42"/>
<circle cx="161.05" cy="121.85" r="1.4" fill="none" stroke="#333333" stroke-opacity="0.72" stroke-width="0.42"/>
<circle cx="161.05" cy="112.96" r="1.4" fill="none" stroke="#333333" stroke-opacity="0.72" stroke-width="0.42"/>
<circle cx="161.05" cy="116.66" r="1.4" fill="none" stroke="#333333" stroke-opacity="0.72" stroke-width="0.42"/>
<circle cx="161.05" cy="117.30" r="1.4" fill="none" stroke="#333333" stroke-opacity="0.72" stroke-width="0.42"/>
<circle cx="161.05" cy="134.23" r="1.4" fill="none" stroke="#333333" stroke-opacity="0.72" stroke-width="0.42"/>
<circle cx="161.05" cy="114.46" r="1.4" fill="none" stroke="#333333" stroke-opacity="0.72" stroke-width="0.42"/>
<circle cx="161.05" cy="119.78" r="1.4" fill="none" stroke="#333333" stroke-opacity="0.72" stroke-width="0.42"/>
<circle cx="161.05" cy="125.18" r="1.4" fill="none" stroke="#333333" stroke-opacity="0.72" stroke-width="0.42"/>
<circle cx="161.05" cy="134.01" r="1.4" fill="none" stroke="#333333" stroke-opacity="0.72" stroke-width="0.42"/>
<circle cx="161.05" cy="136.70" r="1.4" fill="none" stroke="#333333" stroke-opacity="0.72" stroke-width="0.42"/>
<circle cx="161.05" cy="130.62" r="1.4" fill="none" stroke="#333333" stroke-opacity="0.72" stroke-width="0.42"/>
<circle cx="161.05" cy="117.29" r="1.4" fill="none" stroke="#333333" stroke-opacity="0.72" stroke-width="0.42"/>
<circle cx="161.05" cy="126.54" r="1.4" fill="none" stroke="#333333" stroke-opacity="0.72" stroke-width="0.42"/>
<circle cx="161.05" cy="130.57" r="1.4" fill="none" stroke="#333333" stroke-opacity="0.72" stroke-width="0.42"/>
<circle cx="161.05" cy="111.67" r="1.4" fill="none" stroke="#333333" stroke-opacity="0.72" stroke-width="0.42"/>
<circle cx="161.05" cy="129.93" r="1.4" fill="none" stroke="#333333" stroke-opacity="0.72" stroke-width="0.42"/>
<circle cx="161.05" cy="121.82" r="1.4" fill="none" stroke="#333333" stroke-opacity="0.72" stroke-width="0.42"/>
<circle cx="161.05" cy="127.68" r="1.4" fill="none" stroke="#333333" stroke-opacity="0.72" stroke-width="0.42"/>
<circle cx="161.05" cy="326.00" r="1.4" fill="none" stroke="#333333" stroke-opacity="0.72" stroke-width="0.42"/>
<rect x="90.15" y="207.25" width="141.50" height="47.25" fill="#374E55" stroke="#333333" stroke-width="0.72"/>
<line x1="90.15" x2="231.65" y1="231.5" y2="231.5" stroke="#333333" stroke-width="1.5"/>
<text transform="translate(161.05 227.55) rotate(0.1)" font-size="6.0" text-anchor="middle" fill="#ffffff" fill-opacity="0.75" font-family="'Liberation Sans', Arial, sans-serif">223.7</text>
<line x1="357.45" x2="357.45" y1="145.0" y2="218.1" stroke="#333333" stroke-width="0.65"/>
<line x1="357.45" x2="357.45" y1="267.3" y2="331.7" stroke="#333333" stroke-width="0.65"/>
<circle cx="357.55" cy="68.90" r="1.4" fill="none" stroke="#333333" stroke-opacity="0.72" stroke-width="0.42"/>
<circle cx="357.55" cy="75.40" r="1.4" fill="none" stroke="#333333" stroke-opacity="0.72" stroke-width="0.42"/>
<circle cx="357.55" cy="78.90" r="1.4" fill="none" stroke="#333333" stroke-opacity="0.72" stroke-width="0.42"/>
<circle cx="357.55" cy="83.00" r="1.4" fill="none" stroke="#333333" stroke-opacity="0.72" stroke-width="0.42"/>
<circle cx="357.55" cy="84.60" r="1.4" fill="none" stroke="#333333" stroke-opacity="0.72" stroke-width="0.42"/>
<circle cx="357.55" cy="85.20" r="1.4" fill="none" stroke="#333333" stroke-opacity="0.72" stroke-width="0.42"/>
<circle cx="357.55" cy="86.20" r="1.4" fill="none" stroke="#333333" stroke-opacity="0.72" stroke-width="0.42"/>
<circle cx="357.55" cy="90.10" r="1.4" fill="none" stroke="#333333" stroke-opacity="0.72" stroke-width="0.42"/>
<circle cx="357.55" cy="94.30" r="1.4" fill="none" stroke="#333333" stroke-opacity="0.72" stroke-width="0.42"/>
<circle cx="357.55" cy="100.60" r="1.4" fill="none" stroke="#333333" stroke-opacity="0.72" stroke-width="0.42"/>
<circle cx="357.55" cy="102.29" r="1.4" fill="none" stroke="#333333" stroke-opacity="0.72" stroke-width="0.42"/>
<circle cx="357.55" cy="103.98" r="1.4" fill="none" stroke="#333333" stroke-opacity="0.72" stroke-width="0.42"/>
<circle cx="357.55" cy="105.67" r="1.4" fill="none" stroke="#333333" stroke-opacity="0.72" stroke-width="0.42"/>
<circle cx="357.55" cy="107.36" r="1.4" fill="none" stroke="#333333" stroke-opacity="0.72" stroke-width="0.42"/>
<circle cx="357.55" cy="109.05" r="1.4" fill="none" stroke="#333333" stroke-opacity="0.72" stroke-width="0.42"/>
<circle cx="357.55" cy="110.74" r="1.4" fill="none" stroke="#333333" stroke-opacity="0.72" stroke-width="0.42"/>
<circle cx="357.55" cy="112.43" r="1.4" fill="none" stroke="#333333" stroke-opacity="0.72" stroke-width="0.42"/>
<circle cx="357.55" cy="114.12" r="1.4" fill="none" stroke="#333333" stroke-opacity="0.72" stroke-width="0.42"/>
<circle cx="357.55" cy="115.81" r="1.4" fill="none" stroke="#333333" stroke-opacity="0.72" stroke-width="0.42"/>
<circle cx="357.55" cy="117.50" r="1.4" fill="none" stroke="#333333" stroke-opacity="0.72" stroke-width="0.42"/>
<circle cx="357.55" cy="136.60" r="1.4" fill="none" stroke="#333333" stroke-opacity="0.72" stroke-width="0.42"/>
<circle cx="357.55" cy="136.59" r="1.4" fill="none" stroke="#333333" stroke-opacity="0.72" stroke-width="0.42"/>
<circle cx="357.55" cy="132.76" r="1.4" fill="none" stroke="#333333" stroke-opacity="0.72" stroke-width="0.42"/>
<circle cx="357.55" cy="133.59" r="1.4" fill="none" stroke="#333333" stroke-opacity="0.72" stroke-width="0.42"/>
<circle cx="357.55" cy="123.81" r="1.4" fill="none" stroke="#333333" stroke-opacity="0.72" stroke-width="0.42"/>
<circle cx="357.55" cy="132.02" r="1.4" fill="none" stroke="#333333" stroke-opacity="0.72" stroke-width="0.42"/>
<circle cx="357.55" cy="121.67" r="1.4" fill="none" stroke="#333333" stroke-opacity="0.72" stroke-width="0.42"/>
<circle cx="357.55" cy="131.63" r="1.4" fill="none" stroke="#333333" stroke-opacity="0.72" stroke-width="0.42"/>
<circle cx="357.55" cy="133.11" r="1.4" fill="none" stroke="#333333" stroke-opacity="0.72" stroke-width="0.42"/>
<circle cx="357.55" cy="139.29" r="1.4" fill="none" stroke="#333333" stroke-opacity="0.72" stroke-width="0.42"/>
<circle cx="357.55" cy="129.28" r="1.4" fill="none" stroke="#333333" stroke-opacity="0.72" stroke-width="0.42"/>
<circle cx="357.55" cy="118.27" r="1.4" fill="none" stroke="#333333" stroke-opacity="0.72" stroke-width="0.42"/>
<circle cx="357.55" cy="132.88" r="1.4" fill="none" stroke="#333333" stroke-opacity="0.72" stroke-width="0.42"/>
<circle cx="357.55" cy="124.02" r="1.4" fill="none" stroke="#333333" stroke-opacity="0.72" stroke-width="0.42"/>
<circle cx="357.55" cy="138.45" r="1.4" fill="none" stroke="#333333" stroke-opacity="0.72" stroke-width="0.42"/>
<circle cx="357.55" cy="129.15" r="1.4" fill="none" stroke="#333333" stroke-opacity="0.72" stroke-width="0.42"/>
<circle cx="357.55" cy="128.92" r="1.4" fill="none" stroke="#333333" stroke-opacity="0.72" stroke-width="0.42"/>
<circle cx="357.55" cy="142.73" r="1.4" fill="none" stroke="#333333" stroke-opacity="0.72" stroke-width="0.42"/>
<circle cx="357.55" cy="129.26" r="1.4" fill="none" stroke="#333333" stroke-opacity="0.72" stroke-width="0.42"/>
<circle cx="357.55" cy="128.06" r="1.4" fill="none" stroke="#333333" stroke-opacity="0.72" stroke-width="0.42"/>
<circle cx="357.55" cy="128.03" r="1.4" fill="none" stroke="#333333" stroke-opacity="0.72" stroke-width="0.42"/>
<circle cx="357.55" cy="131.63" r="1.4" fill="none" stroke="#333333" stroke-opacity="0.72" stroke-width="0.42"/>
<circle cx="357.55" cy="120.68" r="1.4" fill="none" stroke="#333333" stroke-opacity="0.72" stroke-width="0.42"/>
<circle cx="357.55" cy="133.38" r="1.4" fill="none" stroke="#333333" stroke-opacity="0.72" stroke-width="0.42"/>
<circle cx="357.55" cy="143.03" r="1.4" fill="none" stroke="#333333" stroke-opacity="0.72" stroke-width="0.42"/>
<circle cx="357.55" cy="133.81" r="1.4" fill="none" stroke="#333333" stroke-opacity="0.72" stroke-width="0.42"/>
<circle cx="357.55" cy="138.52" r="1.4" fill="none" stroke="#333333" stroke-opacity="0.72" stroke-width="0.42"/>
<circle cx="357.55" cy="143.68" r="1.4" fill="none" stroke="#333333" stroke-opacity="0.72" stroke-width="0.42"/>
<circle cx="357.55" cy="141.02" r="1.4" fill="none" stroke="#333333" stroke-opacity="0.72" stroke-width="0.42"/>
<circle cx="357.55" cy="138.52" r="1.4" fill="none" stroke="#333333" stroke-opacity="0.72" stroke-width="0.42"/>
<circle cx="357.55" cy="140.29" r="1.4" fill="none" stroke="#333333" stroke-opacity="0.72" stroke-width="0.42"/>
<circle cx="357.55" cy="140.46" r="1.4" fill="none" stroke="#333333" stroke-opacity="0.72" stroke-width="0.42"/>
<circle cx="357.55" cy="125.40" r="1.4" fill="none" stroke="#333333" stroke-opacity="0.72" stroke-width="0.42"/>
<circle cx="357.55" cy="131.66" r="1.4" fill="none" stroke="#333333" stroke-opacity="0.72" stroke-width="0.42"/>
<circle cx="357.55" cy="127.89" r="1.4" fill="none" stroke="#333333" stroke-opacity="0.72" stroke-width="0.42"/>
<circle cx="357.55" cy="125.63" r="1.4" fill="none" stroke="#333333" stroke-opacity="0.72" stroke-width="0.42"/>
<circle cx="357.55" cy="134.04" r="1.4" fill="none" stroke="#333333" stroke-opacity="0.72" stroke-width="0.42"/>
<circle cx="357.55" cy="127.20" r="1.4" fill="none" stroke="#333333" stroke-opacity="0.72" stroke-width="0.42"/>
<circle cx="357.55" cy="135.27" r="1.4" fill="none" stroke="#333333" stroke-opacity="0.72" stroke-width="0.42"/>
<circle cx="357.55" cy="134.32" r="1.4" fill="none" stroke="#333333" stroke-opacity="0.72" stroke-width="0.42"/>
<circle cx="357.55" cy="121.03" r="1.4" fill="none" stroke="#333333" stroke-opacity="0.72" stroke-width="0.42"/>
<circle cx="357.55" cy="130.60" r="1.4" fill="none" stroke="#333333" stroke-opacity="0.72" stroke-width="0.42"/>
<circle cx="357.55" cy="129.18" r="1.4" fill="none" stroke="#333333" stroke-opacity="0.72" stroke-width="0.42"/>
<circle cx="357.55" cy="137.56" r="1.4" fill="none" stroke="#333333" stroke-opacity="0.72" stroke-width="0.42"/>
<circle cx="357.55" cy="120.52" r="1.4" fill="none" stroke="#333333" stroke-opacity="0.72" stroke-width="0.42"/>
<circle cx="357.55" cy="122.96" r="1.4" fill="none" stroke="#333333" stroke-opacity="0.72" stroke-width="0.42"/>
<circle cx="357.55" cy="132.48" r="1.4" fill="none" stroke="#333333" stroke-opacity="0.72" stroke-width="0.42"/>
<circle cx="357.55" cy="129.58" r="1.4" fill="none" stroke="#333333" stroke-opacity="0.72" stroke-width="0.42"/>
<circle cx="357.55" cy="136.49" r="1.4" fill="none" stroke="#333333" stroke-opacity="0.72" stroke-width="0.42"/>
<circle cx="357.55" cy="127.62" r="1.4" fill="none" stroke="#333333" stroke-opacity="0.72" stroke-width="0.42"/>
<circle cx="357.55" cy="123.79" r="1.4" fill="none" stroke="#333333" stroke-opacity="0.72" stroke-width="0.42"/>
<circle cx="357.55" cy="143.29" r="1.4" fill="none" stroke="#333333" stroke-opacity="0.72" stroke-width="0.42"/>
<circle cx="357.55" cy="125.13" r="1.4" fill="none" stroke="#333333" stroke-opacity="0.72" stroke-width="0.42"/>
<circle cx="357.55" cy="122.31" r="1.4" fill="none" stroke="#333333" stroke-opacity="0.72" stroke-width="0.42"/>
<circle cx="357.55" cy="126.14" r="1.4" fill="none" stroke="#333333" stroke-opacity="0.72" stroke-width="0.42"/>
<circle cx="357.55" cy="127.81" r="1.4" fill="none" stroke="#333333" stroke-opacity="0.72" stroke-width="0.42"/>
<circle cx="357.55" cy="124.59" r="1.4" fill="none" stroke="#333333" stroke-opacity="0.72" stroke-width="0.42"/>
<circle cx="357.55" cy="133.11" r="1.4" fill="none" stroke="#333333" stroke-opacity="0.72" stroke-width="0.42"/>
<circle cx="357.55" cy="143.42" r="1.4" fill="none" stroke="#333333" stroke-opacity="0.72" stroke-width="0.42"/>
<circle cx="357.55" cy="121.68" r="1.4" fill="none" stroke="#333333" stroke-opacity="0.72" stroke-width="0.42"/>
<circle cx="357.55" cy="129.87" r="1.4" fill="none" stroke="#333333" stroke-opacity="0.72" stroke-width="0.42"/>
<circle cx="357.55" cy="136.56" r="1.4" fill="none" stroke="#333333" stroke-opacity="0.72" stroke-width="0.42"/>
<circle cx="357.55" cy="142.10" r="1.4" fill="none" stroke="#333333" stroke-opacity="0.72" stroke-width="0.42"/>
<circle cx="357.55" cy="145.00" r="1.4" fill="none" stroke="#333333" stroke-opacity="0.72" stroke-width="0.42"/>
<circle cx="357.55" cy="122.21" r="1.4" fill="none" stroke="#333333" stroke-opacity="0.72" stroke-width="0.42"/>
<circle cx="357.55" cy="133.13" r="1.4" fill="none" stroke="#333333" stroke-opacity="0.72" stroke-width="0.42"/>
<circle cx="357.55" cy="142.01" r="1.4" fill="none" stroke="#333333" stroke-opacity="0.72" stroke-width="0.42"/>
<circle cx="357.55" cy="119.40" r="1.4" fill="none" stroke="#333333" stroke-opacity="0.72" stroke-width="0.42"/>
<circle cx="357.55" cy="134.48" r="1.4" fill="none" stroke="#333333" stroke-opacity="0.72" stroke-width="0.42"/>
<circle cx="357.55" cy="123.11" r="1.4" fill="none" stroke="#333333" stroke-opacity="0.72" stroke-width="0.42"/>
<rect x="286.45" y="218.1" width="141.50" height="49.20" fill="#DF8F44" stroke="#333333" stroke-width="0.72"/>
<line x1="286.45" x2="427.95" y1="243.1" y2="243.1" stroke="#333333" stroke-width="1.5"/>
<text transform="translate(357.3 239.35) rotate(0.1)" font-size="6.0" text-anchor="middle" fill="#ffffff" fill-opacity="0.75" font-family="'Liberation Sans', Arial, sans-serif">211.9</text>
<line x1="553.5" x2="553.5" y1="124.2" y2="196.3" stroke="#333333" stroke-width="0.65"/>
<line x1="553.5" x2="553.5" y1="244.4" y2="314.9" stroke="#333333" stroke-width="0.65"/>
<circle cx="553.5" cy="48.00" r="1.4" fill="none" stroke="#333333" stroke-opacity="0.72" stroke-width="0.42"/>
<circle cx="553.5" cy="53.30" r="1.4" fill="none" stroke="#333333" stroke-opacity="0.72" stroke-width="0.42"/>
<circle cx="553.5" cy="53.90" r="1.4" fill="none" stroke="#333333" stroke-opacity="0.72" stroke-width="0.42"/>
<circle cx="553.5" cy="64.40" r="1.4" fill="none" stroke="#333333" stroke-opacity="0.72" stroke-width="0.42"/>
<circle cx="553.5" cy="71.60" r="1.4" fill="none" stroke="#333333" stroke-opacity="0.72" stroke-width="0.42"/>
<circle cx="553.5" cy="72.20" r="1.4" fill="none" stroke="#333333" stroke-opacity="0.72" stroke-width="0.42"/>
<circle cx="553.5" cy="77.60" r="1.4" fill="none" stroke="#333333" stroke-opacity="0.72" stroke-width="0.42"/>
<circle cx="553.5" cy="80.70" r="1.4" fill="none" stroke="#333333" stroke-opacity="0.72" stroke-width="0.42"/>
<circle cx="553.5" cy="92.00" r="1.4" fill="none" stroke="#333333" stroke-opacity="0.72" stroke-width="0.42"/>
<circle cx="553.5" cy="93.70" r="1.4" fill="none" stroke="#333333" stroke-opacity="0.72" stroke-width="0.42"/>
<circle cx="553.5" cy="95.50" r="1.4" fill="none" stroke="#333333" stroke-opacity="0.72" stroke-width="0.42"/>
<circle cx="553.5" cy="97.20" r="1.4" fill="none" stroke="#333333" stroke-opacity="0.72" stroke-width="0.42"/>
<circle cx="553.5" cy="99.00" r="1.4" fill="none" stroke="#333333" stroke-opacity="0.72" stroke-width="0.42"/>
<circle cx="553.5" cy="100.80" r="1.4" fill="none" stroke="#333333" stroke-opacity="0.72" stroke-width="0.42"/>
<circle cx="553.5" cy="102.60" r="1.4" fill="none" stroke="#333333" stroke-opacity="0.72" stroke-width="0.42"/>
<circle cx="553.5" cy="104.40" r="1.4" fill="none" stroke="#333333" stroke-opacity="0.72" stroke-width="0.42"/>
<circle cx="553.5" cy="107.70" r="1.4" fill="none" stroke="#333333" stroke-opacity="0.72" stroke-width="0.42"/>
<circle cx="553.5" cy="108.10" r="1.4" fill="none" stroke="#333333" stroke-opacity="0.72" stroke-width="0.42"/>
<circle cx="553.5" cy="109.70" r="1.4" fill="none" stroke="#333333" stroke-opacity="0.72" stroke-width="0.42"/>
<circle cx="553.5" cy="112.50" r="1.4" fill="none" stroke="#333333" stroke-opacity="0.72" stroke-width="0.42"/>
<circle cx="553.5" cy="114.50" r="1.4" fill="none" stroke="#333333" stroke-opacity="0.72" stroke-width="0.42"/>
<circle cx="553.5" cy="122.57" r="1.4" fill="none" stroke="#333333" stroke-opacity="0.72" stroke-width="0.42"/>
<circle cx="553.5" cy="123.91" r="1.4" fill="none" stroke="#333333" stroke-opacity="0.72" stroke-width="0.42"/>
<circle cx="553.5" cy="120.75" r="1.4" fill="none" stroke="#333333" stroke-opacity="0.72" stroke-width="0.42"/>
<circle cx="553.5" cy="116.57" r="1.4" fill="none" stroke="#333333" stroke-opacity="0.72" stroke-width="0.42"/>
<circle cx="553.5" cy="117.01" r="1.4" fill="none" stroke="#333333" stroke-opacity="0.72" stroke-width="0.42"/>
<circle cx="553.5" cy="119.78" r="1.4" fill="none" stroke="#333333" stroke-opacity="0.72" stroke-width="0.42"/>
<circle cx="553.5" cy="123.19" r="1.4" fill="none" stroke="#333333" stroke-opacity="0.72" stroke-width="0.42"/>
<circle cx="553.5" cy="118.37" r="1.4" fill="none" stroke="#333333" stroke-opacity="0.72" stroke-width="0.42"/>
<circle cx="553.5" cy="121.79" r="1.4" fill="none" stroke="#333333" stroke-opacity="0.72" stroke-width="0.42"/>
<circle cx="553.5" cy="119.70" r="1.4" fill="none" stroke="#333333" stroke-opacity="0.72" stroke-width="0.42"/>
<circle cx="553.5" cy="118.59" r="1.4" fill="none" stroke="#333333" stroke-opacity="0.72" stroke-width="0.42"/>
<circle cx="553.5" cy="122.06" r="1.4" fill="none" stroke="#333333" stroke-opacity="0.72" stroke-width="0.42"/>
<circle cx="553.5" cy="118.94" r="1.4" fill="none" stroke="#333333" stroke-opacity="0.72" stroke-width="0.42"/>
<circle cx="553.5" cy="119.44" r="1.4" fill="none" stroke="#333333" stroke-opacity="0.72" stroke-width="0.42"/>
<circle cx="553.5" cy="122.55" r="1.4" fill="none" stroke="#333333" stroke-opacity="0.72" stroke-width="0.42"/>
<circle cx="553.5" cy="120.41" r="1.4" fill="none" stroke="#333333" stroke-opacity="0.72" stroke-width="0.42"/>
<circle cx="553.5" cy="122.69" r="1.4" fill="none" stroke="#333333" stroke-opacity="0.72" stroke-width="0.42"/>
<circle cx="553.5" cy="120.58" r="1.4" fill="none" stroke="#333333" stroke-opacity="0.72" stroke-width="0.42"/>
<circle cx="553.5" cy="316.50" r="1.4" fill="none" stroke="#333333" stroke-opacity="0.72" stroke-width="0.42"/>
<circle cx="553.5" cy="318.70" r="1.4" fill="none" stroke="#333333" stroke-opacity="0.72" stroke-width="0.42"/>
<circle cx="553.5" cy="323.10" r="1.4" fill="none" stroke="#333333" stroke-opacity="0.72" stroke-width="0.42"/>
<rect x="482.75" y="196.3" width="141.50" height="48.10" fill="#00A1D5" stroke="#333333" stroke-width="0.72"/>
<line x1="482.75" x2="624.25" y1="221.2" y2="221.2" stroke="#333333" stroke-width="1.5"/>
<text transform="translate(553.5 216.85) rotate(0.1)" font-size="6.0" text-anchor="middle" fill="#ffffff" fill-opacity="0.75" font-family="'Liberation Sans', Arial, sans-serif">234.7</text>
<text transform="translate(357.2 34.8) rotate(0.1)" font-size="7.08" text-anchor="middle" fill="#000000" font-family="'Liberation Sans', Arial, sans-serif">p = &lt;2e−16</text>
<rect x="29.75" y="0.60" width="1.3" height="363.30" fill="#000000"/>
<rect x="29.75" y="362.50" width="654.65" height="1.4" fill="#1a1a1a"/>
<rect x="28.25" y="60.60" width="1.8" height="1.4" fill="#000000"/>
<text transform="translate(26.8 64.85) rotate(0.1)" font-size="9.55" text-anchor="end" fill="#000000" stroke="#000000" stroke-width="0.1" font-family="'Liberation Sans', Arial, sans-serif">400</text>
<rect x="28.25" y="156.20" width="1.8" height="1.4" fill="#000000"/>
<text transform="translate(26.8 160.45) rotate(0.1)" font-size="9.55" text-anchor="end" fill="#000000" stroke="#000000" stroke-width="0.1" font-family="'Liberation Sans', Arial, sans-serif">300</text>
<rect x="28.25" y="251.70" width="1.8" height="1.4" fill="#000000"/>
<text transform="translate(26.8 255.95) rotate(0.1)" font-size="9.55" text-anchor="end" fill="#000000" stroke="#000000" stroke-width="0.1" font-family="'Liberation Sans', Arial, sans-serif">200</text>
<rect x="28.25" y="347.30" width="1.8" height="1.4" fill="#000000"/>
<text transform="translate(26.8 351.55) rotate(0.1)" font-size="9.55" text-anchor="end" fill="#000000" stroke="#000000" stroke-width="0.1" font-family="'Liberation Sans', Arial, sans-serif">100</text>
<rect x="356.7" y="363.80" width="1.4" height="1.1" fill="#000000"/>
<text transform="translate(338.5 373.1) rotate(0.1)" font-size="9.6" text-anchor="start" fill="#000000" stroke="#000000" stroke-width="0.12" font-family="'Liberation Sans', Arial, sans-serif">TyG-BMI</text>
<text transform="translate(7.9 181.8) rotate(-89.9)" font-size="9.6" text-anchor="middle" fill="#000000" stroke="#000000" stroke-width="0.12" font-family="'Liberation Sans', Arial, sans-serif">Value</text>
</g>
<g id="panel2">
<rect x="30.4" y="386.60" width="654.00" height="1.4" fill="#7f7f7f"/>
<rect x="683.00" y="386.60" width="1.4" height="362.60" fill="#7f7f7f"/>
<rect x="31.7" y="389.2" width="650.00" height="357.50" fill="#FDF9F8"/>
<line x1="31.7" x2="681.7" y1="420.3" y2="420.3" stroke="#d9d9d9" stroke-width="0.6" stroke-dasharray="0.9 1.15" opacity="0.85"/>
<line x1="31.7" x2="681.7" y1="511.3" y2="511.3" stroke="#d9d9d9" stroke-width="0.6" stroke-dasharray="0.9 1.15" opacity="0.85"/>
<line x1="31.7" x2="681.7" y1="602.3" y2="602.3" stroke="#d9d9d9" stroke-width="0.6" stroke-dasharray="0.9 1.15" opacity="0.85"/>
<line x1="31.7" x2="681.7" y1="693.3" y2="693.3" stroke="#d9d9d9" stroke-width="0.6" stroke-dasharray="0.9 1.15" opacity="0.85"/>
<path d="M161.02 425.00 L161.02 425.50 L161.02 426.00 L161.02 426.50 L161.02 427.00 L161.02 427.50 L161.02 428.00 L161.01 428.50 L161.01 429.00 L161.01 429.50 L161.01 430.00 L161.01 430.50 L161.00 431.00 L161.00 431.50 L161.00 432.00 L161.00 432.50 L160.99 433.00 L160.99 433.50 L160.99 434.00 L160.98 434.50 L160.98 435.00 L160.97 435.50 L160.97 436.00 L160.96 436.50 L160.96 437.00 L160.95 437.50 L160.95 438.00 L160.94 438.50 L160.94 439.00 L160.93 439.50 L160.93 440.00 L160.92 440.50 L160.91 441.00 L160.91 441.50 L160.90 442.00 L160.89 442.50 L160.88 443.00 L160.88 443.50 L160.87 444.00 L160.86 444.50 L160.85 445.00 L160.84 445.50 L160.82 446.00 L160.80 446.50 L160.78 447.00 L160.75 447.50 L160.71 448.00 L160.68 448.50 L160.64 449.00 L160.60 449.50 L160.56 450.00 L160.52 450.50 L160.48 451.00 L160.43 451.50 L160.39 452.00 L160.35 452.50 L160.31 453.00 L160.27 453.50 L160.23 454.00 L160.19 454.50 L160.15 455.00 L160.11 455.50 L160.06 456.00 L160.01 456.50 L159.96 457.00 L159.91 457.50 L159.86 458.00 L159.80 458.50 L159.74 459.00 L159.68 459.50 L159.62 460.00 L159.54 460.50 L159.46 461.00 L159.37 461.50 L159.28 462.00 L159.18 462.50 L159.08 463.00 L158.98 463.50 L158.87 464.00 L158.76 464.50 L158.65 465.00 L158.54 465.50 L158.43 466.00 L158.32 466.50 L158.21 467.00 L158.09 467.50 L157.98 468.00 L157.86 468.50 L157.74 469.00 L157.62 469.50 L157.50 470.00 L157.37 470.50 L157.24 471.00 L157.11 471.50 L156.98 472.00 L156.85 472.50 L156.71 473.00 L156.58 473.50 L156.44 474.00 L156.30 474.50 L156.16 475.00 L156.02 475.50 L155.87 476.00 L155.72 476.50 L155.57 477.00 L155.41 477.50 L155.25 478.00 L155.09 478.50 L154.92 479.00 L154.74 479.50 L154.56 480.00 L154.38 480.50 L154.18 481.00 L153.99 481.50 L153.78 482.00 L153.57 482.50 L153.36 483.00 L153.14 483.50 L152.92 484.00 L152.69 484.50 L152.46 485.00 L152.23 485.50 L151.99 486.00 L151.74 486.50 L151.49 487.00 L151.23 487.50 L150.96 488.00 L150.68 488.50 L150.40 489.00 L150.12 489.50 L149.83 490.00 L149.54 490.50 L149.24 491.00 L148.95 491.50 L148.66 492.00 L148.36 492.50 L148.07 493.00 L147.77 493.50 L147.47 494.00 L147.16 494.50 L146.85 495.00 L146.54 495.50 L146.23 496.00 L145.92 496.50 L145.61 497.00 L145.30 497.50 L144.99 498.00 L144.69 498.50 L144.38 499.00 L144.08 499.50 L143.78 500.00 L143.48 500.50 L143.17 501.00 L142.87 501.50 L142.57 502.00 L142.27 502.50 L141.97 503.00 L141.68 503.50 L141.39 504.00 L141.10 504.50 L140.82 505.00 L140.55 505.50 L140.28 506.00 L140.02 506.50 L139.76 507.00 L139.50 507.50 L139.26 508.00 L139.01 508.50 L138.77 509.00 L138.52 509.50 L138.28 510.00 L138.04 510.50 L137.80 511.00 L137.55 511.50 L137.30 512.00 L137.05 512.50 L136.81 513.00 L136.56 513.50 L136.32 514.00 L136.08 514.50 L135.84 515.00 L135.60 515.50 L135.36 516.00 L135.11 516.50 L134.85 517.00 L134.59 517.50 L134.32 518.00 L134.04 518.50 L133.75 519.00 L133.45 519.50 L133.14 520.00 L132.83 520.50 L132.51 521.00 L132.17 521.50 L131.83 522.00 L131.49 522.50 L131.13 523.00 L130.76 523.50 L130.39 524.00 L130.00 524.50 L129.61 525.00 L129.21 525.50 L128.79 526.00 L128.35 526.50 L127.90 527.00 L127.43 527.50 L126.95 528.00 L126.46 528.50 L125.95 529.00 L125.44 529.50 L124.93 530.00 L124.40 530.50 L123.88 531.00 L123.35 531.50 L122.82 532.00 L122.28 532.50 L121.72 533.00 L121.16 533.50 L120.59 534.00 L120.01 534.50 L119.42 535.00 L118.84 535.50 L118.25 536.00 L117.66 536.50 L117.06 537.00 L116.46 537.50 L115.86 538.00 L115.25 538.50 L114.63 539.00 L114.01 539.50 L113.39 540.00 L112.78 540.50 L112.17 541.00 L111.56 541.50 L110.96 542.00 L110.37 542.50 L109.79 543.00 L109.22 543.50 L108.67 544.00 L108.14 544.50 L107.62 545.00 L107.10 545.50 L106.59 546.00 L106.08 546.50 L105.56 547.00 L105.03 547.50 L104.49 548.00 L103.93 548.50 L103.36 549.00 L102.75 549.50 L102.12 550.00 L101.46 550.50 L100.76 551.00 L100.05 551.50 L99.31 552.00 L98.56 552.50 L97.79 553.00 L97.02 553.50 L96.23 554.00 L95.45 554.50 L94.66 555.00 L93.88 555.50 L93.10 556.00 L92.34 556.50 L91.53 557.00 L90.69 557.50 L89.82 558.00 L88.95 558.50 L88.08 559.00 L87.22 559.50 L86.40 560.00 L85.62 560.50 L84.90 561.00 L84.25 561.50 L83.68 562.00 L83.20 562.50 L82.71 563.00 L82.22 563.50 L81.74 564.00 L81.29 564.50 L80.86 565.00 L80.47 565.50 L80.13 566.00 L79.84 566.50 L79.62 567.00 L79.47 567.50 L79.40 568.00 L79.42 568.50 L79.51 569.00 L79.64 569.50 L79.82 570.00 L80.04 570.50 L80.28 571.00 L80.55 571.50 L80.82 572.00 L81.10 572.50 L81.38 573.00 L81.65 573.50 L81.96 574.00 L82.33 574.50 L82.76 575.00 L83.22 575.50 L83.69 576.00 L84.16 576.50 L84.62 577.00 L85.05 577.50 L85.43 578.00 L85.75 578.50 L85.99 579.00 L86.14 579.50 L86.17 580.00 L86.11 580.50 L85.97 581.00 L85.77 581.50 L85.52 582.00 L85.22 582.50 L84.90 583.00 L84.56 583.50 L84.23 584.00 L83.90 584.50 L83.60 585.00 L83.31 585.50 L82.98 586.00 L82.62 586.50 L82.24 587.00 L81.84 587.50 L81.45 588.00 L81.08 588.50 L80.75 589.00 L80.46 589.50 L80.23 590.00 L80.07 590.50 L80.00 591.00 L80.02 591.50 L80.09 592.00 L80.22 592.50 L80.39 593.00 L80.60 593.50 L80.86 594.00 L81.14 594.50 L81.45 595.00 L81.79 595.50 L82.14 596.00 L82.51 596.50 L82.89 597.00 L83.40 597.50 L84.13 598.00 L85.01 598.50 L85.99 599.00 L86.99 599.50 L87.96 600.00 L88.82 600.50 L89.52 601.00 L89.99 601.50 L90.28 602.00 L90.54 602.50 L90.78 603.00 L91.01 603.50 L91.22 604.00 L91.40 604.50 L91.55 605.00 L91.68 605.50 L91.77 606.00 L91.83 606.50 L91.85 607.00 L91.81 607.50 L91.71 608.00 L91.55 608.50 L91.35 609.00 L91.12 609.50 L90.88 610.00 L90.64 610.50 L90.42 611.00 L90.22 611.50 L90.06 612.00 L89.91 612.50 L89.76 613.00 L89.61 613.50 L89.47 614.00 L89.35 614.50 L89.25 615.00 L89.18 615.50 L89.16 616.00 L89.17 616.50 L89.21 617.00 L89.27 617.50 L89.35 618.00 L89.45 618.50 L89.57 619.00 L89.70 619.50 L89.84 620.00 L89.99 620.50 L90.18 621.00 L90.50 621.50 L90.95 622.00 L91.50 622.50 L92.13 623.00 L92.81 623.50 L93.54 624.00 L94.27 624.50 L94.99 625.00 L95.68 625.50 L96.32 626.00 L96.87 626.50 L97.33 627.00 L97.73 627.50 L98.13 628.00 L98.54 628.50 L98.95 629.00 L99.36 629.50 L99.75 630.00 L100.12 630.50 L100.48 631.00 L100.82 631.50 L101.12 632.00 L101.39 632.50 L101.63 633.00 L101.82 633.50 L101.97 634.00 L102.06 634.50 L102.10 635.00 L102.10 635.50 L102.07 636.00 L102.02 636.50 L101.96 637.00 L101.88 637.50 L101.79 638.00 L101.69 638.50 L101.58 639.00 L101.47 639.50 L101.36 640.00 L101.24 640.50 L101.13 641.00 L101.03 641.50 L100.93 642.00 L100.83 642.50 L100.74 643.00 L100.63 643.50 L100.53 644.00 L100.42 644.50 L100.31 645.00 L100.20 645.50 L100.10 646.00 L100.00 646.50 L99.90 647.00 L99.81 647.50 L99.72 648.00 L99.64 648.50 L99.57 649.00 L99.50 649.50 L99.43 650.00 L99.35 650.50 L99.28 651.00 L99.21 651.50 L99.15 652.00 L99.09 652.50 L99.04 653.00 L98.99 653.50 L98.96 654.00 L98.93 654.50 L98.92 655.00 L98.93 655.50 L98.99 656.00 L99.10 656.50 L99.26 657.00 L99.46 657.50 L99.69 658.00 L99.96 658.50 L100.25 659.00 L100.55 659.50 L100.88 660.00 L101.21 660.50 L101.61 661.00 L102.14 661.50 L102.76 662.00 L103.46 662.50 L104.21 663.00 L104.99 663.50 L105.77 664.00 L106.54 664.50 L107.32 665.00 L108.14 665.50 L109.00 666.00 L109.88 666.50 L110.78 667.00 L111.71 667.50 L112.64 668.00 L113.58 668.50 L114.53 669.00 L115.47 669.50 L116.41 670.00 L117.33 670.50 L118.23 671.00 L119.13 671.50 L120.02 672.00 L120.92 672.50 L121.82 673.00 L122.71 673.50 L123.61 674.00 L124.50 674.50 L125.39 675.00 L126.28 675.50 L127.17 676.00 L128.05 676.50 L128.93 677.00 L129.81 677.50 L130.68 678.00 L131.56 678.50 L132.44 679.00 L133.32 679.50 L134.20 680.00 L135.08 680.50 L135.95 681.00 L136.81 681.50 L137.67 682.00 L138.52 682.50 L139.35 683.00 L140.17 683.50 L140.98 684.00 L141.77 684.50 L142.58 685.00 L143.39 685.50 L144.19 686.00 L145.00 686.50 L145.79 687.00 L146.56 687.50 L147.32 688.00 L148.05 688.50 L148.76 689.00 L149.43 689.50 L150.07 690.00 L150.67 690.50 L151.23 691.00 L151.77 691.50 L152.31 692.00 L152.83 692.50 L153.33 693.00 L153.82 693.50 L154.29 694.00 L154.74 694.50 L155.17 695.00 L155.57 695.50 L155.94 696.00 L156.29 696.50 L156.60 697.00 L156.88 697.50 L157.14 698.00 L157.40 698.50 L157.64 699.00 L157.87 699.50 L158.09 700.00 L158.30 700.50 L158.49 701.00 L158.68 701.50 L158.85 702.00 L159.01 702.50 L159.15 703.00 L159.28 703.50 L159.40 704.00 L159.52 704.50 L159.63 705.00 L159.73 705.50 L159.83 706.00 L159.93 706.50 L160.01 707.00 L160.10 707.50 L160.18 708.00 L160.25 708.50 L160.31 709.00 L160.37 709.50 L160.42 710.00 L160.46 710.50 L160.50 711.00 L160.54 711.50 L160.57 712.00 L160.61 712.50 L160.64 713.00 L160.67 713.50 L160.70 714.00 L160.72 714.50 L160.75 715.00 L160.77 715.50 L160.79 716.00 L160.81 716.50 L160.83 717.00 L160.84 717.50 L160.85 718.00 L160.86 718.50 L160.87 719.00 L160.88 719.50 L160.89 720.00 L160.90 720.50 L160.91 721.00 L160.92 721.50 L160.93 722.00 L160.94 722.50 L160.94 723.00 L160.95 723.50 L160.96 724.00 L160.97 724.50 L160.97 725.00 L160.98 725.50 L160.98 726.00 L160.99 726.50 L160.99 727.00 L161.00 727.50 L161.00 728.00 L161.01 728.50 L161.01 729.00 L161.01 729.50 L161.02 730.00 L161.02 730.50 L161.02 731.00 L161.02 731.50 L161.02 732.00 L161.08 732.00 L161.08 731.50 L161.08 731.00 L161.08 730.50 L161.08 730.00 L161.09 729.50 L161.09 729.00 L161.09 728.50 L161.10 728.00 L161.10 727.50 L161.11 727.00 L161.11 726.50 L161.12 726.00 L161.12 725.50 L161.13 725.00 L161.13 724.50 L161.14 724.00 L161.15 723.50 L161.16 723.00 L161.16 722.50 L161.17 722.00 L161.18 721.50 L161.19 721.00 L161.20 720.50 L161.21 720.00 L161.22 719.50 L161.23 719.00 L161.24 718.50 L161.25 718.00 L161.26 717.50 L161.27 717.00 L161.29 716.50 L161.31 716.00 L161.33 715.50 L161.35 715.00 L161.38 714.50 L161.40 714.00 L161.43 713.50 L161.46 713.00 L161.49 712.50 L161.53 712.00 L161.56 711.50 L161.60 711.00 L161.64 710.50 L161.68 710.00 L161.73 709.50 L161.79 709.00 L161.85 708.50 L161.92 708.00 L162.00 707.50 L162.09 707.00 L162.17 706.50 L162.27 706.00 L162.37 705.50 L162.47 705.00 L162.58 704.50 L162.70 704.00 L162.82 703.50 L162.95 703.00 L163.09 702.50 L163.25 702.00 L163.42 701.50 L163.61 701.00 L163.80 700.50 L164.01 700.00 L164.23 699.50 L164.46 699.00 L164.70 698.50 L164.96 698.00 L165.22 697.50 L165.50 697.00 L165.81 696.50 L166.16 696.00 L166.53 695.50 L166.93 695.00 L167.36 694.50 L167.81 694.00 L168.28 693.50 L168.77 693.00 L169.27 692.50 L169.79 692.00 L170.33 691.50 L170.87 691.00 L171.43 690.50 L172.03 690.00 L172.67 689.50 L173.34 689.00 L174.05 688.50 L174.78 688.00 L175.54 687.50 L176.31 687.00 L177.10 686.50 L177.91 686.00 L178.71 685.50 L179.52 685.00 L180.33 684.50 L181.12 684.00 L181.93 683.50 L182.75 683.00 L183.58 682.50 L184.43 682.00 L185.29 681.50 L186.15 681.00 L187.02 680.50 L187.90 680.00 L188.78 679.50 L189.66 679.00 L190.54 678.50 L191.42 678.00 L192.29 677.50 L193.17 677.00 L194.05 676.50 L194.93 676.00 L195.82 675.50 L196.71 675.00 L197.60 674.50 L198.49 674.00 L199.39 673.50 L200.28 673.00 L201.18 672.50 L202.08 672.00 L202.97 671.50 L203.87 671.00 L204.77 670.50 L205.69 670.00 L206.63 669.50 L207.57 669.00 L208.52 668.50 L209.46 668.00 L210.39 667.50 L211.32 667.00 L212.22 666.50 L213.10 666.00 L213.96 665.50 L214.78 665.00 L215.56 664.50 L216.33 664.00 L217.11 663.50 L217.89 663.00 L218.64 662.50 L219.34 662.00 L219.96 661.50 L220.49 661.00 L220.89 660.50 L221.22 660.00 L221.55 659.50 L221.85 659.00 L222.14 658.50 L222.41 658.00 L222.64 657.50 L222.84 657.00 L223.00 656.50 L223.11 656.00 L223.17 655.50 L223.18 655.00 L223.17 654.50 L223.14 654.00 L223.11 653.50 L223.06 653.00 L223.01 652.50 L222.95 652.00 L222.89 651.50 L222.82 651.00 L222.75 650.50 L222.67 650.00 L222.60 649.50 L222.53 649.00 L222.46 648.50 L222.38 648.00 L222.29 647.50 L222.20 647.00 L222.10 646.50 L222.00 646.00 L221.90 645.50 L221.79 645.00 L221.68 644.50 L221.57 644.00 L221.47 643.50 L221.36 643.00 L221.27 642.50 L221.17 642.00 L221.07 641.50 L220.97 641.00 L220.86 640.50 L220.74 640.00 L220.63 639.50 L220.52 639.00 L220.41 638.50 L220.31 638.00 L220.22 637.50 L220.14 637.00 L220.08 636.50 L220.03 636.00 L220.00 635.50 L220.00 635.00 L220.04 634.50 L220.13 634.00 L220.28 633.50 L220.47 633.00 L220.71 632.50 L220.98 632.00 L221.28 631.50 L221.62 631.00 L221.98 630.50 L222.35 630.00 L222.74 629.50 L223.15 629.00 L223.56 628.50 L223.97 628.00 L224.37 627.50 L224.77 627.00 L225.23 626.50 L225.78 626.00 L226.42 625.50 L227.11 625.00 L227.83 624.50 L228.56 624.00 L229.29 623.50 L229.97 623.00 L230.60 622.50 L231.15 622.00 L231.60 621.50 L231.92 621.00 L232.11 620.50 L232.26 620.00 L232.40 619.50 L232.53 619.00 L232.65 618.50 L232.75 618.00 L232.83 617.50 L232.89 617.00 L232.93 616.50 L232.94 616.00 L232.92 615.50 L232.85 615.00 L232.75 614.50 L232.63 614.00 L232.49 613.50 L232.34 613.00 L232.19 612.50 L232.04 612.00 L231.88 611.50 L231.68 611.00 L231.46 610.50 L231.22 610.00 L230.98 609.50 L230.75 609.00 L230.55 608.50 L230.39 608.00 L230.29 607.50 L230.25 607.00 L230.27 606.50 L230.33 606.00 L230.42 605.50 L230.55 605.00 L230.70 604.50 L230.88 604.00 L231.09 603.50 L231.32 603.00 L231.56 602.50 L231.82 602.00 L232.11 601.50 L232.58 601.00 L233.28 600.50 L234.14 600.00 L235.11 599.50 L236.11 599.00 L237.09 598.50 L237.97 598.00 L238.70 597.50 L239.21 597.00 L239.59 596.50 L239.96 596.00 L240.31 595.50 L240.65 595.00 L240.96 594.50 L241.24 594.00 L241.50 593.50 L241.71 593.00 L241.88 592.50 L242.01 592.00 L242.08 591.50 L242.10 591.00 L242.03 590.50 L241.87 590.00 L241.64 589.50 L241.35 589.00 L241.02 588.50 L240.65 588.00 L240.26 587.50 L239.86 587.00 L239.48 586.50 L239.12 586.00 L238.79 585.50 L238.50 585.00 L238.20 584.50 L237.87 584.00 L237.54 583.50 L237.20 583.00 L236.88 582.50 L236.58 582.00 L236.33 581.50 L236.13 581.00 L235.99 580.50 L235.93 580.00 L235.96 579.50 L236.11 579.00 L236.35 578.50 L236.67 578.00 L237.05 577.50 L237.48 577.00 L237.94 576.50 L238.41 576.00 L238.88 575.50 L239.34 575.00 L239.77 574.50 L240.14 574.00 L240.45 573.50 L240.72 573.00 L241.00 572.50 L241.28 572.00 L241.55 571.50 L241.82 571.00 L242.06 570.50 L242.28 570.00 L242.46 569.50 L242.59 569.00 L242.68 568.50 L242.70 568.00 L242.63 567.50 L242.48 567.00 L242.26 566.50 L241.97 566.00 L241.63 565.50 L241.24 565.00 L240.81 564.50 L240.36 564.00 L239.88 563.50 L239.39 563.00 L238.90 562.50 L238.42 562.00 L237.85 561.50 L237.20 561.00 L236.48 560.50 L235.70 560.00 L234.88 559.50 L234.02 559.00 L233.15 558.50 L232.28 558.00 L231.41 557.50 L230.57 557.00 L229.76 556.50 L229.00 556.00 L228.22 555.50 L227.44 555.00 L226.65 554.50 L225.87 554.00 L225.08 553.50 L224.31 553.00 L223.54 552.50 L222.79 552.00 L222.05 551.50 L221.34 551.00 L220.64 550.50 L219.98 550.00 L219.35 549.50 L218.74 549.00 L218.17 548.50 L217.61 548.00 L217.07 547.50 L216.54 547.00 L216.02 546.50 L215.51 546.00 L215.00 545.50 L214.48 545.00 L213.96 544.50 L213.43 544.00 L212.88 543.50 L212.31 543.00 L211.73 542.50 L211.14 542.00 L210.54 541.50 L209.93 541.00 L209.32 540.50 L208.71 540.00 L208.09 539.50 L207.47 539.00 L206.85 538.50 L206.24 538.00 L205.64 537.50 L205.04 537.00 L204.44 536.50 L203.85 536.00 L203.26 535.50 L202.68 535.00 L202.09 534.50 L201.51 534.00 L200.94 533.50 L200.38 533.00 L199.82 532.50 L199.28 532.00 L198.75 531.50 L198.22 531.00 L197.70 530.50 L197.17 530.00 L196.66 529.50 L196.15 529.00 L195.64 528.50 L195.15 528.00 L194.67 527.50 L194.20 527.00 L193.75 526.50 L193.31 526.00 L192.89 525.50 L192.49 525.00 L192.10 524.50 L191.71 524.00 L191.34 523.50 L190.97 523.00 L190.61 522.50 L190.27 522.00 L189.93 521.50 L189.59 521.00 L189.27 520.50 L188.96 520.00 L188.65 519.50 L188.35 519.00 L188.06 518.50 L187.78 518.00 L187.51 517.50 L187.25 517.00 L186.99 516.50 L186.74 516.00 L186.50 515.50 L186.26 515.00 L186.02 514.50 L185.78 514.00 L185.54 513.50 L185.29 513.00 L185.05 512.50 L184.80 512.00 L184.55 511.50 L184.30 511.00 L184.06 510.50 L183.82 510.00 L183.58 509.50 L183.33 509.00 L183.09 508.50 L182.84 508.00 L182.60 507.50 L182.34 507.00 L182.08 506.50 L181.82 506.00 L181.55 505.50 L181.28 505.00 L181.00 504.50 L180.71 504.00 L180.42 503.50 L180.13 503.00 L179.83 502.50 L179.53 502.00 L179.23 501.50 L178.93 501.00 L178.62 500.50 L178.32 500.00 L178.02 499.50 L177.72 499.00 L177.41 498.50 L177.11 498.00 L176.80 497.50 L176.49 497.00 L176.18 496.50 L175.87 496.00 L175.56 495.50 L175.25 495.00 L174.94 494.50 L174.63 494.00 L174.33 493.50 L174.03 493.00 L173.74 492.50 L173.44 492.00 L173.15 491.50 L172.86 491.00 L172.56 490.50 L172.27 490.00 L171.98 489.50 L171.70 489.00 L171.42 488.50 L171.14 488.00 L170.87 487.50 L170.61 487.00 L170.36 486.50 L170.11 486.00 L169.87 485.50 L169.64 485.00 L169.41 484.50 L169.18 484.00 L168.96 483.50 L168.74 483.00 L168.53 482.50 L168.32 482.00 L168.11 481.50 L167.92 481.00 L167.72 480.50 L167.54 480.00 L167.36 479.50 L167.18 479.00 L167.01 478.50 L166.85 478.00 L166.69 477.50 L166.53 477.00 L166.38 476.50 L166.23 476.00 L166.08 475.50 L165.94 475.00 L165.80 474.50 L165.66 474.00 L165.52 473.50 L165.39 473.00 L165.25 472.50 L165.12 472.00 L164.99 471.50 L164.86 471.00 L164.73 470.50 L164.60 470.00 L164.48 469.50 L164.36 469.00 L164.24 468.50 L164.12 468.00 L164.01 467.50 L163.89 467.00 L163.78 466.50 L163.67 466.00 L163.56 465.50 L163.45 465.00 L163.34 464.50 L163.23 464.00 L163.12 463.50 L163.02 463.00 L162.92 462.50 L162.82 462.00 L162.73 461.50 L162.64 461.00 L162.56 460.50 L162.48 460.00 L162.42 459.50 L162.36 459.00 L162.30 458.50 L162.24 458.00 L162.19 457.50 L162.14 457.00 L162.09 456.50 L162.04 456.00 L161.99 455.50 L161.95 455.00 L161.91 454.50 L161.87 454.00 L161.83 453.50 L161.79 453.00 L161.75 452.50 L161.71 452.00 L161.67 451.50 L161.62 451.00 L161.58 450.50 L161.54 450.00 L161.50 449.50 L161.46 449.00 L161.42 448.50 L161.39 448.00 L161.35 447.50 L161.32 447.00 L161.30 446.50 L161.28 446.00 L161.26 445.50 L161.25 445.00 L161.24 444.50 L161.23 444.00 L161.22 443.50 L161.22 443.00 L161.21 442.50 L161.20 442.00 L161.19 441.50 L161.19 441.00 L161.18 440.50 L161.17 440.00 L161.17 439.50 L161.16 439.00 L161.16 438.50 L161.15 438.00 L161.15 437.50 L161.14 437.00 L161.14 436.50 L161.13 436.00 L161.13 435.50 L161.12 435.00 L161.12 434.50 L161.11 434.00 L161.11 433.50 L161.11 433.00 L161.10 432.50 L161.10 432.00 L161.10 431.50 L161.10 431.00 L161.09 430.50 L161.09 430.00 L161.09 429.50 L161.09 429.00 L161.09 428.50 L161.08 428.00 L161.08 427.50 L161.08 427.00 L161.08 426.50 L161.08 426.00 L161.08 425.50 L161.08 425.00Z" fill="#374E55" fill-opacity="0.55"/>
<path d="M357.27 428.00 L357.27 428.50 L357.27 429.00 L357.27 429.50 L357.27 430.00 L357.27 430.50 L357.27 431.00 L357.27 431.50 L357.26 432.00 L357.26 432.50 L357.26 433.00 L357.26 433.50 L357.26 434.00 L357.25 434.50 L357.25 435.00 L357.25 435.50 L357.25 436.00 L357.24 436.50 L357.24 437.00 L357.24 437.50 L357.23 438.00 L357.23 438.50 L357.22 439.00 L357.22 439.50 L357.22 440.00 L357.21 440.50 L357.21 441.00 L357.20 441.50 L357.20 442.00 L357.19 442.50 L357.19 443.00 L357.18 443.50 L357.18 444.00 L357.17 444.50 L357.17 445.00 L357.16 445.50 L357.15 446.00 L357.15 446.50 L357.14 447.00 L357.13 447.50 L357.13 448.00 L357.12 448.50 L357.11 449.00 L357.11 449.50 L357.10 450.00 L357.09 450.50 L357.08 451.00 L357.07 451.50 L357.05 452.00 L357.04 452.50 L357.02 453.00 L357.00 453.50 L356.98 454.00 L356.95 454.50 L356.93 455.00 L356.90 455.50 L356.88 456.00 L356.85 456.50 L356.83 457.00 L356.80 457.50 L356.78 458.00 L356.75 458.50 L356.73 459.00 L356.71 459.50 L356.68 460.00 L356.66 460.50 L356.64 461.00 L356.62 461.50 L356.60 462.00 L356.58 462.50 L356.56 463.00 L356.54 463.50 L356.52 464.00 L356.50 464.50 L356.48 465.00 L356.45 465.50 L356.43 466.00 L356.40 466.50 L356.37 467.00 L356.34 467.50 L356.31 468.00 L356.27 468.50 L356.24 469.00 L356.19 469.50 L356.14 470.00 L356.07 470.50 L355.98 471.00 L355.88 471.50 L355.78 472.00 L355.66 472.50 L355.54 473.00 L355.42 473.50 L355.29 474.00 L355.16 474.50 L355.04 475.00 L354.92 475.50 L354.81 476.00 L354.70 476.50 L354.59 477.00 L354.48 477.50 L354.36 478.00 L354.25 478.50 L354.14 479.00 L354.03 479.50 L353.91 480.00 L353.80 480.50 L353.68 481.00 L353.57 481.50 L353.45 482.00 L353.33 482.50 L353.21 483.00 L353.10 483.50 L352.98 484.00 L352.85 484.50 L352.73 485.00 L352.61 485.50 L352.49 486.00 L352.36 486.50 L352.24 487.00 L352.11 487.50 L351.99 488.00 L351.86 488.50 L351.74 489.00 L351.61 489.50 L351.49 490.00 L351.36 490.50 L351.23 491.00 L351.10 491.50 L350.97 492.00 L350.84 492.50 L350.72 493.00 L350.59 493.50 L350.46 494.00 L350.33 494.50 L350.20 495.00 L350.07 495.50 L349.94 496.00 L349.81 496.50 L349.69 497.00 L349.56 497.50 L349.44 498.00 L349.31 498.50 L349.18 499.00 L349.06 499.50 L348.93 500.00 L348.80 500.50 L348.67 501.00 L348.54 501.50 L348.40 502.00 L348.27 502.50 L348.13 503.00 L347.99 503.50 L347.85 504.00 L347.70 504.50 L347.56 505.00 L347.41 505.50 L347.27 506.00 L347.12 506.50 L346.97 507.00 L346.82 507.50 L346.67 508.00 L346.52 508.50 L346.37 509.00 L346.21 509.50 L346.06 510.00 L345.90 510.50 L345.74 511.00 L345.59 511.50 L345.43 512.00 L345.27 512.50 L345.11 513.00 L344.95 513.50 L344.79 514.00 L344.62 514.50 L344.46 515.00 L344.30 515.50 L344.14 516.00 L343.98 516.50 L343.82 517.00 L343.65 517.50 L343.49 518.00 L343.33 518.50 L343.17 519.00 L343.00 519.50 L342.83 520.00 L342.66 520.50 L342.49 521.00 L342.32 521.50 L342.14 522.00 L341.96 522.50 L341.78 523.00 L341.59 523.50 L341.41 524.00 L341.22 524.50 L341.02 525.00 L340.81 525.50 L340.58 526.00 L340.34 526.50 L340.08 527.00 L339.79 527.50 L339.48 528.00 L339.16 528.50 L338.82 529.00 L338.48 529.50 L338.13 530.00 L337.78 530.50 L337.43 531.00 L337.08 531.50 L336.75 532.00 L336.43 532.50 L336.13 533.00 L335.83 533.50 L335.53 534.00 L335.23 534.50 L334.93 535.00 L334.63 535.50 L334.34 536.00 L334.05 536.50 L333.77 537.00 L333.50 537.50 L333.24 538.00 L332.99 538.50 L332.74 539.00 L332.51 539.50 L332.30 540.00 L332.09 540.50 L331.89 541.00 L331.69 541.50 L331.50 542.00 L331.32 542.50 L331.14 543.00 L330.96 543.50 L330.78 544.00 L330.61 544.50 L330.43 545.00 L330.25 545.50 L330.07 546.00 L329.89 546.50 L329.72 547.00 L329.57 547.50 L329.41 548.00 L329.26 548.50 L329.11 549.00 L328.96 549.50 L328.79 550.00 L328.62 550.50 L328.43 551.00 L328.22 551.50 L327.98 552.00 L327.73 552.50 L327.42 553.00 L327.02 553.50 L326.55 554.00 L326.02 554.50 L325.46 555.00 L324.89 555.50 L324.32 556.00 L323.78 556.50 L323.24 557.00 L322.68 557.50 L322.09 558.00 L321.50 558.50 L320.90 559.00 L320.31 559.50 L319.74 560.00 L319.18 560.50 L318.66 561.00 L318.17 561.50 L317.72 562.00 L317.27 562.50 L316.83 563.00 L316.40 563.50 L316.00 564.00 L315.64 564.50 L315.33 565.00 L315.08 565.50 L314.89 566.00 L314.72 566.50 L314.56 567.00 L314.41 567.50 L314.30 568.00 L314.23 568.50 L314.20 569.00 L314.23 569.50 L314.29 570.00 L314.38 570.50 L314.50 571.00 L314.64 571.50 L314.79 572.00 L314.95 572.50 L315.12 573.00 L315.27 573.50 L315.43 574.00 L315.61 574.50 L315.80 575.00 L316.01 575.50 L316.22 576.00 L316.42 576.50 L316.62 577.00 L316.80 577.50 L316.99 578.00 L317.19 578.50 L317.38 579.00 L317.52 579.50 L317.59 580.00 L317.59 580.50 L317.57 581.00 L317.53 581.50 L317.47 582.00 L317.41 582.50 L317.32 583.00 L317.23 583.50 L317.13 584.00 L317.01 584.50 L316.89 585.00 L316.76 585.50 L316.62 586.00 L316.48 586.50 L316.33 587.00 L316.18 587.50 L316.02 588.00 L315.87 588.50 L315.71 589.00 L315.55 589.50 L315.40 590.00 L315.24 590.50 L315.06 591.00 L314.87 591.50 L314.67 592.00 L314.45 592.50 L314.22 593.00 L313.98 593.50 L313.73 594.00 L313.47 594.50 L313.21 595.00 L312.93 595.50 L312.65 596.00 L312.36 596.50 L312.07 597.00 L311.77 597.50 L311.47 598.00 L311.17 598.50 L310.86 599.00 L310.56 599.50 L310.25 600.00 L309.95 600.50 L309.65 601.00 L309.35 601.50 L309.06 602.00 L308.77 602.50 L308.48 603.00 L308.21 603.50 L307.94 604.00 L307.67 604.50 L307.42 605.00 L307.17 605.50 L306.93 606.00 L306.68 606.50 L306.43 607.00 L306.19 607.50 L305.95 608.00 L305.70 608.50 L305.46 609.00 L305.22 609.50 L304.98 610.00 L304.75 610.50 L304.51 611.00 L304.27 611.50 L304.04 612.00 L303.80 612.50 L303.57 613.00 L303.34 613.50 L303.11 614.00 L302.88 614.50 L302.65 615.00 L302.42 615.50 L302.20 616.00 L301.97 616.50 L301.75 617.00 L301.53 617.50 L301.31 618.00 L301.09 618.50 L300.87 619.00 L300.65 619.50 L300.44 620.00 L300.22 620.50 L300.02 621.00 L299.81 621.50 L299.61 622.00 L299.42 622.50 L299.23 623.00 L299.04 623.50 L298.85 624.00 L298.66 624.50 L298.48 625.00 L298.30 625.50 L298.11 626.00 L297.93 626.50 L297.75 627.00 L297.57 627.50 L297.38 628.00 L297.20 628.50 L297.01 629.00 L296.82 629.50 L296.62 630.00 L296.43 630.50 L296.23 631.00 L296.03 631.50 L295.82 632.00 L295.60 632.50 L295.39 633.00 L295.16 633.50 L294.93 634.00 L294.69 634.50 L294.45 635.00 L294.20 635.50 L293.96 636.00 L293.71 636.50 L293.47 637.00 L293.22 637.50 L292.97 638.00 L292.71 638.50 L292.46 639.00 L292.19 639.50 L291.92 640.00 L291.64 640.50 L291.36 641.00 L291.06 641.50 L290.76 642.00 L290.44 642.50 L290.11 643.00 L289.77 643.50 L289.41 644.00 L289.05 644.50 L288.66 645.00 L288.26 645.50 L287.84 646.00 L287.40 646.50 L286.95 647.00 L286.47 647.50 L285.89 648.00 L285.16 648.50 L284.32 649.00 L283.41 649.50 L282.47 650.00 L281.55 650.50 L280.68 651.00 L279.91 651.50 L279.29 652.00 L278.79 652.50 L278.32 653.00 L277.88 653.50 L277.47 654.00 L277.10 654.50 L276.78 655.00 L276.51 655.50 L276.29 656.00 L276.12 656.50 L275.94 657.00 L275.79 657.50 L275.66 658.00 L275.56 658.50 L275.51 659.00 L275.51 659.50 L275.62 660.00 L275.83 660.50 L276.12 661.00 L276.47 661.50 L276.84 662.00 L277.22 662.50 L277.61 663.00 L278.08 663.50 L278.61 664.00 L279.19 664.50 L279.82 665.00 L280.49 665.50 L281.19 666.00 L281.90 666.50 L282.62 667.00 L283.35 667.50 L284.06 668.00 L284.80 668.50 L285.57 669.00 L286.36 669.50 L287.18 670.00 L288.01 670.50 L288.86 671.00 L289.73 671.50 L290.61 672.00 L291.50 672.50 L292.40 673.00 L293.31 673.50 L294.22 674.00 L295.13 674.50 L296.06 675.00 L296.99 675.50 L297.95 676.00 L298.91 676.50 L299.89 677.00 L300.88 677.50 L301.87 678.00 L302.88 678.50 L303.90 679.00 L304.92 679.50 L305.95 680.00 L306.98 680.50 L308.02 681.00 L309.06 681.50 L310.12 682.00 L311.19 682.50 L312.27 683.00 L313.35 683.50 L314.45 684.00 L315.55 684.50 L316.66 685.00 L317.77 685.50 L318.89 686.00 L320.01 686.50 L321.13 687.00 L322.26 687.50 L323.39 688.00 L324.55 688.50 L325.72 689.00 L326.90 689.50 L328.10 690.00 L329.29 690.50 L330.48 691.00 L331.67 691.50 L332.84 692.00 L334.00 692.50 L335.14 693.00 L336.25 693.50 L337.34 694.00 L338.39 694.50 L339.44 695.00 L340.48 695.50 L341.49 696.00 L342.48 696.50 L343.44 697.00 L344.37 697.50 L345.26 698.00 L346.11 698.50 L346.96 699.00 L347.80 699.50 L348.61 700.00 L349.37 700.50 L350.09 701.00 L350.74 701.50 L351.31 702.00 L351.83 702.50 L352.32 703.00 L352.78 703.50 L353.21 704.00 L353.61 704.50 L353.97 705.00 L354.31 705.50 L354.61 706.00 L354.89 706.50 L355.16 707.00 L355.42 707.50 L355.66 708.00 L355.87 708.50 L356.06 709.00 L356.21 709.50 L356.32 710.00 L356.42 710.50 L356.51 711.00 L356.60 711.50 L356.67 712.00 L356.75 712.50 L356.81 713.00 L356.87 713.50 L356.93 714.00 L356.97 714.50 L357.01 715.00 L357.03 715.50 L357.05 716.00 L357.06 716.50 L357.08 717.00 L357.09 717.50 L357.10 718.00 L357.11 718.50 L357.12 719.00 L357.13 719.50 L357.14 720.00 L357.15 720.50 L357.16 721.00 L357.17 721.50 L357.18 722.00 L357.19 722.50 L357.20 723.00 L357.20 723.50 L357.21 724.00 L357.22 724.50 L357.22 725.00 L357.23 725.50 L357.23 726.00 L357.24 726.50 L357.24 727.00 L357.25 727.50 L357.25 728.00 L357.26 728.50 L357.26 729.00 L357.26 729.50 L357.26 730.00 L357.27 730.50 L357.27 731.00 L357.27 731.50 L357.27 732.00 L357.27 732.50 L357.27 733.00 L357.33 733.00 L357.33 732.50 L357.33 732.00 L357.33 731.50 L357.33 731.00 L357.33 730.50 L357.34 730.00 L357.34 729.50 L357.34 729.00 L357.34 728.50 L357.35 728.00 L357.35 727.50 L357.36 727.00 L357.36 726.50 L357.37 726.00 L357.37 725.50 L357.38 725.00 L357.38 724.50 L357.39 724.00 L357.40 723.50 L357.40 723.00 L357.41 722.50 L357.42 722.00 L357.43 721.50 L357.44 721.00 L357.45 720.50 L357.46 720.00 L357.47 719.50 L357.48 719.00 L357.49 718.50 L357.50 718.00 L357.51 717.50 L357.52 717.00 L357.54 716.50 L357.55 716.00 L357.57 715.50 L357.59 715.00 L357.63 714.50 L357.67 714.00 L357.73 713.50 L357.79 713.00 L357.85 712.50 L357.93 712.00 L358.00 711.50 L358.09 711.00 L358.18 710.50 L358.28 710.00 L358.39 709.50 L358.54 709.00 L358.73 708.50 L358.94 708.00 L359.18 707.50 L359.44 707.00 L359.71 706.50 L359.99 706.00 L360.29 705.50 L360.63 705.00 L360.99 704.50 L361.39 704.00 L361.82 703.50 L362.28 703.00 L362.77 702.50 L363.29 702.00 L363.86 701.50 L364.51 701.00 L365.23 700.50 L365.99 700.00 L366.80 699.50 L367.64 699.00 L368.49 698.50 L369.34 698.00 L370.23 697.50 L371.16 697.00 L372.12 696.50 L373.11 696.00 L374.12 695.50 L375.16 695.00 L376.21 694.50 L377.26 694.00 L378.35 693.50 L379.46 693.00 L380.60 692.50 L381.76 692.00 L382.93 691.50 L384.12 691.00 L385.31 690.50 L386.50 690.00 L387.70 689.50 L388.88 689.00 L390.05 688.50 L391.21 688.00 L392.34 687.50 L393.47 687.00 L394.59 686.50 L395.71 686.00 L396.83 685.50 L397.94 685.00 L399.05 684.50 L400.15 684.00 L401.25 683.50 L402.33 683.00 L403.41 682.50 L404.48 682.00 L405.54 681.50 L406.58 681.00 L407.62 680.50 L408.65 680.00 L409.68 679.50 L410.70 679.00 L411.72 678.50 L412.73 678.00 L413.72 677.50 L414.71 677.00 L415.69 676.50 L416.65 676.00 L417.61 675.50 L418.54 675.00 L419.47 674.50 L420.38 674.00 L421.29 673.50 L422.20 673.00 L423.10 672.50 L423.99 672.00 L424.87 671.50 L425.74 671.00 L426.59 670.50 L427.42 670.00 L428.24 669.50 L429.03 669.00 L429.80 668.50 L430.54 668.00 L431.25 667.50 L431.98 667.00 L432.70 666.50 L433.41 666.00 L434.11 665.50 L434.78 665.00 L435.41 664.50 L435.99 664.00 L436.52 663.50 L436.99 663.00 L437.38 662.50 L437.76 662.00 L438.13 661.50 L438.48 661.00 L438.77 660.50 L438.98 660.00 L439.09 659.50 L439.09 659.00 L439.04 658.50 L438.94 658.00 L438.81 657.50 L438.66 657.00 L438.48 656.50 L438.31 656.00 L438.09 655.50 L437.82 655.00 L437.50 654.50 L437.13 654.00 L436.72 653.50 L436.28 653.00 L435.81 652.50 L435.31 652.00 L434.69 651.50 L433.92 651.00 L433.05 650.50 L432.13 650.00 L431.19 649.50 L430.28 649.00 L429.44 648.50 L428.71 648.00 L428.13 647.50 L427.65 647.00 L427.20 646.50 L426.76 646.00 L426.34 645.50 L425.94 645.00 L425.55 644.50 L425.19 644.00 L424.83 643.50 L424.49 643.00 L424.16 642.50 L423.84 642.00 L423.54 641.50 L423.24 641.00 L422.96 640.50 L422.68 640.00 L422.41 639.50 L422.14 639.00 L421.89 638.50 L421.63 638.00 L421.38 637.50 L421.13 637.00 L420.89 636.50 L420.64 636.00 L420.40 635.50 L420.15 635.00 L419.91 634.50 L419.67 634.00 L419.44 633.50 L419.21 633.00 L419.00 632.50 L418.78 632.00 L418.57 631.50 L418.37 631.00 L418.17 630.50 L417.98 630.00 L417.78 629.50 L417.59 629.00 L417.40 628.50 L417.22 628.00 L417.03 627.50 L416.85 627.00 L416.67 626.50 L416.49 626.00 L416.30 625.50 L416.12 625.00 L415.94 624.50 L415.75 624.00 L415.56 623.50 L415.37 623.00 L415.18 622.50 L414.99 622.00 L414.79 621.50 L414.58 621.00 L414.38 620.50 L414.16 620.00 L413.95 619.50 L413.73 619.00 L413.51 618.50 L413.29 618.00 L413.07 617.50 L412.85 617.00 L412.63 616.50 L412.40 616.00 L412.18 615.50 L411.95 615.00 L411.72 614.50 L411.49 614.00 L411.26 613.50 L411.03 613.00 L410.80 612.50 L410.56 612.00 L410.33 611.50 L410.09 611.00 L409.85 610.50 L409.62 610.00 L409.38 609.50 L409.14 609.00 L408.90 608.50 L408.65 608.00 L408.41 607.50 L408.17 607.00 L407.92 606.50 L407.67 606.00 L407.43 605.50 L407.18 605.00 L406.93 604.50 L406.66 604.00 L406.39 603.50 L406.12 603.00 L405.83 602.50 L405.54 602.00 L405.25 601.50 L404.95 601.00 L404.65 600.50 L404.35 600.00 L404.04 599.50 L403.74 599.00 L403.43 598.50 L403.13 598.00 L402.83 597.50 L402.53 597.00 L402.24 596.50 L401.95 596.00 L401.67 595.50 L401.39 595.00 L401.13 594.50 L400.87 594.00 L400.62 593.50 L400.38 593.00 L400.15 592.50 L399.93 592.00 L399.73 591.50 L399.54 591.00 L399.36 590.50 L399.20 590.00 L399.05 589.50 L398.89 589.00 L398.73 588.50 L398.58 588.00 L398.42 587.50 L398.27 587.00 L398.12 586.50 L397.98 586.00 L397.84 585.50 L397.71 585.00 L397.59 584.50 L397.47 584.00 L397.37 583.50 L397.28 583.00 L397.19 582.50 L397.13 582.00 L397.07 581.50 L397.03 581.00 L397.01 580.50 L397.01 580.00 L397.08 579.50 L397.22 579.00 L397.41 578.50 L397.61 578.00 L397.80 577.50 L397.98 577.00 L398.18 576.50 L398.38 576.00 L398.59 575.50 L398.80 575.00 L398.99 574.50 L399.17 574.00 L399.33 573.50 L399.48 573.00 L399.65 572.50 L399.81 572.00 L399.96 571.50 L400.10 571.00 L400.22 570.50 L400.31 570.00 L400.37 569.50 L400.40 569.00 L400.37 568.50 L400.30 568.00 L400.19 567.50 L400.04 567.00 L399.88 566.50 L399.71 566.00 L399.52 565.50 L399.27 565.00 L398.96 564.50 L398.60 564.00 L398.20 563.50 L397.77 563.00 L397.33 562.50 L396.88 562.00 L396.43 561.50 L395.94 561.00 L395.42 560.50 L394.86 560.00 L394.29 559.50 L393.70 559.00 L393.10 558.50 L392.51 558.00 L391.92 557.50 L391.36 557.00 L390.82 556.50 L390.28 556.00 L389.71 555.50 L389.14 555.00 L388.58 554.50 L388.05 554.00 L387.58 553.50 L387.18 553.00 L386.87 552.50 L386.62 552.00 L386.38 551.50 L386.17 551.00 L385.98 550.50 L385.81 550.00 L385.64 549.50 L385.49 549.00 L385.34 548.50 L385.19 548.00 L385.03 547.50 L384.88 547.00 L384.71 546.50 L384.53 546.00 L384.35 545.50 L384.17 545.00 L383.99 544.50 L383.82 544.00 L383.64 543.50 L383.46 543.00 L383.28 542.50 L383.10 542.00 L382.91 541.50 L382.71 541.00 L382.51 540.50 L382.30 540.00 L382.09 539.50 L381.86 539.00 L381.61 538.50 L381.36 538.00 L381.10 537.50 L380.83 537.00 L380.55 536.50 L380.26 536.00 L379.97 535.50 L379.67 535.00 L379.37 534.50 L379.07 534.00 L378.77 533.50 L378.47 533.00 L378.17 532.50 L377.85 532.00 L377.52 531.50 L377.17 531.00 L376.82 530.50 L376.47 530.00 L376.12 529.50 L375.78 529.00 L375.44 528.50 L375.12 528.00 L374.81 527.50 L374.52 527.00 L374.26 526.50 L374.02 526.00 L373.79 525.50 L373.58 525.00 L373.38 524.50 L373.19 524.00 L373.01 523.50 L372.82 523.00 L372.64 522.50 L372.46 522.00 L372.28 521.50 L372.11 521.00 L371.94 520.50 L371.77 520.00 L371.60 519.50 L371.43 519.00 L371.27 518.50 L371.11 518.00 L370.95 517.50 L370.78 517.00 L370.62 516.50 L370.46 516.00 L370.30 515.50 L370.14 515.00 L369.98 514.50 L369.81 514.00 L369.65 513.50 L369.49 513.00 L369.33 512.50 L369.17 512.00 L369.01 511.50 L368.86 511.00 L368.70 510.50 L368.54 510.00 L368.39 509.50 L368.23 509.00 L368.08 508.50 L367.93 508.00 L367.78 507.50 L367.63 507.00 L367.48 506.50 L367.33 506.00 L367.19 505.50 L367.04 505.00 L366.90 504.50 L366.75 504.00 L366.61 503.50 L366.47 503.00 L366.33 502.50 L366.20 502.00 L366.06 501.50 L365.93 501.00 L365.80 500.50 L365.67 500.00 L365.54 499.50 L365.42 499.00 L365.29 498.50 L365.16 498.00 L365.04 497.50 L364.91 497.00 L364.79 496.50 L364.66 496.00 L364.53 495.50 L364.40 495.00 L364.27 494.50 L364.14 494.00 L364.01 493.50 L363.88 493.00 L363.76 492.50 L363.63 492.00 L363.50 491.50 L363.37 491.00 L363.24 490.50 L363.11 490.00 L362.99 489.50 L362.86 489.00 L362.74 488.50 L362.61 488.00 L362.49 487.50 L362.36 487.00 L362.24 486.50 L362.11 486.00 L361.99 485.50 L361.87 485.00 L361.75 484.50 L361.62 484.00 L361.50 483.50 L361.39 483.00 L361.27 482.50 L361.15 482.00 L361.03 481.50 L360.92 481.00 L360.80 480.50 L360.69 480.00 L360.57 479.50 L360.46 479.00 L360.35 478.50 L360.24 478.00 L360.12 477.50 L360.01 477.00 L359.90 476.50 L359.79 476.00 L359.68 475.50 L359.56 475.00 L359.44 474.50 L359.31 474.00 L359.18 473.50 L359.06 473.00 L358.94 472.50 L358.82 472.00 L358.72 471.50 L358.62 471.00 L358.53 470.50 L358.46 470.00 L358.41 469.50 L358.36 469.00 L358.33 468.50 L358.29 468.00 L358.26 467.50 L358.23 467.00 L358.20 466.50 L358.17 466.00 L358.15 465.50 L358.12 465.00 L358.10 464.50 L358.08 464.00 L358.06 463.50 L358.04 463.00 L358.02 462.50 L358.00 462.00 L357.98 461.50 L357.96 461.00 L357.94 460.50 L357.92 460.00 L357.89 459.50 L357.87 459.00 L357.85 458.50 L357.82 458.00 L357.80 457.50 L357.77 457.00 L357.75 456.50 L357.72 456.00 L357.70 455.50 L357.67 455.00 L357.65 454.50 L357.62 454.00 L357.60 453.50 L357.58 453.00 L357.56 452.50 L357.55 452.00 L357.53 451.50 L357.52 451.00 L357.51 450.50 L357.50 450.00 L357.49 449.50 L357.49 449.00 L357.48 448.50 L357.47 448.00 L357.47 447.50 L357.46 447.00 L357.45 446.50 L357.45 446.00 L357.44 445.50 L357.43 445.00 L357.43 444.50 L357.42 444.00 L357.42 443.50 L357.41 443.00 L357.41 442.50 L357.40 442.00 L357.40 441.50 L357.39 441.00 L357.39 440.50 L357.38 440.00 L357.38 439.50 L357.38 439.00 L357.37 438.50 L357.37 438.00 L357.36 437.50 L357.36 437.00 L357.36 436.50 L357.35 436.00 L357.35 435.50 L357.35 435.00 L357.35 434.50 L357.34 434.00 L357.34 433.50 L357.34 433.00 L357.34 432.50 L357.34 432.00 L357.33 431.50 L357.33 431.00 L357.33 430.50 L357.33 430.00 L357.33 429.50 L357.33 429.00 L357.33 428.50 L357.33 428.00Z" fill="#DF8F44" fill-opacity="0.55"/>
<path d="M553.48 424.00 L553.48 424.50 L553.47 425.00 L553.47 425.50 L553.47 426.00 L553.46 426.50 L553.46 427.00 L553.45 427.50 L553.45 428.00 L553.44 428.50 L553.43 429.00 L553.43 429.50 L553.42 430.00 L553.42 430.50 L553.41 431.00 L553.40 431.50 L553.40 432.00 L553.39 432.50 L553.38 433.00 L553.37 433.50 L553.37 434.00 L553.36 434.50 L553.35 435.00 L553.34 435.50 L553.33 436.00 L553.32 436.50 L553.32 437.00 L553.31 437.50 L553.30 438.00 L553.28 438.50 L553.27 439.00 L553.26 439.50 L553.25 440.00 L553.24 440.50 L553.23 441.00 L553.21 441.50 L553.20 442.00 L553.19 442.50 L553.17 443.00 L553.16 443.50 L553.14 444.00 L553.13 444.50 L553.11 445.00 L553.09 445.50 L553.08 446.00 L553.06 446.50 L553.04 447.00 L553.02 447.50 L553.00 448.00 L552.98 448.50 L552.96 449.00 L552.94 449.50 L552.92 450.00 L552.89 450.50 L552.87 451.00 L552.84 451.50 L552.82 452.00 L552.79 452.50 L552.76 453.00 L552.72 453.50 L552.69 454.00 L552.65 454.50 L552.61 455.00 L552.57 455.50 L552.52 456.00 L552.48 456.50 L552.43 457.00 L552.37 457.50 L552.32 458.00 L552.26 458.50 L552.19 459.00 L552.13 459.50 L552.06 460.00 L551.98 460.50 L551.89 461.00 L551.79 461.50 L551.68 462.00 L551.56 462.50 L551.45 463.00 L551.32 463.50 L551.19 464.00 L551.07 464.50 L550.94 465.00 L550.81 465.50 L550.68 466.00 L550.55 466.50 L550.43 467.00 L550.30 467.50 L550.18 468.00 L550.05 468.50 L549.92 469.00 L549.78 469.50 L549.65 470.00 L549.51 470.50 L549.36 471.00 L549.22 471.50 L549.06 472.00 L548.90 472.50 L548.74 473.00 L548.56 473.50 L548.38 474.00 L548.19 474.50 L547.99 475.00 L547.79 475.50 L547.58 476.00 L547.36 476.50 L547.15 477.00 L546.93 477.50 L546.71 478.00 L546.49 478.50 L546.28 479.00 L546.07 479.50 L545.85 480.00 L545.64 480.50 L545.43 481.00 L545.22 481.50 L545.00 482.00 L544.78 482.50 L544.57 483.00 L544.35 483.50 L544.12 484.00 L543.90 484.50 L543.67 485.00 L543.44 485.50 L543.21 486.00 L542.98 486.50 L542.73 487.00 L542.49 487.50 L542.24 488.00 L541.98 488.50 L541.73 489.00 L541.47 489.50 L541.22 490.00 L540.96 490.50 L540.71 491.00 L540.46 491.50 L540.21 492.00 L539.96 492.50 L539.72 493.00 L539.49 493.50 L539.25 494.00 L539.01 494.50 L538.77 495.00 L538.54 495.50 L538.30 496.00 L538.07 496.50 L537.84 497.00 L537.62 497.50 L537.40 498.00 L537.18 498.50 L536.96 499.00 L536.75 499.50 L536.55 500.00 L536.34 500.50 L536.15 501.00 L535.95 501.50 L535.76 502.00 L535.56 502.50 L535.37 503.00 L535.18 503.50 L534.99 504.00 L534.80 504.50 L534.60 505.00 L534.40 505.50 L534.20 506.00 L534.01 506.50 L533.81 507.00 L533.62 507.50 L533.43 508.00 L533.24 508.50 L533.04 509.00 L532.85 509.50 L532.65 510.00 L532.44 510.50 L532.22 511.00 L532.00 511.50 L531.77 512.00 L531.53 512.50 L531.28 513.00 L531.01 513.50 L530.74 514.00 L530.46 514.50 L530.16 515.00 L529.86 515.50 L529.56 516.00 L529.24 516.50 L528.92 517.00 L528.60 517.50 L528.27 518.00 L527.93 518.50 L527.59 519.00 L527.25 519.50 L526.90 520.00 L526.53 520.50 L526.16 521.00 L525.79 521.50 L525.40 522.00 L525.01 522.50 L524.61 523.00 L524.20 523.50 L523.78 524.00 L523.35 524.50 L522.91 525.00 L522.47 525.50 L522.01 526.00 L521.53 526.50 L521.04 527.00 L520.54 527.50 L520.03 528.00 L519.51 528.50 L518.98 529.00 L518.45 529.50 L517.91 530.00 L517.36 530.50 L516.82 531.00 L516.27 531.50 L515.73 532.00 L515.18 532.50 L514.62 533.00 L514.06 533.50 L513.49 534.00 L512.92 534.50 L512.34 535.00 L511.76 535.50 L511.17 536.00 L510.58 536.50 L509.98 537.00 L509.38 537.50 L508.78 538.00 L508.17 538.50 L507.55 539.00 L506.94 539.50 L506.31 540.00 L505.69 540.50 L505.06 541.00 L504.42 541.50 L503.77 542.00 L503.12 542.50 L502.46 543.00 L501.80 543.50 L501.12 544.00 L500.44 544.50 L499.74 545.00 L499.03 545.50 L498.29 546.00 L497.53 546.50 L496.77 547.00 L495.99 547.50 L495.22 548.00 L494.44 548.50 L493.67 549.00 L492.90 549.50 L492.15 550.00 L491.41 550.50 L490.69 551.00 L490.00 551.50 L489.32 552.00 L488.64 552.50 L487.97 553.00 L487.31 553.50 L486.66 554.00 L486.01 554.50 L485.37 555.00 L484.74 555.50 L484.12 556.00 L483.50 556.50 L482.88 557.00 L482.28 557.50 L481.68 558.00 L481.09 558.50 L480.49 559.00 L479.87 559.50 L479.25 560.00 L478.63 560.50 L478.02 561.00 L477.42 561.50 L476.84 562.00 L476.30 562.50 L475.78 563.00 L475.31 563.50 L474.89 564.00 L474.53 564.50 L474.18 565.00 L473.84 565.50 L473.51 566.00 L473.20 566.50 L472.90 567.00 L472.63 567.50 L472.40 568.00 L472.20 568.50 L472.04 569.00 L471.93 569.50 L471.86 570.00 L471.80 570.50 L471.75 571.00 L471.70 571.50 L471.66 572.00 L471.63 572.50 L471.61 573.00 L471.60 573.50 L471.61 574.00 L471.65 574.50 L471.72 575.00 L471.81 575.50 L471.91 576.00 L472.03 576.50 L472.16 577.00 L472.29 577.50 L472.43 578.00 L472.55 578.50 L472.67 579.00 L472.78 579.50 L472.87 580.00 L472.94 580.50 L473.00 581.00 L473.05 581.50 L473.10 582.00 L473.14 582.50 L473.19 583.00 L473.23 583.50 L473.27 584.00 L473.32 584.50 L473.36 585.00 L473.42 585.50 L473.48 586.00 L473.55 586.50 L473.63 587.00 L473.72 587.50 L473.83 588.00 L473.96 588.50 L474.10 589.00 L474.25 589.50 L474.41 590.00 L474.59 590.50 L474.78 591.00 L474.98 591.50 L475.19 592.00 L475.44 592.50 L475.72 593.00 L476.04 593.50 L476.40 594.00 L476.77 594.50 L477.17 595.00 L477.58 595.50 L477.99 596.00 L478.41 596.50 L478.83 597.00 L479.28 597.50 L479.75 598.00 L480.24 598.50 L480.74 599.00 L481.23 599.50 L481.72 600.00 L482.19 600.50 L482.65 601.00 L483.12 601.50 L483.60 602.00 L484.08 602.50 L484.56 603.00 L485.04 603.50 L485.52 604.00 L486.00 604.50 L486.48 605.00 L486.95 605.50 L487.40 606.00 L487.85 606.50 L488.29 607.00 L488.72 607.50 L489.12 608.00 L489.52 608.50 L489.89 609.00 L490.24 609.50 L490.58 610.00 L490.89 610.50 L491.19 611.00 L491.48 611.50 L491.77 612.00 L492.04 612.50 L492.30 613.00 L492.56 613.50 L492.81 614.00 L493.05 614.50 L493.29 615.00 L493.53 615.50 L493.76 616.00 L493.99 616.50 L494.21 617.00 L494.44 617.50 L494.66 618.00 L494.89 618.50 L495.11 619.00 L495.34 619.50 L495.57 620.00 L495.80 620.50 L496.02 621.00 L496.24 621.50 L496.46 622.00 L496.68 622.50 L496.89 623.00 L497.10 623.50 L497.31 624.00 L497.52 624.50 L497.73 625.00 L497.95 625.50 L498.16 626.00 L498.38 626.50 L498.60 627.00 L498.82 627.50 L499.06 628.00 L499.32 628.50 L499.61 629.00 L499.90 629.50 L500.20 630.00 L500.48 630.50 L500.75 631.00 L500.99 631.50 L501.19 632.00 L501.35 632.50 L501.45 633.00 L501.50 633.50 L501.55 634.00 L501.59 634.50 L501.62 635.00 L501.65 635.50 L501.68 636.00 L501.70 636.50 L501.72 637.00 L501.75 637.50 L501.77 638.00 L501.79 638.50 L501.82 639.00 L501.85 639.50 L501.88 640.00 L501.91 640.50 L501.94 641.00 L501.97 641.50 L502.00 642.00 L502.03 642.50 L502.06 643.00 L502.09 643.50 L502.13 644.00 L502.17 644.50 L502.22 645.00 L502.27 645.50 L502.32 646.00 L502.39 646.50 L502.49 647.00 L502.63 647.50 L502.80 648.00 L503.00 648.50 L503.22 649.00 L503.46 649.50 L503.73 650.00 L504.00 650.50 L504.29 651.00 L504.59 651.50 L504.88 652.00 L505.18 652.50 L505.48 653.00 L505.79 653.50 L506.13 654.00 L506.49 654.50 L506.87 655.00 L507.26 655.50 L507.67 656.00 L508.09 656.50 L508.52 657.00 L508.96 657.50 L509.40 658.00 L509.85 658.50 L510.29 659.00 L510.74 659.50 L511.19 660.00 L511.66 660.50 L512.14 661.00 L512.62 661.50 L513.12 662.00 L513.62 662.50 L514.13 663.00 L514.64 663.50 L515.16 664.00 L515.68 664.50 L516.20 665.00 L516.72 665.50 L517.24 666.00 L517.77 666.50 L518.30 667.00 L518.84 667.50 L519.38 668.00 L519.93 668.50 L520.48 669.00 L521.03 669.50 L521.58 670.00 L522.13 670.50 L522.68 671.00 L523.23 671.50 L523.78 672.00 L524.33 672.50 L524.87 673.00 L525.41 673.50 L525.95 674.00 L526.49 674.50 L527.04 675.00 L527.58 675.50 L528.12 676.00 L528.66 676.50 L529.19 677.00 L529.73 677.50 L530.26 678.00 L530.79 678.50 L531.32 679.00 L531.85 679.50 L532.37 680.00 L532.89 680.50 L533.41 681.00 L533.93 681.50 L534.44 682.00 L534.96 682.50 L535.47 683.00 L535.98 683.50 L536.49 684.00 L537.00 684.50 L537.51 685.00 L538.02 685.50 L538.52 686.00 L539.04 686.50 L539.56 687.00 L540.09 687.50 L540.62 688.00 L541.15 688.50 L541.67 689.00 L542.18 689.50 L542.69 690.00 L543.18 690.50 L543.66 691.00 L544.12 691.50 L544.56 692.00 L544.98 692.50 L545.38 693.00 L545.78 693.50 L546.17 694.00 L546.55 694.50 L546.92 695.00 L547.28 695.50 L547.63 696.00 L547.97 696.50 L548.30 697.00 L548.62 697.50 L548.93 698.00 L549.23 698.50 L549.52 699.00 L549.81 699.50 L550.10 700.00 L550.38 700.50 L550.66 701.00 L550.92 701.50 L551.17 702.00 L551.41 702.50 L551.62 703.00 L551.81 703.50 L551.97 704.00 L552.11 704.50 L552.25 705.00 L552.38 705.50 L552.49 706.00 L552.60 706.50 L552.69 707.00 L552.75 707.50 L552.80 708.00 L552.83 708.50 L552.86 709.00 L552.89 709.50 L552.92 710.00 L552.94 710.50 L552.96 711.00 L552.98 711.50 L553.00 712.00 L553.01 712.50 L553.03 713.00 L553.04 713.50 L553.05 714.00 L553.07 714.50 L553.08 715.00 L553.09 715.50 L553.10 716.00 L553.11 716.50 L553.12 717.00 L553.13 717.50 L553.14 718.00 L553.15 718.50 L553.16 719.00 L553.16 719.50 L553.17 720.00 L553.18 720.50 L553.19 721.00 L553.19 721.50 L553.20 722.00 L553.21 722.50 L553.22 723.00 L553.22 723.50 L553.23 724.00 L553.24 724.50 L553.25 725.00 L553.26 725.50 L553.27 726.00 L553.28 726.50 L553.29 727.00 L553.30 727.50 L553.32 728.00 L553.33 728.50 L553.34 729.00 L553.35 729.50 L553.37 730.00 L553.38 730.50 L553.39 731.00 L553.41 731.50 L553.42 732.00 L553.44 732.50 L553.45 733.00 L553.55 733.00 L553.56 732.50 L553.58 732.00 L553.59 731.50 L553.61 731.00 L553.62 730.50 L553.63 730.00 L553.65 729.50 L553.66 729.00 L553.67 728.50 L553.68 728.00 L553.70 727.50 L553.71 727.00 L553.72 726.50 L553.73 726.00 L553.74 725.50 L553.75 725.00 L553.76 724.50 L553.77 724.00 L553.78 723.50 L553.78 723.00 L553.79 722.50 L553.80 722.00 L553.81 721.50 L553.81 721.00 L553.82 720.50 L553.83 720.00 L553.84 719.50 L553.84 719.00 L553.85 718.50 L553.86 718.00 L553.87 717.50 L553.88 717.00 L553.89 716.50 L553.90 716.00 L553.91 715.50 L553.92 715.00 L553.93 714.50 L553.95 714.00 L553.96 713.50 L553.97 713.00 L553.99 712.50 L554.00 712.00 L554.02 711.50 L554.04 711.00 L554.06 710.50 L554.08 710.00 L554.11 709.50 L554.14 709.00 L554.17 708.50 L554.20 708.00 L554.25 707.50 L554.31 707.00 L554.40 706.50 L554.51 706.00 L554.62 705.50 L554.75 705.00 L554.89 704.50 L555.03 704.00 L555.19 703.50 L555.38 703.00 L555.59 702.50 L555.83 702.00 L556.08 701.50 L556.34 701.00 L556.62 700.50 L556.90 700.00 L557.19 699.50 L557.48 699.00 L557.77 698.50 L558.07 698.00 L558.38 697.50 L558.70 697.00 L559.03 696.50 L559.37 696.00 L559.72 695.50 L560.08 695.00 L560.45 694.50 L560.83 694.00 L561.22 693.50 L561.62 693.00 L562.02 692.50 L562.44 692.00 L562.88 691.50 L563.34 691.00 L563.82 690.50 L564.31 690.00 L564.82 689.50 L565.33 689.00 L565.85 688.50 L566.38 688.00 L566.91 687.50 L567.44 687.00 L567.96 686.50 L568.48 686.00 L568.98 685.50 L569.49 685.00 L570.00 684.50 L570.51 684.00 L571.02 683.50 L571.53 683.00 L572.04 682.50 L572.56 682.00 L573.07 681.50 L573.59 681.00 L574.11 680.50 L574.63 680.00 L575.15 679.50 L575.68 679.00 L576.21 678.50 L576.74 678.00 L577.27 677.50 L577.81 677.00 L578.34 676.50 L578.88 676.00 L579.42 675.50 L579.96 675.00 L580.51 674.50 L581.05 674.00 L581.59 673.50 L582.13 673.00 L582.67 672.50 L583.22 672.00 L583.77 671.50 L584.32 671.00 L584.87 670.50 L585.42 670.00 L585.97 669.50 L586.52 669.00 L587.07 668.50 L587.62 668.00 L588.16 667.50 L588.70 667.00 L589.23 666.50 L589.76 666.00 L590.28 665.50 L590.80 665.00 L591.32 664.50 L591.84 664.00 L592.36 663.50 L592.87 663.00 L593.38 662.50 L593.88 662.00 L594.38 661.50 L594.86 661.00 L595.34 660.50 L595.81 660.00 L596.26 659.50 L596.71 659.00 L597.15 658.50 L597.60 658.00 L598.04 657.50 L598.48 657.00 L598.91 656.50 L599.33 656.00 L599.74 655.50 L600.13 655.00 L600.51 654.50 L600.87 654.00 L601.21 653.50 L601.52 653.00 L601.82 652.50 L602.12 652.00 L602.41 651.50 L602.71 651.00 L603.00 650.50 L603.27 650.00 L603.54 649.50 L603.78 649.00 L604.00 648.50 L604.20 648.00 L604.37 647.50 L604.51 647.00 L604.61 646.50 L604.68 646.00 L604.73 645.50 L604.78 645.00 L604.83 644.50 L604.87 644.00 L604.91 643.50 L604.94 643.00 L604.97 642.50 L605.00 642.00 L605.03 641.50 L605.06 641.00 L605.09 640.50 L605.12 640.00 L605.15 639.50 L605.18 639.00 L605.21 638.50 L605.23 638.00 L605.25 637.50 L605.28 637.00 L605.30 636.50 L605.32 636.00 L605.35 635.50 L605.38 635.00 L605.41 634.50 L605.45 634.00 L605.50 633.50 L605.55 633.00 L605.65 632.50 L605.81 632.00 L606.01 631.50 L606.25 631.00 L606.52 630.50 L606.80 630.00 L607.10 629.50 L607.39 629.00 L607.68 628.50 L607.94 628.00 L608.18 627.50 L608.40 627.00 L608.62 626.50 L608.84 626.00 L609.05 625.50 L609.27 625.00 L609.48 624.50 L609.69 624.00 L609.90 623.50 L610.11 623.00 L610.32 622.50 L610.54 622.00 L610.76 621.50 L610.98 621.00 L611.20 620.50 L611.43 620.00 L611.66 619.50 L611.89 619.00 L612.11 618.50 L612.34 618.00 L612.56 617.50 L612.79 617.00 L613.01 616.50 L613.24 616.00 L613.47 615.50 L613.71 615.00 L613.95 614.50 L614.19 614.00 L614.44 613.50 L614.70 613.00 L614.96 612.50 L615.23 612.00 L615.52 611.50 L615.81 611.00 L616.11 610.50 L616.42 610.00 L616.76 609.50 L617.11 609.00 L617.48 608.50 L617.88 608.00 L618.28 607.50 L618.71 607.00 L619.15 606.50 L619.60 606.00 L620.05 605.50 L620.52 605.00 L621.00 604.50 L621.48 604.00 L621.96 603.50 L622.44 603.00 L622.92 602.50 L623.40 602.00 L623.88 601.50 L624.35 601.00 L624.81 600.50 L625.28 600.00 L625.77 599.50 L626.26 599.00 L626.76 598.50 L627.25 598.00 L627.72 597.50 L628.17 597.00 L628.59 596.50 L629.01 596.00 L629.42 595.50 L629.83 595.00 L630.23 594.50 L630.60 594.00 L630.96 593.50 L631.28 593.00 L631.56 592.50 L631.81 592.00 L632.02 591.50 L632.22 591.00 L632.41 590.50 L632.59 590.00 L632.75 589.50 L632.90 589.00 L633.04 588.50 L633.17 588.00 L633.28 587.50 L633.37 587.00 L633.45 586.50 L633.52 586.00 L633.58 585.50 L633.64 585.00 L633.68 584.50 L633.73 584.00 L633.77 583.50 L633.81 583.00 L633.86 582.50 L633.90 582.00 L633.95 581.50 L634.00 581.00 L634.06 580.50 L634.13 580.00 L634.22 579.50 L634.33 579.00 L634.45 578.50 L634.57 578.00 L634.71 577.50 L634.84 577.00 L634.97 576.50 L635.09 576.00 L635.19 575.50 L635.28 575.00 L635.35 574.50 L635.39 574.00 L635.40 573.50 L635.39 573.00 L635.37 572.50 L635.34 572.00 L635.30 571.50 L635.25 571.00 L635.20 570.50 L635.14 570.00 L635.07 569.50 L634.96 569.00 L634.80 568.50 L634.60 568.00 L634.37 567.50 L634.10 567.00 L633.80 566.50 L633.49 566.00 L633.16 565.50 L632.82 565.00 L632.47 564.50 L632.11 564.00 L631.69 563.50 L631.22 563.00 L630.70 562.50 L630.16 562.00 L629.58 561.50 L628.98 561.00 L628.37 560.50 L627.75 560.00 L627.13 559.50 L626.51 559.00 L625.91 558.50 L625.32 558.00 L624.72 557.50 L624.12 557.00 L623.50 556.50 L622.88 556.00 L622.26 555.50 L621.63 555.00 L620.99 554.50 L620.34 554.00 L619.69 553.50 L619.03 553.00 L618.36 552.50 L617.68 552.00 L617.00 551.50 L616.31 551.00 L615.59 550.50 L614.85 550.00 L614.10 549.50 L613.33 549.00 L612.56 548.50 L611.78 548.00 L611.01 547.50 L610.23 547.00 L609.47 546.50 L608.71 546.00 L607.97 545.50 L607.26 545.00 L606.56 544.50 L605.88 544.00 L605.20 543.50 L604.54 543.00 L603.88 542.50 L603.23 542.00 L602.58 541.50 L601.94 541.00 L601.31 540.50 L600.69 540.00 L600.06 539.50 L599.45 539.00 L598.83 538.50 L598.22 538.00 L597.62 537.50 L597.02 537.00 L596.42 536.50 L595.83 536.00 L595.24 535.50 L594.66 535.00 L594.08 534.50 L593.51 534.00 L592.94 533.50 L592.38 533.00 L591.82 532.50 L591.27 532.00 L590.73 531.50 L590.18 531.00 L589.64 530.50 L589.09 530.00 L588.55 529.50 L588.02 529.00 L587.49 528.50 L586.97 528.00 L586.46 527.50 L585.96 527.00 L585.47 526.50 L584.99 526.00 L584.53 525.50 L584.09 525.00 L583.65 524.50 L583.22 524.00 L582.80 523.50 L582.39 523.00 L581.99 522.50 L581.60 522.00 L581.21 521.50 L580.84 521.00 L580.47 520.50 L580.10 520.00 L579.75 519.50 L579.41 519.00 L579.07 518.50 L578.73 518.00 L578.40 517.50 L578.08 517.00 L577.76 516.50 L577.44 516.00 L577.14 515.50 L576.84 515.00 L576.54 514.50 L576.26 514.00 L575.99 513.50 L575.72 513.00 L575.47 512.50 L575.23 512.00 L575.00 511.50 L574.78 511.00 L574.56 510.50 L574.35 510.00 L574.15 509.50 L573.96 509.00 L573.76 508.50 L573.57 508.00 L573.38 507.50 L573.19 507.00 L572.99 506.50 L572.80 506.00 L572.60 505.50 L572.40 505.00 L572.20 504.50 L572.01 504.00 L571.82 503.50 L571.63 503.00 L571.44 502.50 L571.24 502.00 L571.05 501.50 L570.85 501.00 L570.66 500.50 L570.45 500.00 L570.25 499.50 L570.04 499.00 L569.82 498.50 L569.60 498.00 L569.38 497.50 L569.16 497.00 L568.93 496.50 L568.70 496.00 L568.46 495.50 L568.23 495.00 L567.99 494.50 L567.75 494.00 L567.51 493.50 L567.28 493.00 L567.04 492.50 L566.79 492.00 L566.54 491.50 L566.29 491.00 L566.04 490.50 L565.78 490.00 L565.53 489.50 L565.27 489.00 L565.02 488.50 L564.76 488.00 L564.51 487.50 L564.27 487.00 L564.02 486.50 L563.79 486.00 L563.56 485.50 L563.33 485.00 L563.10 484.50 L562.88 484.00 L562.65 483.50 L562.43 483.00 L562.22 482.50 L562.00 482.00 L561.78 481.50 L561.57 481.00 L561.36 480.50 L561.15 480.00 L560.93 479.50 L560.72 479.00 L560.51 478.50 L560.29 478.00 L560.07 477.50 L559.85 477.00 L559.64 476.50 L559.42 476.00 L559.21 475.50 L559.01 475.00 L558.81 474.50 L558.62 474.00 L558.44 473.50 L558.26 473.00 L558.10 472.50 L557.94 472.00 L557.78 471.50 L557.64 471.00 L557.49 470.50 L557.35 470.00 L557.22 469.50 L557.08 469.00 L556.95 468.50 L556.82 468.00 L556.70 467.50 L556.57 467.00 L556.45 466.50 L556.32 466.00 L556.19 465.50 L556.06 465.00 L555.93 464.50 L555.81 464.00 L555.68 463.50 L555.55 463.00 L555.44 462.50 L555.32 462.00 L555.21 461.50 L555.11 461.00 L555.02 460.50 L554.94 460.00 L554.87 459.50 L554.81 459.00 L554.74 458.50 L554.68 458.00 L554.63 457.50 L554.57 457.00 L554.52 456.50 L554.48 456.00 L554.43 455.50 L554.39 455.00 L554.35 454.50 L554.31 454.00 L554.28 453.50 L554.24 453.00 L554.21 452.50 L554.18 452.00 L554.16 451.50 L554.13 451.00 L554.11 450.50 L554.08 450.00 L554.06 449.50 L554.04 449.00 L554.02 448.50 L554.00 448.00 L553.98 447.50 L553.96 447.00 L553.94 446.50 L553.92 446.00 L553.91 445.50 L553.89 445.00 L553.87 444.50 L553.86 444.00 L553.84 443.50 L553.83 443.00 L553.81 442.50 L553.80 442.00 L553.79 441.50 L553.77 441.00 L553.76 440.50 L553.75 440.00 L553.74 439.50 L553.73 439.00 L553.72 438.50 L553.70 438.00 L553.69 437.50 L553.68 437.00 L553.68 436.50 L553.67 436.00 L553.66 435.50 L553.65 435.00 L553.64 434.50 L553.63 434.00 L553.63 433.50 L553.62 433.00 L553.61 432.50 L553.60 432.00 L553.60 431.50 L553.59 431.00 L553.58 430.50 L553.58 430.00 L553.57 429.50 L553.57 429.00 L553.56 428.50 L553.55 428.00 L553.55 427.50 L553.54 427.00 L553.54 426.50 L553.53 426.00 L553.53 425.50 L553.53 425.00 L553.52 424.50 L553.52 424.00Z" fill="#00A1D5" fill-opacity="0.55"/>
<line x1="161.2" x2="161.2" y1="452.5" y2="562.2" stroke="#333333" stroke-width="0.65"/>
<line x1="161.2" x2="161.2" y1="635.1" y2="711.8" stroke="#333333" stroke-width="0.65"/>
<circle cx="161.05" cy="445.50" r="1.4" fill="none" stroke="#333333" stroke-opacity="0.72" stroke-width="0.42"/>
<rect x="90.15" y="562.2" width="141.50" height="72.90" fill="#374E55" stroke="#333333" stroke-width="0.72"/>
<line x1="90.15" x2="231.65" y1="595.2" y2="595.2" stroke="#333333" stroke-width="1.5"/>
<text transform="translate(161.05 593.35) rotate(0.1)" font-size="6.0" text-anchor="middle" fill="#ffffff" fill-opacity="0.75" font-family="'Liberation Sans', Arial, sans-serif">52</text>
<line x1="357.45" x2="357.45" y1="459.6" y2="580.2" stroke="#333333" stroke-width="0.65"/>
<line x1="357.45" x2="357.45" y1="660.3" y2="711.6" stroke="#333333" stroke-width="0.65"/>
<circle cx="357.55" cy="438.50" r="1.4" fill="none" stroke="#333333" stroke-opacity="0.72" stroke-width="0.42"/>
<circle cx="357.55" cy="449.40" r="1.4" fill="none" stroke="#333333" stroke-opacity="0.72" stroke-width="0.42"/>
<circle cx="357.55" cy="453.40" r="1.4" fill="none" stroke="#333333" stroke-opacity="0.72" stroke-width="0.42"/>
<circle cx="357.55" cy="456.90" r="1.4" fill="none" stroke="#333333" stroke-opacity="0.72" stroke-width="0.42"/>
<rect x="286.45" y="580.2" width="141.50" height="80.10" fill="#DF8F44" stroke="#333333" stroke-width="0.72"/>
<line x1="286.45" x2="427.95" y1="624.5" y2="624.5" stroke="#333333" stroke-width="1.5"/>
<text transform="translate(357.3 622.85) rotate(0.1)" font-size="6.0" text-anchor="middle" fill="#ffffff" fill-opacity="0.75" font-family="'Liberation Sans', Arial, sans-serif">44</text>
<line x1="553.5" x2="553.5" y1="456.5" y2="558.4" stroke="#333333" stroke-width="0.65"/>
<line x1="553.5" x2="553.5" y1="627.6" y2="707.9" stroke="#333333" stroke-width="0.65"/>
<circle cx="553.5" cy="448.90" r="1.4" fill="none" stroke="#333333" stroke-opacity="0.72" stroke-width="0.42"/>
<circle cx="553.5" cy="452.90" r="1.4" fill="none" stroke="#333333" stroke-opacity="0.72" stroke-width="0.42"/>
<rect x="482.75" y="558.4" width="141.50" height="69.20" fill="#00A1D5" stroke="#333333" stroke-width="0.72"/>
<line x1="482.75" x2="624.25" y1="591.4" y2="591.4" stroke="#333333" stroke-width="1.5"/>
<text transform="translate(553.5 589.35) rotate(0.1)" font-size="6.0" text-anchor="middle" fill="#ffffff" fill-opacity="0.75" font-family="'Liberation Sans', Arial, sans-serif">53</text>
<text transform="translate(357.2 426.3) rotate(0.1)" font-size="7.08" text-anchor="middle" fill="#000000" font-family="'Liberation Sans', Arial, sans-serif">p = &lt;2e−16</text>
<rect x="29.75" y="386.60" width="1.3" height="363.30" fill="#000000"/>
<rect x="29.75" y="748.50" width="654.65" height="1.4" fill="#1a1a1a"/>
<rect x="28.25" y="419.60" width="1.8" height="1.4" fill="#000000"/>
<text transform="translate(26.8 423.85) rotate(0.1)" font-size="9.55" text-anchor="end" fill="#000000" stroke="#000000" stroke-width="0.1" font-family="'Liberation Sans', Arial, sans-serif">100</text>
<rect x="28.25" y="510.60" width="1.8" height="1.4" fill="#000000"/>
<text transform="translate(26.8 514.85) rotate(0.1)" font-size="9.55" text-anchor="end" fill="#000000" stroke="#000000" stroke-width="0.1" font-family="'Liberation Sans', Arial, sans-serif">75</text>
<rect x="28.25" y="601.60" width="1.8" height="1.4" fill="#000000"/>
<text transform="translate(26.8 605.85) rotate(0.1)" font-size="9.55" text-anchor="end" fill="#000000" stroke="#000000" stroke-width="0.1" font-family="'Liberation Sans', Arial, sans-serif">50</text>
<rect x="28.25" y="692.60" width="1.8" height="1.4" fill="#000000"/>
<text transform="translate(26.8 696.85) rotate(0.1)" font-size="9.55" text-anchor="end" fill="#000000" stroke="#000000" stroke-width="0.1" font-family="'Liberation Sans', Arial, sans-serif">25</text>
<rect x="356.7" y="749.80" width="1.4" height="1.1" fill="#000000"/>
<text transform="translate(348.4 758.8) rotate(0.1)" font-size="9.72" text-anchor="start" fill="#000000" stroke="#000000" stroke-width="0.12" font-family="'Liberation Sans', Arial, sans-serif">Age,years</text>
<text transform="translate(7.9 568.2) rotate(-89.9)" font-size="9.6" text-anchor="middle" fill="#000000" stroke="#000000" stroke-width="0.12" font-family="'Liberation Sans', Arial, sans-serif">Value</text>
</g>
<text transform="translate(70.5 152.8) rotate(0.1)" font-size="7.75" fill="#000000" font-family="'Liberation Serif', 'Times New Roman', serif">Prediabetes to prediabetes</text>
<text transform="translate(289.2 153.6) rotate(0.1)" font-size="7.75" fill="#000000" font-family="'Liberation Serif', 'Times New Roman', serif">Prediabetes to NFG</text>
<text transform="translate(463.3 152.8) rotate(0.1)" font-size="7.75" fill="#000000" font-family="'Liberation Serif', 'Times New Roman', serif">Prediabetes to diabetes</text>
</svg>
</body>
</html>
